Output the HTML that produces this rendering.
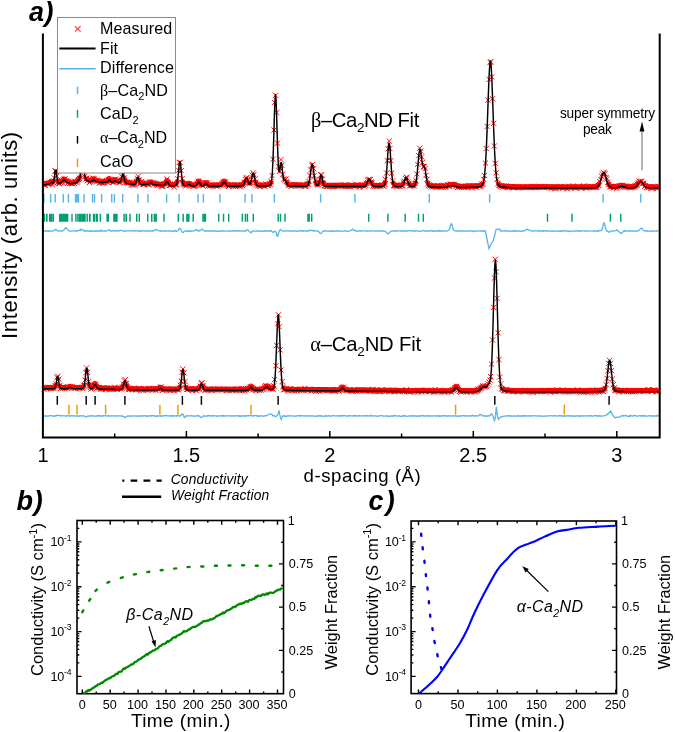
<!DOCTYPE html><html><head><meta charset="utf-8"><style>html,body{margin:0;padding:0;background:#fff;width:675px;height:732px;overflow:hidden}svg{display:block}</style></head><body><svg width="675" height="732" viewBox="0 0 675 732">
<rect width="675" height="732" fill="#fff"/>
<path d="M43.9 183.7 L44.4 183.6 L44.9 183.6 L45.4 183.5 L45.9 183.4 L46.4 183.3 L46.9 183.2 L47.4 183.1 L47.9 183.0 L48.4 182.9 L48.9 182.9 L49.4 182.7 L49.9 182.6 L50.4 182.3 L50.9 181.6 L51.4 181.0 L51.9 181.2 L52.4 181.9 L52.9 182.0 L53.4 181.4 L53.9 179.6 M57.4 179.1 L57.9 181.1 L58.4 182.1 L58.9 182.3 L59.4 182.2 L59.9 182.0 L60.4 181.7 L60.9 181.4 L61.4 181.1 L61.9 180.7 L62.4 180.2 L62.9 179.7 L63.4 179.2 L63.9 178.9 L64.4 179.0 L64.9 179.4 L65.4 179.8 L65.9 180.1 L66.4 180.6 L66.9 180.9 L67.4 181.2 L67.9 181.4 L68.4 181.6 L68.9 181.8 L69.4 182.0 L69.9 182.2 L70.4 182.4 L70.9 182.4 L71.4 182.3 L71.9 182.3 L72.4 182.3 L72.9 182.2 L73.4 182.2 L73.9 182.1 L74.4 182.1 L74.9 181.9 L75.4 181.6 L75.9 181.3 L76.4 181.0 L76.9 180.7 L77.4 180.3 L77.9 179.9 L78.4 179.6 L78.9 179.0 L79.4 177.9 L79.9 176.0 M85.4 176.9 L85.9 178.2 L86.4 178.9 L86.9 179.3 L87.4 179.6 L87.9 179.8 L88.4 180.0 L88.9 180.2 L89.4 180.4 L89.9 180.5 L90.4 180.5 L90.9 180.4 L91.4 180.3 L91.9 180.0 L92.4 179.5 L92.9 178.9 L93.4 178.6 L93.9 178.6 L94.4 179.0 L94.9 179.5 L95.4 179.9 L95.9 180.1 L96.4 180.2 L96.9 180.3 L97.4 180.4 L97.9 180.6 L98.4 180.7 L98.9 180.8 L99.4 181.0 L99.9 181.1 L100.4 181.2 L100.9 181.3 L101.4 181.3 L101.9 181.3 L102.4 181.2 L102.9 181.2 L103.4 181.2 L103.9 181.1 L104.4 181.1 L104.9 181.1 L105.4 181.0 L105.9 181.0 L106.4 180.9 L106.9 180.9 L107.4 180.6 L107.9 180.1 L108.4 179.2 L108.9 178.4 L109.4 178.3 L109.9 179.1 L110.4 180.0 L110.9 180.6 L111.4 180.8 L111.9 180.9 L112.4 180.9 L112.9 180.9 L113.4 180.8 L113.9 180.4 L114.4 179.8 L114.9 179.4 L115.4 179.5 L115.9 180.0 L116.4 180.6 L116.9 181.0 L117.4 181.2 L117.9 181.2 L118.4 181.2 L118.9 181.3 L119.4 181.3 L119.9 181.2 L120.4 180.8 L120.9 179.9 L121.4 178.3 M124.4 177.8 L124.9 179.8 L125.4 181.1 L125.9 181.7 L126.4 182.0 L126.9 182.2 L127.4 182.3 L127.9 182.3 L128.4 182.4 L128.9 182.5 L129.4 182.6 L129.9 182.7 L130.4 182.8 L130.9 182.9 L131.4 183.0 L131.9 183.1 L132.4 183.1 L132.9 183.2 L133.4 183.3 L133.9 183.3 L134.4 183.3 L134.9 183.1 L135.4 182.5 L135.9 181.4 L136.4 179.8 M138.9 178.7 L139.4 180.5 L139.9 181.9 L140.4 182.8 L140.9 183.2 L141.4 183.4 L141.9 183.4 L142.4 183.4 L142.9 183.4 L143.4 183.3 L143.9 183.3 L144.4 183.3 L144.9 183.2 L145.4 183.2 L145.9 183.2 L146.4 183.1 L146.9 183.1 L147.4 183.1 L147.9 183.1 L148.4 182.9 L148.9 182.7 L149.4 182.4 L149.9 182.0 L150.4 181.8 L150.9 181.8 L151.4 182.0 L151.9 182.4 L152.4 182.8 L152.9 183.1 L153.4 183.3 L153.9 183.4 L154.4 183.5 L154.9 183.5 L155.4 183.5 L155.9 183.5 L156.4 183.6 L156.9 183.7 L157.4 183.7 L157.9 183.8 L158.4 183.9 L158.9 183.9 L159.4 184.0 L159.9 184.1 L160.4 184.1 L160.9 184.2 L161.4 184.3 L161.9 184.3 L162.4 184.3 L162.9 184.3 L163.4 184.3 L163.9 184.1 L164.4 183.8 L164.9 183.3 L165.4 182.5 L165.9 181.5 L166.4 180.6 L166.9 180.2 L167.4 180.4 L167.9 181.1 L168.4 182.2 L168.9 183.1 L169.4 183.8 L169.9 184.2 L170.4 184.4 L170.9 184.5 L171.4 184.5 L171.9 184.5 L172.4 184.5 L172.9 184.5 L173.4 184.5 L173.9 184.5 L174.4 184.4 L174.9 184.4 L175.4 184.2 L175.9 184.0 L176.4 183.4 L176.9 182.2 L177.4 179.9 M182.4 179.9 L182.9 182.2 L183.4 183.5 L183.9 184.1 L184.4 184.3 L184.9 184.4 L185.4 184.5 L185.9 184.4 L186.4 184.3 L186.9 184.1 L187.4 183.8 L187.9 183.4 L188.4 183.1 L188.9 183.1 L189.4 183.3 L189.9 183.6 L190.4 184.0 L190.9 184.3 L191.4 184.6 L191.9 184.7 L192.4 184.8 L192.9 184.8 L193.4 184.8 L193.9 184.8 L194.4 184.8 L194.9 184.8 L195.4 184.7 L195.9 184.4 L196.4 184.0 L196.9 183.3 L197.4 182.4 L197.9 181.5 L198.4 180.9 L198.9 180.8 L199.4 181.4 L199.9 182.3 L200.4 183.2 L200.9 183.9 L201.4 184.4 L201.9 184.7 L202.4 184.8 L202.9 184.7 L203.4 184.6 L203.9 184.2 L204.4 183.7 L204.9 183.2 L205.4 182.6 L205.9 182.4 L206.4 182.5 L206.9 182.9 L207.4 183.5 L207.9 184.1 L208.4 184.5 L208.9 184.7 L209.4 184.9 L209.9 184.9 L210.4 184.9 L210.9 184.9 L211.4 185.0 L211.9 185.0 L212.4 185.0 L212.9 185.0 L213.4 185.0 L213.9 185.0 L214.4 185.0 L214.9 185.0 L215.4 185.0 L215.9 185.0 L216.4 185.0 L216.9 185.0 L217.4 185.0 L217.9 185.0 L218.4 185.0 L218.9 185.0 L219.4 184.9 L219.9 184.9 L220.4 184.8 L220.9 184.7 L221.4 184.4 L221.9 183.9 L222.4 183.2 L222.9 182.3 L223.4 181.5 L223.9 180.9 L224.4 180.8 L224.9 181.3 L225.4 182.1 L225.9 183.1 L226.4 183.8 L226.9 184.4 L227.4 184.7 L227.9 184.8 L228.4 184.9 L228.9 184.9 L229.4 185.0 L229.9 185.0 L230.4 185.0 L230.9 185.0 L231.4 185.0 L231.9 185.0 L232.4 185.0 L232.9 185.0 L233.4 185.0 L233.9 185.0 L234.4 185.0 L234.9 185.0 L235.4 185.0 L235.9 185.0 L236.4 185.0 L236.9 185.0 L237.4 185.0 L237.9 185.0 L238.4 185.0 L238.9 185.0 L239.4 184.9 L239.9 184.9 L240.4 184.9 L240.9 184.9 L241.4 184.9 L241.9 184.8 L242.4 184.7 L242.9 184.4 L243.4 183.9 L243.9 183.1 L244.4 181.9 L244.9 180.3 M248.4 181.1 L248.9 182.3 L249.4 183.0 L249.9 183.0 L250.4 182.3 L250.9 180.8 M255.4 180.6 L255.9 182.3 L256.4 183.5 L256.9 184.2 L257.4 184.5 L257.9 184.7 L258.4 184.8 L258.9 184.8 L259.4 184.8 L259.9 184.8 L260.4 184.8 L260.9 184.8 L261.4 184.8 L261.9 184.8 L262.4 184.8 L262.9 184.8 L263.4 184.8 L263.9 184.8 L264.4 184.7 L264.9 184.7 L265.4 184.7 L265.9 184.7 L266.4 184.6 L266.9 184.6 L267.4 184.5 L267.9 184.4 L268.4 184.4 L268.9 184.2 L269.4 184.1 L269.9 183.8 L270.4 183.4 L270.9 182.4 L271.4 180.5 M286.4 180.9 L286.9 182.2 L287.4 183.3 L287.9 184.0 L288.4 184.4 L288.9 184.7 L289.4 184.8 L289.9 184.8 L290.4 184.8 L290.9 184.9 L291.4 184.9 L291.9 184.9 L292.4 184.9 L292.9 184.9 L293.4 185.0 L293.9 185.0 L294.4 185.0 L294.9 185.0 L295.4 185.0 L295.9 185.0 L296.4 185.0 L296.9 185.0 L297.4 185.0 L297.9 185.0 L298.4 185.0 L298.9 185.0 L299.4 185.0 L299.9 185.0 L300.4 185.0 L300.9 185.0 L301.4 185.0 L301.9 185.0 L302.4 185.0 L302.9 185.0 L303.4 185.0 L303.9 185.0 L304.4 185.0 L304.9 184.9 L305.4 184.9 L305.9 184.9 L306.4 184.8 L306.9 184.6 L307.4 184.4 L307.9 183.9 L308.4 182.9 L308.9 181.4 M315.4 181.0 L315.9 182.6 L316.4 183.6 L316.9 184.1 L317.4 184.3 L317.9 184.2 L318.4 183.5 L318.9 182.3 L319.4 180.3 M322.9 180.9 L323.4 182.8 L323.9 183.9 L324.4 184.6 L324.9 184.8 L325.4 185.0 L325.9 185.0 L326.4 185.1 L326.9 185.1 L327.4 185.1 L327.9 185.1 L328.4 185.1 L328.9 185.1 L329.4 185.1 L329.9 185.2 L330.4 185.2 L330.9 185.2 L331.4 185.2 L331.9 185.2 L332.4 185.2 L332.9 185.2 L333.4 185.2 L333.9 185.2 L334.4 185.2 L334.9 185.2 L335.4 185.2 L335.9 185.2 L336.4 185.2 L336.9 185.2 L337.4 185.2 L337.9 185.2 L338.4 185.2 L338.9 185.2 L339.4 185.2 L339.9 185.2 L340.4 185.2 L340.9 185.2 L341.4 185.2 L341.9 185.2 L342.4 185.2 L342.9 185.2 L343.4 185.2 L343.9 185.2 L344.4 185.2 L344.9 185.2 L345.4 185.2 L345.9 185.2 L346.4 185.2 L346.9 185.2 L347.4 185.2 L347.9 185.2 L348.4 185.2 L348.9 185.2 L349.4 185.2 L349.9 185.2 L350.4 185.2 L350.9 185.2 L351.4 185.3 L351.9 185.3 L352.4 185.3 L352.9 185.3 L353.4 185.3 L353.9 185.3 L354.4 185.3 L354.9 185.3 L355.4 185.3 L355.9 185.3 L356.4 185.3 L356.9 185.3 L357.4 185.3 L357.9 185.3 L358.4 185.3 L358.9 185.3 L359.4 185.3 L359.9 185.3 L360.4 185.3 L360.9 185.3 L361.4 185.3 L361.9 185.3 L362.4 185.3 L362.9 185.3 L363.4 185.2 L363.9 185.2 L364.4 185.1 L364.9 184.9 L365.4 184.6 L365.9 184.1 L366.4 183.3 L366.9 182.2 L367.4 181.0 M370.9 180.7 L371.4 182.0 L371.9 183.1 L372.4 184.0 L372.9 184.6 L373.4 184.9 L373.9 185.1 L374.4 185.2 L374.9 185.3 L375.4 185.3 L375.9 185.3 L376.4 185.3 L376.9 185.3 L377.4 185.3 L377.9 185.3 L378.4 185.3 L378.9 185.3 L379.4 185.3 L379.9 185.3 L380.4 185.3 L380.9 185.2 L381.4 185.2 L381.9 185.2 L382.4 185.1 L382.9 185.0 L383.4 184.8 L383.9 184.5 L384.4 183.9 L384.9 182.8 L385.4 180.8 M392.9 181.3 L393.4 183.1 L393.9 184.1 L394.4 184.7 L394.9 185.0 L395.4 185.1 L395.9 185.2 L396.4 185.3 L396.9 185.3 L397.4 185.3 L397.9 185.4 L398.4 185.4 L398.9 185.4 L399.4 185.4 L399.9 185.4 L400.4 185.4 L400.9 185.3 L401.4 185.2 L401.9 185.0 L402.4 184.6 L402.9 183.9 L403.4 182.9 L403.9 181.6 M408.4 181.9 L408.9 183.1 L409.4 184.1 L409.9 184.7 L410.4 185.0 L410.9 185.2 L411.4 185.3 L411.9 185.3 L412.4 185.3 L412.9 185.3 L413.4 185.1 L413.9 184.9 L414.4 184.6 L414.9 183.9 L415.4 182.8 L415.9 181.0 M427.4 181.4 L427.9 183.1 L428.4 184.2 L428.9 184.9 L429.4 185.3 L429.9 185.5 L430.4 185.6 L430.9 185.7 L431.4 185.7 L431.9 185.8 L432.4 185.8 L432.9 185.8 L433.4 185.8 L433.9 185.9 L434.4 185.9 L434.9 185.9 L435.4 185.9 L435.9 185.9 L436.4 185.9 L436.9 186.0 L437.4 186.0 L437.9 186.0 L438.4 186.0 L438.9 186.0 L439.4 186.0 L439.9 186.0 L440.4 186.0 L440.9 186.0 L441.4 186.0 L441.9 186.0 L442.4 186.1 L442.9 186.1 L443.4 186.1 L443.9 186.0 L444.4 186.0 L444.9 186.0 L445.4 186.0 L445.9 185.9 L446.4 185.7 L446.9 185.6 L447.4 185.3 L447.9 185.1 L448.4 184.9 L448.9 184.6 L449.4 184.5 L449.9 184.4 L450.4 184.4 L450.9 184.5 L451.4 184.6 L451.9 184.6 L452.4 184.6 L452.9 184.5 L453.4 184.5 L453.9 184.4 L454.4 184.4 L454.9 184.6 L455.4 184.8 L455.9 185.0 L456.4 185.3 L456.9 185.5 L457.4 185.7 L457.9 185.9 L458.4 186.0 L458.9 186.1 L459.4 186.1 L459.9 186.2 L460.4 186.2 L460.9 186.2 L461.4 186.2 L461.9 186.2 L462.4 186.2 L462.9 186.2 L463.4 186.2 L463.9 186.2 L464.4 186.2 L464.9 186.2 L465.4 186.2 L465.9 186.2 L466.4 186.2 L466.9 186.2 L467.4 186.2 L467.9 186.2 L468.4 186.2 L468.9 186.1 L469.4 186.1 L469.9 186.1 L470.4 186.1 L470.9 186.1 L471.4 186.1 L471.9 186.1 L472.4 186.1 L472.9 186.0 L473.4 186.0 L473.9 186.0 L474.4 186.0 L474.9 185.9 L475.4 185.9 L475.9 185.9 L476.4 185.8 L476.9 185.8 L477.4 185.7 L477.9 185.7 L478.4 185.6 L478.9 185.5 L479.4 185.4 L479.9 185.3 L480.4 185.2 L480.9 185.0 L481.4 184.7 L481.9 184.2 L482.4 183.5 L482.9 182.5 M497.9 182.6 L498.4 183.7 L498.9 184.4 L499.4 184.8 L499.9 185.2 L500.4 185.4 L500.9 185.5 L501.4 185.6 L501.9 185.7 L502.4 185.8 L502.9 185.9 L503.4 186.0 L503.9 186.0 L504.4 186.1 L504.9 186.1 L505.4 186.2 L505.9 186.2 L506.4 186.2 L506.9 186.3 L507.4 186.3 L507.9 186.3 L508.4 186.3 L508.9 186.4 L509.4 186.4 L509.9 186.4 L510.4 186.4 L510.9 186.4 L511.4 186.5 L511.9 186.5 L512.4 186.5 L512.9 186.5 L513.4 186.5 L513.9 186.5 L514.4 186.5 L514.9 186.5 L515.4 186.5 L515.9 186.6 L516.4 186.6 L516.9 186.6 L517.4 186.6 L517.9 186.6 L518.4 186.6 L518.9 186.6 L519.4 186.6 L519.9 186.6 L520.4 186.6 L520.9 186.6 L521.4 186.6 L521.9 186.6 L522.4 186.6 L522.9 186.6 L523.4 186.6 L523.9 186.6 L524.4 186.6 L524.9 186.7 L525.4 186.7 L525.9 186.7 L526.4 186.7 L526.9 186.7 L527.4 186.7 L527.9 186.7 L528.4 186.7 L528.9 186.7 L529.4 186.7 L529.9 186.7 L530.4 186.7 L530.9 186.7 L531.4 186.7 L531.9 186.7 L532.4 186.7 L532.9 186.7 L533.4 186.7 L533.9 186.7 L534.4 186.7 L534.9 186.7 L535.4 186.7 L535.9 186.7 L536.4 186.7 L536.9 186.7 L537.4 186.7 L537.9 186.7 L538.4 186.7 L538.9 186.7 L539.4 186.7 L539.9 186.7 L540.4 186.7 L540.9 186.7 L541.4 186.7 L541.9 186.7 L542.4 186.7 L542.9 186.7 L543.4 186.7 L543.9 186.7 L544.4 186.7 L544.9 186.7 L545.4 186.7 L545.9 186.7 L546.4 186.7 L546.9 186.7 L547.4 186.7 L547.9 186.7 L548.4 186.7 L548.9 186.7 L549.4 186.7 L549.9 186.7 L550.4 186.7 L550.9 186.7 L551.4 186.7 L551.9 186.7 L552.4 186.7 L552.9 186.7 L553.4 186.7 L553.9 186.7 L554.4 186.7 L554.9 186.7 L555.4 186.7 L555.9 186.7 L556.4 186.7 L556.9 186.7 L557.4 186.7 L557.9 186.7 L558.4 186.7 L558.9 186.7 L559.4 186.7 L559.9 186.7 L560.4 186.7 L560.9 186.7 L561.4 186.7 L561.9 186.7 L562.4 186.7 L562.9 186.7 L563.4 186.7 L563.9 186.7 L564.4 186.7 L564.9 186.7 L565.4 186.7 L565.9 186.7 L566.4 186.7 L566.9 186.7 L567.4 186.7 L567.9 186.7 L568.4 186.7 L568.9 186.7 L569.4 186.7 L569.9 186.7 L570.4 186.7 L570.9 186.7 L571.4 186.7 L571.9 186.7 L572.4 186.7 L572.9 186.7 L573.4 186.7 L573.9 186.7 L574.4 186.7 L574.9 186.7 L575.4 186.7 L575.9 186.7 L576.4 186.7 L576.9 186.7 L577.4 186.7 L577.9 186.7 L578.4 186.7 L578.9 186.7 L579.4 186.7 L579.9 186.7 L580.4 186.7 L580.9 186.7 L581.4 186.7 L581.9 186.7 L582.4 186.7 L582.9 186.7 L583.4 186.7 L583.9 186.7 L584.4 186.7 L584.9 186.7 L585.4 186.7 L585.9 186.7 L586.4 186.7 L586.9 186.7 L587.4 186.7 L587.9 186.7 L588.4 186.7 L588.9 186.7 L589.4 186.6 L589.9 186.6 L590.4 186.6 L590.9 186.6 L591.4 186.6 L591.9 186.6 L592.4 186.6 L592.9 186.6 L593.4 186.6 L593.9 186.6 L594.4 186.5 L594.9 186.5 L595.4 186.4 L595.9 186.4 L596.4 186.2 L596.9 186.0 L597.4 185.7 L597.9 185.3 L598.4 184.7 L598.9 183.9 L599.4 182.9 M607.9 182.6 L608.4 183.7 L608.9 184.6 L609.4 185.2 L609.9 185.7 L610.4 186.0 L610.9 186.2 L611.4 186.3 L611.9 186.4 L612.4 186.5 L612.9 186.5 L613.4 186.5 L613.9 186.5 L614.4 186.5 L614.9 186.5 L615.4 186.5 L615.9 186.5 L616.4 186.4 L616.9 186.4 L617.4 186.3 L617.9 186.1 L618.4 186.0 L618.9 185.8 L619.4 185.7 L619.9 185.5 L620.4 185.3 L620.9 185.2 L621.4 185.1 L621.9 185.1 L622.4 185.2 L622.9 185.3 L623.4 185.4 L623.9 185.6 L624.4 185.7 L624.9 185.9 L625.4 186.1 L625.9 186.2 L626.4 186.3 L626.9 186.4 L627.4 186.5 L627.9 186.5 L628.4 186.6 L628.9 186.6 L629.4 186.6 L629.9 186.6 L630.4 186.6 L630.9 186.6 L631.4 186.6 L631.9 186.6 L632.4 186.6 L632.9 186.5 L633.4 186.5 L633.9 186.4 L634.4 186.3 L634.9 186.1 L635.4 185.8 L635.9 185.5 L636.4 185.1 L636.9 184.5 L637.4 183.9 L637.9 183.2 L638.4 182.4 L638.9 181.7 M642.9 182.3 L643.4 183.0 L643.9 183.8 L644.4 184.4 L644.9 185.0 L645.4 185.4 L645.9 185.8 L646.4 186.1 L646.9 186.3 L647.4 186.4 L647.9 186.5 L648.4 186.5 L648.9 186.6 L649.4 186.6 L649.9 186.6 L650.4 186.6 L650.9 186.6 L651.4 186.6 L651.9 186.6 L652.4 186.6 L652.9 186.6 L653.4 186.6 L653.9 186.7 L654.4 186.7 L654.9 186.7 L655.4 186.7 L655.9 186.7 L656.4 186.7 L656.9 186.7 L657.4 186.7 L657.9 186.7 L658.4 186.7" stroke="#ff0000" stroke-width="4.8" fill="none" stroke-linejoin="round" opacity="0.92"/>
<path d="M41.9 182.7l5.2 5.2m0 -5.2l-5.2 5.2M42.6 182.7l5.2 5.2m0 -5.2l-5.2 5.2M43.7 180.4l5.2 5.2m0 -5.2l-5.2 5.2M44.6 181.2l5.2 5.2m0 -5.2l-5.2 5.2M45.5 181.2l5.2 5.2m0 -5.2l-5.2 5.2M46.3 181.0l5.2 5.2m0 -5.2l-5.2 5.2M47.2 180.6l5.2 5.2m0 -5.2l-5.2 5.2M48.2 179.9l5.2 5.2m0 -5.2l-5.2 5.2M49.2 179.2l5.2 5.2m0 -5.2l-5.2 5.2M49.7 182.0l5.2 5.2m0 -5.2l-5.2 5.2M51.0 180.4l5.2 5.2m0 -5.2l-5.2 5.2M51.7 175.3l5.2 5.2m0 -5.2l-5.2 5.2M52.4 168.4l5.2 5.2m0 -5.2l-5.2 5.2M53.4 168.5l5.2 5.2m0 -5.2l-5.2 5.2M54.3 173.4l5.2 5.2m0 -5.2l-5.2 5.2M55.2 179.5l5.2 5.2m0 -5.2l-5.2 5.2M56.1 180.5l5.2 5.2m0 -5.2l-5.2 5.2M56.9 181.0l5.2 5.2m0 -5.2l-5.2 5.2M58.1 180.1l5.2 5.2m0 -5.2l-5.2 5.2M58.8 178.1l5.2 5.2m0 -5.2l-5.2 5.2M59.6 179.9l5.2 5.2m0 -5.2l-5.2 5.2M60.6 177.2l5.2 5.2m0 -5.2l-5.2 5.2M61.8 176.7l5.2 5.2m0 -5.2l-5.2 5.2M62.5 176.2l5.2 5.2m0 -5.2l-5.2 5.2M63.3 178.8l5.2 5.2m0 -5.2l-5.2 5.2M64.3 177.8l5.2 5.2m0 -5.2l-5.2 5.2M65.2 180.6l5.2 5.2m0 -5.2l-5.2 5.2M66.1 178.7l5.2 5.2m0 -5.2l-5.2 5.2M67.1 180.7l5.2 5.2m0 -5.2l-5.2 5.2M67.9 180.6l5.2 5.2m0 -5.2l-5.2 5.2M68.9 180.8l5.2 5.2m0 -5.2l-5.2 5.2M69.8 181.2l5.2 5.2m0 -5.2l-5.2 5.2M70.6 179.6l5.2 5.2m0 -5.2l-5.2 5.2M71.6 180.8l5.2 5.2m0 -5.2l-5.2 5.2M72.4 179.0l5.2 5.2m0 -5.2l-5.2 5.2M73.1 179.2l5.2 5.2m0 -5.2l-5.2 5.2M74.4 180.0l5.2 5.2m0 -5.2l-5.2 5.2M75.1 178.5l5.2 5.2m0 -5.2l-5.2 5.2M76.0 177.0l5.2 5.2m0 -5.2l-5.2 5.2M77.1 175.9l5.2 5.2m0 -5.2l-5.2 5.2M77.9 171.5l5.2 5.2m0 -5.2l-5.2 5.2M78.6 163.9l5.2 5.2m0 -5.2l-5.2 5.2M79.6 157.8l5.2 5.2m0 -5.2l-5.2 5.2M80.5 161.0l5.2 5.2m0 -5.2l-5.2 5.2M81.6 166.9l5.2 5.2m0 -5.2l-5.2 5.2M82.1 173.9l5.2 5.2m0 -5.2l-5.2 5.2M83.4 176.3l5.2 5.2m0 -5.2l-5.2 5.2M84.2 175.6l5.2 5.2m0 -5.2l-5.2 5.2M85.0 178.1l5.2 5.2m0 -5.2l-5.2 5.2M85.9 177.1l5.2 5.2m0 -5.2l-5.2 5.2M86.8 180.0l5.2 5.2m0 -5.2l-5.2 5.2M87.6 179.1l5.2 5.2m0 -5.2l-5.2 5.2M88.5 177.4l5.2 5.2m0 -5.2l-5.2 5.2M89.4 177.8l5.2 5.2m0 -5.2l-5.2 5.2M90.4 175.7l5.2 5.2m0 -5.2l-5.2 5.2M91.3 176.3l5.2 5.2m0 -5.2l-5.2 5.2M92.1 178.0l5.2 5.2m0 -5.2l-5.2 5.2M93.1 178.1l5.2 5.2m0 -5.2l-5.2 5.2M94.1 179.2l5.2 5.2m0 -5.2l-5.2 5.2M95.0 177.3l5.2 5.2m0 -5.2l-5.2 5.2M95.9 178.6l5.2 5.2m0 -5.2l-5.2 5.2M96.5 180.6l5.2 5.2m0 -5.2l-5.2 5.2M97.7 179.3l5.2 5.2m0 -5.2l-5.2 5.2M98.4 179.4l5.2 5.2m0 -5.2l-5.2 5.2M99.3 180.2l5.2 5.2m0 -5.2l-5.2 5.2M100.1 180.0l5.2 5.2m0 -5.2l-5.2 5.2M101.1 179.7l5.2 5.2m0 -5.2l-5.2 5.2M102.0 179.9l5.2 5.2m0 -5.2l-5.2 5.2M102.9 178.8l5.2 5.2m0 -5.2l-5.2 5.2M103.9 178.0l5.2 5.2m0 -5.2l-5.2 5.2M104.8 179.5l5.2 5.2m0 -5.2l-5.2 5.2M105.6 177.6l5.2 5.2m0 -5.2l-5.2 5.2M106.6 177.7l5.2 5.2m0 -5.2l-5.2 5.2M107.4 178.6l5.2 5.2m0 -5.2l-5.2 5.2M108.2 177.4l5.2 5.2m0 -5.2l-5.2 5.2M109.1 177.9l5.2 5.2m0 -5.2l-5.2 5.2M110.1 179.7l5.2 5.2m0 -5.2l-5.2 5.2M111.2 179.6l5.2 5.2m0 -5.2l-5.2 5.2M111.9 177.1l5.2 5.2m0 -5.2l-5.2 5.2M113.1 176.6l5.2 5.2m0 -5.2l-5.2 5.2M113.7 178.9l5.2 5.2m0 -5.2l-5.2 5.2M114.8 178.2l5.2 5.2m0 -5.2l-5.2 5.2M115.5 178.4l5.2 5.2m0 -5.2l-5.2 5.2M116.6 180.0l5.2 5.2m0 -5.2l-5.2 5.2M117.6 179.8l5.2 5.2m0 -5.2l-5.2 5.2M118.5 178.2l5.2 5.2m0 -5.2l-5.2 5.2M119.1 173.9l5.2 5.2m0 -5.2l-5.2 5.2M120.3 172.5l5.2 5.2m0 -5.2l-5.2 5.2M120.9 171.8l5.2 5.2m0 -5.2l-5.2 5.2M121.7 175.4l5.2 5.2m0 -5.2l-5.2 5.2M122.9 179.3l5.2 5.2m0 -5.2l-5.2 5.2M123.9 179.8l5.2 5.2m0 -5.2l-5.2 5.2M124.7 179.8l5.2 5.2m0 -5.2l-5.2 5.2M125.7 180.1l5.2 5.2m0 -5.2l-5.2 5.2M126.4 180.2l5.2 5.2m0 -5.2l-5.2 5.2M127.2 179.7l5.2 5.2m0 -5.2l-5.2 5.2M128.2 181.2l5.2 5.2m0 -5.2l-5.2 5.2M129.0 182.2l5.2 5.2m0 -5.2l-5.2 5.2M129.9 182.2l5.2 5.2m0 -5.2l-5.2 5.2M130.9 182.1l5.2 5.2m0 -5.2l-5.2 5.2M132.0 180.5l5.2 5.2m0 -5.2l-5.2 5.2M132.5 182.2l5.2 5.2m0 -5.2l-5.2 5.2M133.8 178.7l5.2 5.2m0 -5.2l-5.2 5.2M134.6 176.0l5.2 5.2m0 -5.2l-5.2 5.2M135.5 173.8l5.2 5.2m0 -5.2l-5.2 5.2M136.4 177.2l5.2 5.2m0 -5.2l-5.2 5.2M137.4 180.4l5.2 5.2m0 -5.2l-5.2 5.2M138.2 180.7l5.2 5.2m0 -5.2l-5.2 5.2M138.9 178.9l5.2 5.2m0 -5.2l-5.2 5.2M140.0 181.6l5.2 5.2m0 -5.2l-5.2 5.2M141.0 181.8l5.2 5.2m0 -5.2l-5.2 5.2M141.6 181.5l5.2 5.2m0 -5.2l-5.2 5.2M142.7 181.3l5.2 5.2m0 -5.2l-5.2 5.2M143.4 180.0l5.2 5.2m0 -5.2l-5.2 5.2M144.5 180.8l5.2 5.2m0 -5.2l-5.2 5.2M145.3 181.7l5.2 5.2m0 -5.2l-5.2 5.2M146.1 182.4l5.2 5.2m0 -5.2l-5.2 5.2M147.1 179.6l5.2 5.2m0 -5.2l-5.2 5.2M147.8 180.0l5.2 5.2m0 -5.2l-5.2 5.2M149.0 180.2l5.2 5.2m0 -5.2l-5.2 5.2M149.7 181.1l5.2 5.2m0 -5.2l-5.2 5.2M150.7 179.7l5.2 5.2m0 -5.2l-5.2 5.2M151.6 181.6l5.2 5.2m0 -5.2l-5.2 5.2M152.4 180.7l5.2 5.2m0 -5.2l-5.2 5.2M153.6 182.1l5.2 5.2m0 -5.2l-5.2 5.2M154.3 182.0l5.2 5.2m0 -5.2l-5.2 5.2M155.1 182.6l5.2 5.2m0 -5.2l-5.2 5.2M156.2 181.5l5.2 5.2m0 -5.2l-5.2 5.2M157.1 182.1l5.2 5.2m0 -5.2l-5.2 5.2M157.7 182.0l5.2 5.2m0 -5.2l-5.2 5.2M158.6 183.6l5.2 5.2m0 -5.2l-5.2 5.2M159.6 183.5l5.2 5.2m0 -5.2l-5.2 5.2M160.4 183.2l5.2 5.2m0 -5.2l-5.2 5.2M161.4 182.0l5.2 5.2m0 -5.2l-5.2 5.2M162.2 181.2l5.2 5.2m0 -5.2l-5.2 5.2M163.5 180.9l5.2 5.2m0 -5.2l-5.2 5.2M164.4 176.5l5.2 5.2m0 -5.2l-5.2 5.2M165.0 180.4l5.2 5.2m0 -5.2l-5.2 5.2M165.8 180.5l5.2 5.2m0 -5.2l-5.2 5.2M167.0 182.8l5.2 5.2m0 -5.2l-5.2 5.2M168.0 182.5l5.2 5.2m0 -5.2l-5.2 5.2M168.6 182.5l5.2 5.2m0 -5.2l-5.2 5.2M169.5 181.8l5.2 5.2m0 -5.2l-5.2 5.2M170.3 182.0l5.2 5.2m0 -5.2l-5.2 5.2M171.6 184.4l5.2 5.2m0 -5.2l-5.2 5.2M172.1 181.2l5.2 5.2m0 -5.2l-5.2 5.2M173.4 182.3l5.2 5.2m0 -5.2l-5.2 5.2M174.1 181.9l5.2 5.2m0 -5.2l-5.2 5.2M174.9 176.1l5.2 5.2m0 -5.2l-5.2 5.2M175.9 167.6l5.2 5.2m0 -5.2l-5.2 5.2M176.6 159.8l5.2 5.2m0 -5.2l-5.2 5.2M177.6 159.9l5.2 5.2m0 -5.2l-5.2 5.2M178.7 168.1l5.2 5.2m0 -5.2l-5.2 5.2M179.6 175.9l5.2 5.2m0 -5.2l-5.2 5.2M180.3 181.1l5.2 5.2m0 -5.2l-5.2 5.2M181.2 181.9l5.2 5.2m0 -5.2l-5.2 5.2M182.4 182.0l5.2 5.2m0 -5.2l-5.2 5.2M183.0 183.4l5.2 5.2m0 -5.2l-5.2 5.2M184.0 181.9l5.2 5.2m0 -5.2l-5.2 5.2M184.9 182.3l5.2 5.2m0 -5.2l-5.2 5.2M185.7 181.2l5.2 5.2m0 -5.2l-5.2 5.2M186.5 181.3l5.2 5.2m0 -5.2l-5.2 5.2M187.4 181.7l5.2 5.2m0 -5.2l-5.2 5.2M188.6 182.4l5.2 5.2m0 -5.2l-5.2 5.2M189.4 182.5l5.2 5.2m0 -5.2l-5.2 5.2M190.4 183.7l5.2 5.2m0 -5.2l-5.2 5.2M191.3 183.2l5.2 5.2m0 -5.2l-5.2 5.2M191.9 183.3l5.2 5.2m0 -5.2l-5.2 5.2M193.1 182.9l5.2 5.2m0 -5.2l-5.2 5.2M194.1 181.8l5.2 5.2m0 -5.2l-5.2 5.2M194.6 180.6l5.2 5.2m0 -5.2l-5.2 5.2M195.7 178.5l5.2 5.2m0 -5.2l-5.2 5.2M196.8 179.5l5.2 5.2m0 -5.2l-5.2 5.2M197.4 180.4l5.2 5.2m0 -5.2l-5.2 5.2M198.3 182.2l5.2 5.2m0 -5.2l-5.2 5.2M199.5 182.6l5.2 5.2m0 -5.2l-5.2 5.2M200.3 183.1l5.2 5.2m0 -5.2l-5.2 5.2M201.2 181.2l5.2 5.2m0 -5.2l-5.2 5.2M202.0 181.4l5.2 5.2m0 -5.2l-5.2 5.2M202.8 180.2l5.2 5.2m0 -5.2l-5.2 5.2M203.7 180.3l5.2 5.2m0 -5.2l-5.2 5.2M204.5 180.6l5.2 5.2m0 -5.2l-5.2 5.2M205.6 183.3l5.2 5.2m0 -5.2l-5.2 5.2M206.5 182.6l5.2 5.2m0 -5.2l-5.2 5.2M207.4 183.3l5.2 5.2m0 -5.2l-5.2 5.2M208.2 182.5l5.2 5.2m0 -5.2l-5.2 5.2M209.3 183.0l5.2 5.2m0 -5.2l-5.2 5.2M210.1 183.1l5.2 5.2m0 -5.2l-5.2 5.2M210.9 182.8l5.2 5.2m0 -5.2l-5.2 5.2M211.8 182.9l5.2 5.2m0 -5.2l-5.2 5.2M212.9 183.3l5.2 5.2m0 -5.2l-5.2 5.2M213.7 183.3l5.2 5.2m0 -5.2l-5.2 5.2M214.5 182.4l5.2 5.2m0 -5.2l-5.2 5.2M215.3 183.4l5.2 5.2m0 -5.2l-5.2 5.2M216.5 182.3l5.2 5.2m0 -5.2l-5.2 5.2M217.3 182.8l5.2 5.2m0 -5.2l-5.2 5.2M218.1 182.4l5.2 5.2m0 -5.2l-5.2 5.2M219.1 181.3l5.2 5.2m0 -5.2l-5.2 5.2M220.0 180.5l5.2 5.2m0 -5.2l-5.2 5.2M220.9 179.4l5.2 5.2m0 -5.2l-5.2 5.2M221.7 179.9l5.2 5.2m0 -5.2l-5.2 5.2M222.8 179.3l5.2 5.2m0 -5.2l-5.2 5.2M223.6 181.7l5.2 5.2m0 -5.2l-5.2 5.2M224.7 182.6l5.2 5.2m0 -5.2l-5.2 5.2M225.6 183.4l5.2 5.2m0 -5.2l-5.2 5.2M226.2 183.7l5.2 5.2m0 -5.2l-5.2 5.2M227.1 182.6l5.2 5.2m0 -5.2l-5.2 5.2M228.2 182.0l5.2 5.2m0 -5.2l-5.2 5.2M229.1 182.9l5.2 5.2m0 -5.2l-5.2 5.2M230.1 182.2l5.2 5.2m0 -5.2l-5.2 5.2M230.7 183.7l5.2 5.2m0 -5.2l-5.2 5.2M231.6 182.8l5.2 5.2m0 -5.2l-5.2 5.2M232.7 183.1l5.2 5.2m0 -5.2l-5.2 5.2M233.3 183.7l5.2 5.2m0 -5.2l-5.2 5.2M234.3 182.6l5.2 5.2m0 -5.2l-5.2 5.2M235.3 182.2l5.2 5.2m0 -5.2l-5.2 5.2M236.0 183.4l5.2 5.2m0 -5.2l-5.2 5.2M237.3 183.7l5.2 5.2m0 -5.2l-5.2 5.2M237.9 183.2l5.2 5.2m0 -5.2l-5.2 5.2M239.1 182.1l5.2 5.2m0 -5.2l-5.2 5.2M239.9 183.0l5.2 5.2m0 -5.2l-5.2 5.2M240.8 182.0l5.2 5.2m0 -5.2l-5.2 5.2M241.6 179.9l5.2 5.2m0 -5.2l-5.2 5.2M242.7 176.9l5.2 5.2m0 -5.2l-5.2 5.2M243.5 175.7l5.2 5.2m0 -5.2l-5.2 5.2M244.3 174.8l5.2 5.2m0 -5.2l-5.2 5.2M245.1 177.5l5.2 5.2m0 -5.2l-5.2 5.2M246.3 180.3l5.2 5.2m0 -5.2l-5.2 5.2M247.0 181.3l5.2 5.2m0 -5.2l-5.2 5.2M247.9 180.0l5.2 5.2m0 -5.2l-5.2 5.2M248.7 177.0l5.2 5.2m0 -5.2l-5.2 5.2M249.8 172.6l5.2 5.2m0 -5.2l-5.2 5.2M250.6 170.4l5.2 5.2m0 -5.2l-5.2 5.2M251.3 172.3l5.2 5.2m0 -5.2l-5.2 5.2M252.5 176.2l5.2 5.2m0 -5.2l-5.2 5.2M253.2 179.8l5.2 5.2m0 -5.2l-5.2 5.2M254.1 181.9l5.2 5.2m0 -5.2l-5.2 5.2M255.1 183.3l5.2 5.2m0 -5.2l-5.2 5.2M256.1 182.8l5.2 5.2m0 -5.2l-5.2 5.2M257.0 183.7l5.2 5.2m0 -5.2l-5.2 5.2M257.8 183.5l5.2 5.2m0 -5.2l-5.2 5.2M258.8 182.7l5.2 5.2m0 -5.2l-5.2 5.2M259.6 182.9l5.2 5.2m0 -5.2l-5.2 5.2M260.4 182.1l5.2 5.2m0 -5.2l-5.2 5.2M261.2 183.5l5.2 5.2m0 -5.2l-5.2 5.2M262.4 183.4l5.2 5.2m0 -5.2l-5.2 5.2M263.3 181.3l5.2 5.2m0 -5.2l-5.2 5.2M264.3 182.2l5.2 5.2m0 -5.2l-5.2 5.2M265.0 182.9l5.2 5.2m0 -5.2l-5.2 5.2M265.8 182.8l5.2 5.2m0 -5.2l-5.2 5.2M266.8 181.6l5.2 5.2m0 -5.2l-5.2 5.2M267.5 181.5l5.2 5.2m0 -5.2l-5.2 5.2M268.5 178.8l5.2 5.2m0 -5.2l-5.2 5.2M269.5 173.0l5.2 5.2m0 -5.2l-5.2 5.2M270.4 156.6l5.2 5.2m0 -5.2l-5.2 5.2M271.4 127.4l5.2 5.2m0 -5.2l-5.2 5.2M272.0 99.9l5.2 5.2m0 -5.2l-5.2 5.2M273.0 92.7l5.2 5.2m0 -5.2l-5.2 5.2M274.1 110.0l5.2 5.2m0 -5.2l-5.2 5.2M274.9 140.6l5.2 5.2m0 -5.2l-5.2 5.2M275.9 163.6l5.2 5.2m0 -5.2l-5.2 5.2M276.7 168.9l5.2 5.2m0 -5.2l-5.2 5.2M277.5 163.9l5.2 5.2m0 -5.2l-5.2 5.2M278.4 157.0l5.2 5.2m0 -5.2l-5.2 5.2M279.3 162.8l5.2 5.2m0 -5.2l-5.2 5.2M280.1 171.5l5.2 5.2m0 -5.2l-5.2 5.2M281.2 176.3l5.2 5.2m0 -5.2l-5.2 5.2M282.2 177.4l5.2 5.2m0 -5.2l-5.2 5.2M283.2 176.4l5.2 5.2m0 -5.2l-5.2 5.2M284.0 178.7l5.2 5.2m0 -5.2l-5.2 5.2M284.9 180.4l5.2 5.2m0 -5.2l-5.2 5.2M285.8 182.4l5.2 5.2m0 -5.2l-5.2 5.2M286.7 182.3l5.2 5.2m0 -5.2l-5.2 5.2M287.6 182.4l5.2 5.2m0 -5.2l-5.2 5.2M288.5 183.8l5.2 5.2m0 -5.2l-5.2 5.2M289.4 182.5l5.2 5.2m0 -5.2l-5.2 5.2M290.1 183.2l5.2 5.2m0 -5.2l-5.2 5.2M291.0 182.3l5.2 5.2m0 -5.2l-5.2 5.2M292.0 182.7l5.2 5.2m0 -5.2l-5.2 5.2M292.8 181.9l5.2 5.2m0 -5.2l-5.2 5.2M293.8 183.3l5.2 5.2m0 -5.2l-5.2 5.2M294.5 182.5l5.2 5.2m0 -5.2l-5.2 5.2M295.6 182.1l5.2 5.2m0 -5.2l-5.2 5.2M296.4 183.0l5.2 5.2m0 -5.2l-5.2 5.2M297.4 183.0l5.2 5.2m0 -5.2l-5.2 5.2M298.5 182.9l5.2 5.2m0 -5.2l-5.2 5.2M299.3 182.8l5.2 5.2m0 -5.2l-5.2 5.2M300.1 182.5l5.2 5.2m0 -5.2l-5.2 5.2M301.2 183.1l5.2 5.2m0 -5.2l-5.2 5.2M301.8 183.3l5.2 5.2m0 -5.2l-5.2 5.2M302.8 183.8l5.2 5.2m0 -5.2l-5.2 5.2M303.6 183.3l5.2 5.2m0 -5.2l-5.2 5.2M304.5 181.6l5.2 5.2m0 -5.2l-5.2 5.2M305.6 181.5l5.2 5.2m0 -5.2l-5.2 5.2M306.3 178.8l5.2 5.2m0 -5.2l-5.2 5.2M307.3 173.0l5.2 5.2m0 -5.2l-5.2 5.2M308.1 167.4l5.2 5.2m0 -5.2l-5.2 5.2M309.2 162.6l5.2 5.2m0 -5.2l-5.2 5.2M309.9 161.8l5.2 5.2m0 -5.2l-5.2 5.2M311.1 166.1l5.2 5.2m0 -5.2l-5.2 5.2M311.6 173.1l5.2 5.2m0 -5.2l-5.2 5.2M312.9 177.5l5.2 5.2m0 -5.2l-5.2 5.2M313.6 180.9l5.2 5.2m0 -5.2l-5.2 5.2M314.6 181.9l5.2 5.2m0 -5.2l-5.2 5.2M315.5 182.2l5.2 5.2m0 -5.2l-5.2 5.2M316.2 179.9l5.2 5.2m0 -5.2l-5.2 5.2M317.4 176.9l5.2 5.2m0 -5.2l-5.2 5.2M318.2 172.2l5.2 5.2m0 -5.2l-5.2 5.2M319.0 172.2l5.2 5.2m0 -5.2l-5.2 5.2M319.8 176.6l5.2 5.2m0 -5.2l-5.2 5.2M320.7 181.3l5.2 5.2m0 -5.2l-5.2 5.2M321.8 183.1l5.2 5.2m0 -5.2l-5.2 5.2M322.7 183.0l5.2 5.2m0 -5.2l-5.2 5.2M323.4 183.9l5.2 5.2m0 -5.2l-5.2 5.2M324.4 183.5l5.2 5.2m0 -5.2l-5.2 5.2M325.1 183.5l5.2 5.2m0 -5.2l-5.2 5.2M326.2 183.2l5.2 5.2m0 -5.2l-5.2 5.2M327.3 183.3l5.2 5.2m0 -5.2l-5.2 5.2M328.1 183.2l5.2 5.2m0 -5.2l-5.2 5.2M329.0 183.3l5.2 5.2m0 -5.2l-5.2 5.2M329.7 183.9l5.2 5.2m0 -5.2l-5.2 5.2M330.8 183.0l5.2 5.2m0 -5.2l-5.2 5.2M331.4 183.8l5.2 5.2m0 -5.2l-5.2 5.2M332.5 183.8l5.2 5.2m0 -5.2l-5.2 5.2M333.3 182.7l5.2 5.2m0 -5.2l-5.2 5.2M334.2 183.2l5.2 5.2m0 -5.2l-5.2 5.2M335.2 183.5l5.2 5.2m0 -5.2l-5.2 5.2M336.0 182.7l5.2 5.2m0 -5.2l-5.2 5.2M337.0 183.1l5.2 5.2m0 -5.2l-5.2 5.2M338.1 182.7l5.2 5.2m0 -5.2l-5.2 5.2M338.9 183.4l5.2 5.2m0 -5.2l-5.2 5.2M339.8 183.2l5.2 5.2m0 -5.2l-5.2 5.2M340.6 183.0l5.2 5.2m0 -5.2l-5.2 5.2M341.7 183.7l5.2 5.2m0 -5.2l-5.2 5.2M342.5 182.3l5.2 5.2m0 -5.2l-5.2 5.2M343.2 183.9l5.2 5.2m0 -5.2l-5.2 5.2M344.1 183.3l5.2 5.2m0 -5.2l-5.2 5.2M345.2 183.2l5.2 5.2m0 -5.2l-5.2 5.2M345.9 183.7l5.2 5.2m0 -5.2l-5.2 5.2M346.9 183.4l5.2 5.2m0 -5.2l-5.2 5.2M347.6 183.9l5.2 5.2m0 -5.2l-5.2 5.2M348.5 182.2l5.2 5.2m0 -5.2l-5.2 5.2M349.5 183.3l5.2 5.2m0 -5.2l-5.2 5.2M350.3 183.1l5.2 5.2m0 -5.2l-5.2 5.2M351.5 183.4l5.2 5.2m0 -5.2l-5.2 5.2M352.4 183.3l5.2 5.2m0 -5.2l-5.2 5.2M353.3 182.9l5.2 5.2m0 -5.2l-5.2 5.2M354.1 182.3l5.2 5.2m0 -5.2l-5.2 5.2M355.1 182.3l5.2 5.2m0 -5.2l-5.2 5.2M355.8 182.2l5.2 5.2m0 -5.2l-5.2 5.2M356.8 184.5l5.2 5.2m0 -5.2l-5.2 5.2M357.6 183.8l5.2 5.2m0 -5.2l-5.2 5.2M358.6 182.7l5.2 5.2m0 -5.2l-5.2 5.2M359.3 182.9l5.2 5.2m0 -5.2l-5.2 5.2M360.3 182.9l5.2 5.2m0 -5.2l-5.2 5.2M361.5 183.7l5.2 5.2m0 -5.2l-5.2 5.2M362.3 182.3l5.2 5.2m0 -5.2l-5.2 5.2M363.2 182.7l5.2 5.2m0 -5.2l-5.2 5.2M363.9 180.7l5.2 5.2m0 -5.2l-5.2 5.2M365.1 177.7l5.2 5.2m0 -5.2l-5.2 5.2M365.9 177.2l5.2 5.2m0 -5.2l-5.2 5.2M366.8 176.7l5.2 5.2m0 -5.2l-5.2 5.2M367.7 177.1l5.2 5.2m0 -5.2l-5.2 5.2M368.5 179.3l5.2 5.2m0 -5.2l-5.2 5.2M369.2 180.2l5.2 5.2m0 -5.2l-5.2 5.2M370.3 183.7l5.2 5.2m0 -5.2l-5.2 5.2M371.2 182.8l5.2 5.2m0 -5.2l-5.2 5.2M372.2 183.4l5.2 5.2m0 -5.2l-5.2 5.2M373.0 183.4l5.2 5.2m0 -5.2l-5.2 5.2M373.7 183.2l5.2 5.2m0 -5.2l-5.2 5.2M374.6 183.4l5.2 5.2m0 -5.2l-5.2 5.2M375.7 183.1l5.2 5.2m0 -5.2l-5.2 5.2M376.5 183.3l5.2 5.2m0 -5.2l-5.2 5.2M377.6 182.8l5.2 5.2m0 -5.2l-5.2 5.2M378.3 183.6l5.2 5.2m0 -5.2l-5.2 5.2M379.3 182.1l5.2 5.2m0 -5.2l-5.2 5.2M380.1 183.1l5.2 5.2m0 -5.2l-5.2 5.2M381.0 183.4l5.2 5.2m0 -5.2l-5.2 5.2M382.0 181.8l5.2 5.2m0 -5.2l-5.2 5.2M382.7 176.8l5.2 5.2m0 -5.2l-5.2 5.2M384.0 170.4l5.2 5.2m0 -5.2l-5.2 5.2M384.8 158.0l5.2 5.2m0 -5.2l-5.2 5.2M385.6 146.2l5.2 5.2m0 -5.2l-5.2 5.2M386.7 138.5l5.2 5.2m0 -5.2l-5.2 5.2M387.3 145.9l5.2 5.2m0 -5.2l-5.2 5.2M388.2 158.1l5.2 5.2m0 -5.2l-5.2 5.2M389.1 170.5l5.2 5.2m0 -5.2l-5.2 5.2M390.1 178.3l5.2 5.2m0 -5.2l-5.2 5.2M391.1 182.6l5.2 5.2m0 -5.2l-5.2 5.2M391.8 183.0l5.2 5.2m0 -5.2l-5.2 5.2M392.7 183.0l5.2 5.2m0 -5.2l-5.2 5.2M393.8 183.7l5.2 5.2m0 -5.2l-5.2 5.2M394.5 182.7l5.2 5.2m0 -5.2l-5.2 5.2M395.7 183.4l5.2 5.2m0 -5.2l-5.2 5.2M396.2 183.2l5.2 5.2m0 -5.2l-5.2 5.2M397.5 183.8l5.2 5.2m0 -5.2l-5.2 5.2M398.4 182.1l5.2 5.2m0 -5.2l-5.2 5.2M399.3 183.3l5.2 5.2m0 -5.2l-5.2 5.2M400.2 182.9l5.2 5.2m0 -5.2l-5.2 5.2M401.0 179.5l5.2 5.2m0 -5.2l-5.2 5.2M401.8 178.6l5.2 5.2m0 -5.2l-5.2 5.2M402.9 176.0l5.2 5.2m0 -5.2l-5.2 5.2M403.7 174.7l5.2 5.2m0 -5.2l-5.2 5.2M404.4 175.0l5.2 5.2m0 -5.2l-5.2 5.2M405.4 179.5l5.2 5.2m0 -5.2l-5.2 5.2M406.3 180.9l5.2 5.2m0 -5.2l-5.2 5.2M407.1 183.3l5.2 5.2m0 -5.2l-5.2 5.2M408.0 183.1l5.2 5.2m0 -5.2l-5.2 5.2M409.2 183.0l5.2 5.2m0 -5.2l-5.2 5.2M409.8 182.6l5.2 5.2m0 -5.2l-5.2 5.2M410.6 182.4l5.2 5.2m0 -5.2l-5.2 5.2M411.5 183.2l5.2 5.2m0 -5.2l-5.2 5.2M412.4 180.9l5.2 5.2m0 -5.2l-5.2 5.2M413.4 178.0l5.2 5.2m0 -5.2l-5.2 5.2M414.2 171.3l5.2 5.2m0 -5.2l-5.2 5.2M415.1 161.8l5.2 5.2m0 -5.2l-5.2 5.2M416.1 153.1l5.2 5.2m0 -5.2l-5.2 5.2M417.2 145.6l5.2 5.2m0 -5.2l-5.2 5.2M418.1 148.6l5.2 5.2m0 -5.2l-5.2 5.2M419.0 154.3l5.2 5.2m0 -5.2l-5.2 5.2M419.8 159.8l5.2 5.2m0 -5.2l-5.2 5.2M420.8 164.0l5.2 5.2m0 -5.2l-5.2 5.2M421.7 164.0l5.2 5.2m0 -5.2l-5.2 5.2M422.5 165.9l5.2 5.2m0 -5.2l-5.2 5.2M423.5 172.7l5.2 5.2m0 -5.2l-5.2 5.2M424.4 176.7l5.2 5.2m0 -5.2l-5.2 5.2M425.1 181.3l5.2 5.2m0 -5.2l-5.2 5.2M426.2 182.6l5.2 5.2m0 -5.2l-5.2 5.2M427.0 183.4l5.2 5.2m0 -5.2l-5.2 5.2M427.9 182.9l5.2 5.2m0 -5.2l-5.2 5.2M428.8 184.4l5.2 5.2m0 -5.2l-5.2 5.2M429.5 183.1l5.2 5.2m0 -5.2l-5.2 5.2M430.5 184.2l5.2 5.2m0 -5.2l-5.2 5.2M431.4 183.4l5.2 5.2m0 -5.2l-5.2 5.2M432.2 183.9l5.2 5.2m0 -5.2l-5.2 5.2M433.2 183.9l5.2 5.2m0 -5.2l-5.2 5.2M434.4 184.7l5.2 5.2m0 -5.2l-5.2 5.2M435.1 183.4l5.2 5.2m0 -5.2l-5.2 5.2M436.0 183.4l5.2 5.2m0 -5.2l-5.2 5.2M436.9 183.7l5.2 5.2m0 -5.2l-5.2 5.2M437.8 184.6l5.2 5.2m0 -5.2l-5.2 5.2M438.8 182.8l5.2 5.2m0 -5.2l-5.2 5.2M439.6 183.9l5.2 5.2m0 -5.2l-5.2 5.2M440.5 184.5l5.2 5.2m0 -5.2l-5.2 5.2M441.3 182.6l5.2 5.2m0 -5.2l-5.2 5.2M442.4 183.5l5.2 5.2m0 -5.2l-5.2 5.2M443.2 184.8l5.2 5.2m0 -5.2l-5.2 5.2M444.0 183.6l5.2 5.2m0 -5.2l-5.2 5.2M445.2 182.2l5.2 5.2m0 -5.2l-5.2 5.2M446.0 183.6l5.2 5.2m0 -5.2l-5.2 5.2M446.9 183.5l5.2 5.2m0 -5.2l-5.2 5.2M447.7 181.7l5.2 5.2m0 -5.2l-5.2 5.2M448.5 181.6l5.2 5.2m0 -5.2l-5.2 5.2M449.6 182.8l5.2 5.2m0 -5.2l-5.2 5.2M450.4 182.0l5.2 5.2m0 -5.2l-5.2 5.2M451.1 182.5l5.2 5.2m0 -5.2l-5.2 5.2M452.0 182.2l5.2 5.2m0 -5.2l-5.2 5.2M453.0 183.4l5.2 5.2m0 -5.2l-5.2 5.2M454.0 183.3l5.2 5.2m0 -5.2l-5.2 5.2M454.8 184.9l5.2 5.2m0 -5.2l-5.2 5.2M455.8 184.4l5.2 5.2m0 -5.2l-5.2 5.2M456.8 184.1l5.2 5.2m0 -5.2l-5.2 5.2M457.7 184.0l5.2 5.2m0 -5.2l-5.2 5.2M458.5 183.6l5.2 5.2m0 -5.2l-5.2 5.2M459.6 184.1l5.2 5.2m0 -5.2l-5.2 5.2M460.4 183.6l5.2 5.2m0 -5.2l-5.2 5.2M461.4 184.4l5.2 5.2m0 -5.2l-5.2 5.2M462.0 184.3l5.2 5.2m0 -5.2l-5.2 5.2M463.0 184.6l5.2 5.2m0 -5.2l-5.2 5.2M464.1 184.2l5.2 5.2m0 -5.2l-5.2 5.2M464.9 183.5l5.2 5.2m0 -5.2l-5.2 5.2M465.5 184.7l5.2 5.2m0 -5.2l-5.2 5.2M466.6 182.8l5.2 5.2m0 -5.2l-5.2 5.2M467.5 182.9l5.2 5.2m0 -5.2l-5.2 5.2M468.6 183.3l5.2 5.2m0 -5.2l-5.2 5.2M469.1 185.2l5.2 5.2m0 -5.2l-5.2 5.2M470.3 183.5l5.2 5.2m0 -5.2l-5.2 5.2M470.9 183.8l5.2 5.2m0 -5.2l-5.2 5.2M472.0 183.9l5.2 5.2m0 -5.2l-5.2 5.2M473.0 184.3l5.2 5.2m0 -5.2l-5.2 5.2M473.9 184.4l5.2 5.2m0 -5.2l-5.2 5.2M474.5 183.0l5.2 5.2m0 -5.2l-5.2 5.2M475.5 183.0l5.2 5.2m0 -5.2l-5.2 5.2M476.5 184.0l5.2 5.2m0 -5.2l-5.2 5.2M477.5 183.5l5.2 5.2m0 -5.2l-5.2 5.2M478.1 182.8l5.2 5.2m0 -5.2l-5.2 5.2M479.1 181.4l5.2 5.2m0 -5.2l-5.2 5.2M480.1 181.7l5.2 5.2m0 -5.2l-5.2 5.2M481.2 176.9l5.2 5.2m0 -5.2l-5.2 5.2M481.8 172.9l5.2 5.2m0 -5.2l-5.2 5.2M482.8 160.5l5.2 5.2m0 -5.2l-5.2 5.2M483.6 145.9l5.2 5.2m0 -5.2l-5.2 5.2M484.6 123.9l5.2 5.2m0 -5.2l-5.2 5.2M485.3 97.6l5.2 5.2m0 -5.2l-5.2 5.2M486.6 76.8l5.2 5.2m0 -5.2l-5.2 5.2M487.5 59.9l5.2 5.2m0 -5.2l-5.2 5.2M488.2 59.0l5.2 5.2m0 -5.2l-5.2 5.2M489.2 74.3l5.2 5.2m0 -5.2l-5.2 5.2M489.9 96.2l5.2 5.2m0 -5.2l-5.2 5.2M491.0 120.7l5.2 5.2m0 -5.2l-5.2 5.2M491.7 143.4l5.2 5.2m0 -5.2l-5.2 5.2M492.7 160.8l5.2 5.2m0 -5.2l-5.2 5.2M493.6 170.2l5.2 5.2m0 -5.2l-5.2 5.2M494.5 176.8l5.2 5.2m0 -5.2l-5.2 5.2M495.3 181.2l5.2 5.2m0 -5.2l-5.2 5.2M496.4 182.8l5.2 5.2m0 -5.2l-5.2 5.2M497.1 183.1l5.2 5.2m0 -5.2l-5.2 5.2M498.1 183.9l5.2 5.2m0 -5.2l-5.2 5.2M498.9 183.3l5.2 5.2m0 -5.2l-5.2 5.2M500.1 184.5l5.2 5.2m0 -5.2l-5.2 5.2M500.6 183.7l5.2 5.2m0 -5.2l-5.2 5.2M501.6 183.4l5.2 5.2m0 -5.2l-5.2 5.2M502.7 183.9l5.2 5.2m0 -5.2l-5.2 5.2M503.7 183.5l5.2 5.2m0 -5.2l-5.2 5.2M504.3 184.0l5.2 5.2m0 -5.2l-5.2 5.2M505.2 184.9l5.2 5.2m0 -5.2l-5.2 5.2M506.0 184.6l5.2 5.2m0 -5.2l-5.2 5.2M507.1 184.7l5.2 5.2m0 -5.2l-5.2 5.2M508.1 184.2l5.2 5.2m0 -5.2l-5.2 5.2M508.8 183.8l5.2 5.2m0 -5.2l-5.2 5.2M510.0 184.7l5.2 5.2m0 -5.2l-5.2 5.2M510.7 185.2l5.2 5.2m0 -5.2l-5.2 5.2M511.5 184.6l5.2 5.2m0 -5.2l-5.2 5.2M512.5 184.5l5.2 5.2m0 -5.2l-5.2 5.2M513.5 184.9l5.2 5.2m0 -5.2l-5.2 5.2M514.5 184.8l5.2 5.2m0 -5.2l-5.2 5.2M515.2 184.2l5.2 5.2m0 -5.2l-5.2 5.2M515.9 185.2l5.2 5.2m0 -5.2l-5.2 5.2M516.9 184.5l5.2 5.2m0 -5.2l-5.2 5.2M518.0 184.9l5.2 5.2m0 -5.2l-5.2 5.2M518.6 184.6l5.2 5.2m0 -5.2l-5.2 5.2M519.8 184.5l5.2 5.2m0 -5.2l-5.2 5.2M520.5 185.0l5.2 5.2m0 -5.2l-5.2 5.2M521.3 184.9l5.2 5.2m0 -5.2l-5.2 5.2M522.4 184.9l5.2 5.2m0 -5.2l-5.2 5.2M523.5 184.7l5.2 5.2m0 -5.2l-5.2 5.2M524.3 184.4l5.2 5.2m0 -5.2l-5.2 5.2M525.0 184.4l5.2 5.2m0 -5.2l-5.2 5.2M526.2 184.2l5.2 5.2m0 -5.2l-5.2 5.2M526.8 184.6l5.2 5.2m0 -5.2l-5.2 5.2M527.9 184.9l5.2 5.2m0 -5.2l-5.2 5.2M528.7 183.9l5.2 5.2m0 -5.2l-5.2 5.2M529.7 185.1l5.2 5.2m0 -5.2l-5.2 5.2M530.5 184.3l5.2 5.2m0 -5.2l-5.2 5.2M531.4 184.0l5.2 5.2m0 -5.2l-5.2 5.2M532.3 184.6l5.2 5.2m0 -5.2l-5.2 5.2M533.2 185.3l5.2 5.2m0 -5.2l-5.2 5.2M533.9 184.2l5.2 5.2m0 -5.2l-5.2 5.2M534.9 184.4l5.2 5.2m0 -5.2l-5.2 5.2M535.9 184.7l5.2 5.2m0 -5.2l-5.2 5.2M536.7 184.3l5.2 5.2m0 -5.2l-5.2 5.2M537.7 184.6l5.2 5.2m0 -5.2l-5.2 5.2M538.4 184.2l5.2 5.2m0 -5.2l-5.2 5.2M539.4 184.8l5.2 5.2m0 -5.2l-5.2 5.2M540.4 184.3l5.2 5.2m0 -5.2l-5.2 5.2M541.4 184.1l5.2 5.2m0 -5.2l-5.2 5.2M542.0 184.6l5.2 5.2m0 -5.2l-5.2 5.2M543.0 183.9l5.2 5.2m0 -5.2l-5.2 5.2M544.2 184.6l5.2 5.2m0 -5.2l-5.2 5.2M544.8 184.4l5.2 5.2m0 -5.2l-5.2 5.2M545.9 185.0l5.2 5.2m0 -5.2l-5.2 5.2M546.8 184.5l5.2 5.2m0 -5.2l-5.2 5.2M547.5 184.1l5.2 5.2m0 -5.2l-5.2 5.2M548.6 185.7l5.2 5.2m0 -5.2l-5.2 5.2M549.2 184.3l5.2 5.2m0 -5.2l-5.2 5.2M550.3 185.1l5.2 5.2m0 -5.2l-5.2 5.2M551.3 184.6l5.2 5.2m0 -5.2l-5.2 5.2M552.1 185.5l5.2 5.2m0 -5.2l-5.2 5.2M553.2 186.1l5.2 5.2m0 -5.2l-5.2 5.2M554.0 184.8l5.2 5.2m0 -5.2l-5.2 5.2M555.0 184.2l5.2 5.2m0 -5.2l-5.2 5.2M555.7 185.2l5.2 5.2m0 -5.2l-5.2 5.2M556.6 184.9l5.2 5.2m0 -5.2l-5.2 5.2M557.7 184.0l5.2 5.2m0 -5.2l-5.2 5.2M558.2 184.1l5.2 5.2m0 -5.2l-5.2 5.2M559.3 185.1l5.2 5.2m0 -5.2l-5.2 5.2M560.0 185.6l5.2 5.2m0 -5.2l-5.2 5.2M560.9 184.9l5.2 5.2m0 -5.2l-5.2 5.2M562.0 184.9l5.2 5.2m0 -5.2l-5.2 5.2M562.8 184.9l5.2 5.2m0 -5.2l-5.2 5.2M564.0 184.5l5.2 5.2m0 -5.2l-5.2 5.2M564.8 186.3l5.2 5.2m0 -5.2l-5.2 5.2M565.5 185.0l5.2 5.2m0 -5.2l-5.2 5.2M566.6 183.7l5.2 5.2m0 -5.2l-5.2 5.2M567.3 184.8l5.2 5.2m0 -5.2l-5.2 5.2M568.2 185.4l5.2 5.2m0 -5.2l-5.2 5.2M569.1 184.9l5.2 5.2m0 -5.2l-5.2 5.2M570.3 183.5l5.2 5.2m0 -5.2l-5.2 5.2M571.2 184.3l5.2 5.2m0 -5.2l-5.2 5.2M572.0 185.4l5.2 5.2m0 -5.2l-5.2 5.2M572.8 185.3l5.2 5.2m0 -5.2l-5.2 5.2M573.6 184.9l5.2 5.2m0 -5.2l-5.2 5.2M574.7 184.9l5.2 5.2m0 -5.2l-5.2 5.2M575.6 184.2l5.2 5.2m0 -5.2l-5.2 5.2M576.5 184.5l5.2 5.2m0 -5.2l-5.2 5.2M577.5 184.7l5.2 5.2m0 -5.2l-5.2 5.2M578.2 185.1l5.2 5.2m0 -5.2l-5.2 5.2M579.0 185.4l5.2 5.2m0 -5.2l-5.2 5.2M579.8 184.3l5.2 5.2m0 -5.2l-5.2 5.2M581.1 183.2l5.2 5.2m0 -5.2l-5.2 5.2M581.7 183.9l5.2 5.2m0 -5.2l-5.2 5.2M582.8 185.4l5.2 5.2m0 -5.2l-5.2 5.2M583.8 185.1l5.2 5.2m0 -5.2l-5.2 5.2M584.6 185.0l5.2 5.2m0 -5.2l-5.2 5.2M585.4 184.8l5.2 5.2m0 -5.2l-5.2 5.2M586.3 184.1l5.2 5.2m0 -5.2l-5.2 5.2M587.1 184.8l5.2 5.2m0 -5.2l-5.2 5.2M588.1 183.8l5.2 5.2m0 -5.2l-5.2 5.2M589.2 183.9l5.2 5.2m0 -5.2l-5.2 5.2M590.0 184.4l5.2 5.2m0 -5.2l-5.2 5.2M590.6 184.9l5.2 5.2m0 -5.2l-5.2 5.2M591.5 185.0l5.2 5.2m0 -5.2l-5.2 5.2M592.7 184.8l5.2 5.2m0 -5.2l-5.2 5.2M593.6 184.5l5.2 5.2m0 -5.2l-5.2 5.2M594.3 184.1l5.2 5.2m0 -5.2l-5.2 5.2M595.5 182.9l5.2 5.2m0 -5.2l-5.2 5.2M596.0 182.7l5.2 5.2m0 -5.2l-5.2 5.2M597.1 178.9l5.2 5.2m0 -5.2l-5.2 5.2M598.2 176.8l5.2 5.2m0 -5.2l-5.2 5.2M598.9 173.5l5.2 5.2m0 -5.2l-5.2 5.2M599.9 171.4l5.2 5.2m0 -5.2l-5.2 5.2M600.9 169.7l5.2 5.2m0 -5.2l-5.2 5.2M601.5 170.6l5.2 5.2m0 -5.2l-5.2 5.2M602.4 171.2l5.2 5.2m0 -5.2l-5.2 5.2M603.6 174.9l5.2 5.2m0 -5.2l-5.2 5.2M604.2 176.4l5.2 5.2m0 -5.2l-5.2 5.2M605.2 179.8l5.2 5.2m0 -5.2l-5.2 5.2M606.2 181.9l5.2 5.2m0 -5.2l-5.2 5.2M607.1 184.2l5.2 5.2m0 -5.2l-5.2 5.2M608.0 183.7l5.2 5.2m0 -5.2l-5.2 5.2M608.7 183.9l5.2 5.2m0 -5.2l-5.2 5.2M609.8 183.9l5.2 5.2m0 -5.2l-5.2 5.2M610.6 185.1l5.2 5.2m0 -5.2l-5.2 5.2M611.5 185.1l5.2 5.2m0 -5.2l-5.2 5.2M612.6 184.1l5.2 5.2m0 -5.2l-5.2 5.2M613.2 184.0l5.2 5.2m0 -5.2l-5.2 5.2M614.1 185.7l5.2 5.2m0 -5.2l-5.2 5.2M615.0 184.3l5.2 5.2m0 -5.2l-5.2 5.2M616.2 183.3l5.2 5.2m0 -5.2l-5.2 5.2M617.0 184.0l5.2 5.2m0 -5.2l-5.2 5.2M617.8 183.0l5.2 5.2m0 -5.2l-5.2 5.2M618.7 183.8l5.2 5.2m0 -5.2l-5.2 5.2M619.6 182.8l5.2 5.2m0 -5.2l-5.2 5.2M620.5 183.5l5.2 5.2m0 -5.2l-5.2 5.2M621.3 183.9l5.2 5.2m0 -5.2l-5.2 5.2M622.2 184.9l5.2 5.2m0 -5.2l-5.2 5.2M623.3 183.2l5.2 5.2m0 -5.2l-5.2 5.2M624.1 184.0l5.2 5.2m0 -5.2l-5.2 5.2M624.9 184.4l5.2 5.2m0 -5.2l-5.2 5.2M625.8 184.1l5.2 5.2m0 -5.2l-5.2 5.2M626.8 184.3l5.2 5.2m0 -5.2l-5.2 5.2M627.6 185.0l5.2 5.2m0 -5.2l-5.2 5.2M628.5 184.9l5.2 5.2m0 -5.2l-5.2 5.2M629.6 184.9l5.2 5.2m0 -5.2l-5.2 5.2M630.4 184.2l5.2 5.2m0 -5.2l-5.2 5.2M631.4 184.3l5.2 5.2m0 -5.2l-5.2 5.2M632.2 183.5l5.2 5.2m0 -5.2l-5.2 5.2M633.0 183.3l5.2 5.2m0 -5.2l-5.2 5.2M634.1 182.7l5.2 5.2m0 -5.2l-5.2 5.2M634.7 181.6l5.2 5.2m0 -5.2l-5.2 5.2M635.9 180.4l5.2 5.2m0 -5.2l-5.2 5.2M636.7 178.6l5.2 5.2m0 -5.2l-5.2 5.2M637.4 178.9l5.2 5.2m0 -5.2l-5.2 5.2M638.4 178.9l5.2 5.2m0 -5.2l-5.2 5.2M639.5 178.7l5.2 5.2m0 -5.2l-5.2 5.2M640.5 180.6l5.2 5.2m0 -5.2l-5.2 5.2M641.1 180.9l5.2 5.2m0 -5.2l-5.2 5.2M642.2 183.6l5.2 5.2m0 -5.2l-5.2 5.2M642.8 183.2l5.2 5.2m0 -5.2l-5.2 5.2M644.0 184.7l5.2 5.2m0 -5.2l-5.2 5.2M644.7 184.5l5.2 5.2m0 -5.2l-5.2 5.2M645.8 185.1l5.2 5.2m0 -5.2l-5.2 5.2M646.7 183.9l5.2 5.2m0 -5.2l-5.2 5.2M647.4 184.2l5.2 5.2m0 -5.2l-5.2 5.2M648.3 185.6l5.2 5.2m0 -5.2l-5.2 5.2M649.4 185.0l5.2 5.2m0 -5.2l-5.2 5.2M650.0 185.4l5.2 5.2m0 -5.2l-5.2 5.2M651.2 184.4l5.2 5.2m0 -5.2l-5.2 5.2M651.9 184.4l5.2 5.2m0 -5.2l-5.2 5.2M652.9 184.4l5.2 5.2m0 -5.2l-5.2 5.2M653.9 185.5l5.2 5.2m0 -5.2l-5.2 5.2M654.8 185.5l5.2 5.2m0 -5.2l-5.2 5.2M655.5 183.7l5.2 5.2m0 -5.2l-5.2 5.2" stroke="#ff0000" stroke-width="0.95" fill="none"/>
<path d="M43.9 184.9 L44.4 184.8 L44.9 184.8 L45.4 184.7 L45.9 184.6 L46.4 184.5 L46.9 184.4 L47.4 184.3 L47.9 184.2 L48.4 184.1 L48.9 184.1 L49.4 183.9 L49.9 183.8 L50.4 183.5 L50.9 182.8 L51.4 182.2 L51.9 182.4 L52.4 183.1 L52.9 183.2 L53.4 182.6 L53.9 180.8 L54.4 177.6 L54.9 173.5 L55.4 170.3 L55.9 170.0 L56.4 172.8 L56.9 176.8 L57.4 180.3 L57.9 182.3 L58.4 183.3 L58.9 183.5 L59.4 183.4 L59.9 183.2 L60.4 182.9 L60.9 182.6 L61.4 182.3 L61.9 181.9 L62.4 181.4 L62.9 180.9 L63.4 180.4 L63.9 180.1 L64.4 180.2 L64.9 180.6 L65.4 181.0 L65.9 181.3 L66.4 181.8 L66.9 182.1 L67.4 182.4 L67.9 182.6 L68.4 182.8 L68.9 183.0 L69.4 183.2 L69.9 183.4 L70.4 183.6 L70.9 183.6 L71.4 183.5 L71.9 183.5 L72.4 183.5 L72.9 183.4 L73.4 183.4 L73.9 183.3 L74.4 183.3 L74.9 183.1 L75.4 182.8 L75.9 182.5 L76.4 182.2 L76.9 181.9 L77.4 181.5 L77.9 181.1 L78.4 180.8 L78.9 180.2 L79.4 179.1 L79.9 177.2 L80.4 174.5 L80.9 171.1 L81.4 167.5 L81.9 164.5 L82.4 163.0 L82.9 163.6 L83.4 166.1 L83.9 169.5 L84.4 173.0 L84.9 176.0 L85.4 178.1 L85.9 179.4 L86.4 180.1 L86.9 180.5 L87.4 180.8 L87.9 181.0 L88.4 181.2 L88.9 181.4 L89.4 181.6 L89.9 181.7 L90.4 181.7 L90.9 181.6 L91.4 181.5 L91.9 181.2 L92.4 180.7 L92.9 180.1 L93.4 179.8 L93.9 179.8 L94.4 180.2 L94.9 180.7 L95.4 181.1 L95.9 181.3 L96.4 181.4 L96.9 181.5 L97.4 181.6 L97.9 181.8 L98.4 181.9 L98.9 182.0 L99.4 182.2 L99.9 182.3 L100.4 182.4 L100.9 182.5 L101.4 182.5 L101.9 182.5 L102.4 182.4 L102.9 182.4 L103.4 182.4 L103.9 182.3 L104.4 182.3 L104.9 182.3 L105.4 182.2 L105.9 182.2 L106.4 182.1 L106.9 182.1 L107.4 181.8 L107.9 181.3 L108.4 180.4 L108.9 179.6 L109.4 179.5 L109.9 180.3 L110.4 181.2 L110.9 181.8 L111.4 182.0 L111.9 182.1 L112.4 182.1 L112.9 182.1 L113.4 182.0 L113.9 181.6 L114.4 181.0 L114.9 180.6 L115.4 180.7 L115.9 181.2 L116.4 181.8 L116.9 182.2 L117.4 182.4 L117.9 182.4 L118.4 182.4 L118.9 182.5 L119.4 182.5 L119.9 182.4 L120.4 182.0 L120.9 181.1 L121.4 179.5 L121.9 177.2 L122.4 174.9 L122.9 173.7 L123.4 174.3 L123.9 176.5 L124.4 179.0 L124.9 181.0 L125.4 182.3 L125.9 182.9 L126.4 183.2 L126.9 183.4 L127.4 183.5 L127.9 183.5 L128.4 183.6 L128.9 183.7 L129.4 183.8 L129.9 183.9 L130.4 184.0 L130.9 184.1 L131.4 184.2 L131.9 184.3 L132.4 184.3 L132.9 184.4 L133.4 184.5 L133.9 184.5 L134.4 184.5 L134.9 184.3 L135.4 183.7 L135.9 182.6 L136.4 181.0 L136.9 179.1 L137.4 177.6 L137.9 177.2 L138.4 178.1 L138.9 179.9 L139.4 181.7 L139.9 183.1 L140.4 184.0 L140.9 184.4 L141.4 184.6 L141.9 184.6 L142.4 184.6 L142.9 184.6 L143.4 184.5 L143.9 184.5 L144.4 184.5 L144.9 184.4 L145.4 184.4 L145.9 184.4 L146.4 184.3 L146.9 184.3 L147.4 184.3 L147.9 184.3 L148.4 184.1 L148.9 183.9 L149.4 183.6 L149.9 183.2 L150.4 183.0 L150.9 183.0 L151.4 183.2 L151.9 183.6 L152.4 184.0 L152.9 184.3 L153.4 184.5 L153.9 184.6 L154.4 184.7 L154.9 184.7 L155.4 184.7 L155.9 184.7 L156.4 184.8 L156.9 184.9 L157.4 184.9 L157.9 185.0 L158.4 185.1 L158.9 185.1 L159.4 185.2 L159.9 185.3 L160.4 185.3 L160.9 185.4 L161.4 185.5 L161.9 185.5 L162.4 185.5 L162.9 185.5 L163.4 185.5 L163.9 185.3 L164.4 185.0 L164.9 184.5 L165.4 183.7 L165.9 182.7 L166.4 181.8 L166.9 181.4 L167.4 181.6 L167.9 182.3 L168.4 183.4 L168.9 184.3 L169.4 185.0 L169.9 185.4 L170.4 185.6 L170.9 185.7 L171.4 185.7 L171.9 185.7 L172.4 185.7 L172.9 185.7 L173.4 185.7 L173.9 185.7 L174.4 185.6 L174.9 185.6 L175.4 185.4 L175.9 185.2 L176.4 184.6 L176.9 183.4 L177.4 181.1 L177.9 177.5 L178.4 172.7 L178.9 167.5 L179.4 163.2 L179.9 161.6 L180.4 163.2 L180.9 167.5 L181.4 172.7 L181.9 177.5 L182.4 181.1 L182.9 183.4 L183.4 184.7 L183.9 185.3 L184.4 185.5 L184.9 185.6 L185.4 185.7 L185.9 185.6 L186.4 185.5 L186.9 185.3 L187.4 185.0 L187.9 184.6 L188.4 184.3 L188.9 184.3 L189.4 184.5 L189.9 184.8 L190.4 185.2 L190.9 185.5 L191.4 185.8 L191.9 185.9 L192.4 186.0 L192.9 186.0 L193.4 186.0 L193.9 186.0 L194.4 186.0 L194.9 186.0 L195.4 185.9 L195.9 185.6 L196.4 185.2 L196.9 184.5 L197.4 183.6 L197.9 182.7 L198.4 182.1 L198.9 182.0 L199.4 182.6 L199.9 183.5 L200.4 184.4 L200.9 185.1 L201.4 185.6 L201.9 185.9 L202.4 186.0 L202.9 185.9 L203.4 185.8 L203.9 185.4 L204.4 184.9 L204.9 184.4 L205.4 183.8 L205.9 183.6 L206.4 183.7 L206.9 184.1 L207.4 184.7 L207.9 185.3 L208.4 185.7 L208.9 185.9 L209.4 186.1 L209.9 186.1 L210.4 186.1 L210.9 186.1 L211.4 186.2 L211.9 186.2 L212.4 186.2 L212.9 186.2 L213.4 186.2 L213.9 186.2 L214.4 186.2 L214.9 186.2 L215.4 186.2 L215.9 186.2 L216.4 186.2 L216.9 186.2 L217.4 186.2 L217.9 186.2 L218.4 186.2 L218.9 186.2 L219.4 186.1 L219.9 186.1 L220.4 186.0 L220.9 185.9 L221.4 185.6 L221.9 185.1 L222.4 184.4 L222.9 183.5 L223.4 182.7 L223.9 182.1 L224.4 182.0 L224.9 182.5 L225.4 183.3 L225.9 184.3 L226.4 185.0 L226.9 185.6 L227.4 185.9 L227.9 186.0 L228.4 186.1 L228.9 186.1 L229.4 186.2 L229.9 186.2 L230.4 186.2 L230.9 186.2 L231.4 186.2 L231.9 186.2 L232.4 186.2 L232.9 186.2 L233.4 186.2 L233.9 186.2 L234.4 186.2 L234.9 186.2 L235.4 186.2 L235.9 186.2 L236.4 186.2 L236.9 186.2 L237.4 186.2 L237.9 186.2 L238.4 186.2 L238.9 186.2 L239.4 186.1 L239.9 186.1 L240.4 186.1 L240.9 186.1 L241.4 186.1 L241.9 186.0 L242.4 185.9 L242.9 185.6 L243.4 185.1 L243.9 184.3 L244.4 183.1 L244.9 181.5 L245.4 179.9 L245.9 178.5 L246.4 177.9 L246.9 178.1 L247.4 179.2 L247.9 180.8 L248.4 182.3 L248.9 183.5 L249.4 184.2 L249.9 184.2 L250.4 183.5 L250.9 182.0 L251.4 179.9 L251.9 177.4 L252.4 175.0 L252.9 173.5 L253.4 173.4 L253.9 174.7 L254.4 176.9 L254.9 179.5 L255.4 181.8 L255.9 183.5 L256.4 184.7 L256.9 185.4 L257.4 185.7 L257.9 185.9 L258.4 186.0 L258.9 186.0 L259.4 186.0 L259.9 186.0 L260.4 186.0 L260.9 186.0 L261.4 186.0 L261.9 186.0 L262.4 186.0 L262.9 186.0 L263.4 186.0 L263.9 186.0 L264.4 185.9 L264.9 185.9 L265.4 185.9 L265.9 185.9 L266.4 185.8 L266.9 185.8 L267.4 185.7 L267.9 185.6 L268.4 185.6 L268.9 185.4 L269.4 185.3 L269.9 185.0 L270.4 184.6 L270.9 183.6 L271.4 181.7 L271.9 178.1 L272.4 171.8 L272.9 162.0 L273.4 148.4 L273.9 131.9 L274.4 115.0 L274.9 101.3 L275.4 94.8 L275.9 97.6 L276.4 108.8 L276.9 124.8 L277.4 141.6 L277.9 155.9 L278.4 166.0 L278.9 171.3 L279.4 172.0 L279.9 169.5 L280.4 165.6 L280.9 162.7 L281.4 162.6 L281.9 165.7 L282.4 170.5 L282.9 175.2 L283.4 178.6 L283.9 180.1 L284.4 180.4 L284.9 180.1 L285.4 180.2 L285.9 180.9 L286.4 182.1 L286.9 183.4 L287.4 184.5 L287.9 185.2 L288.4 185.6 L288.9 185.9 L289.4 186.0 L289.9 186.0 L290.4 186.0 L290.9 186.1 L291.4 186.1 L291.9 186.1 L292.4 186.1 L292.9 186.1 L293.4 186.2 L293.9 186.2 L294.4 186.2 L294.9 186.2 L295.4 186.2 L295.9 186.2 L296.4 186.2 L296.9 186.2 L297.4 186.2 L297.9 186.2 L298.4 186.2 L298.9 186.2 L299.4 186.2 L299.9 186.2 L300.4 186.2 L300.9 186.2 L301.4 186.2 L301.9 186.2 L302.4 186.2 L302.9 186.2 L303.4 186.2 L303.9 186.2 L304.4 186.2 L304.9 186.1 L305.4 186.1 L305.9 186.1 L306.4 186.0 L306.9 185.8 L307.4 185.6 L307.9 185.1 L308.4 184.1 L308.9 182.6 L309.4 180.4 L309.9 177.3 L310.4 173.6 L310.9 169.7 L311.4 166.4 L311.9 164.3 L312.4 164.1 L312.9 165.8 L313.4 169.0 L313.9 172.8 L314.4 176.6 L314.9 179.8 L315.4 182.2 L315.9 183.8 L316.4 184.8 L316.9 185.3 L317.4 185.5 L317.9 185.4 L318.4 184.7 L318.9 183.5 L319.4 181.5 L319.9 179.0 L320.4 176.5 L320.9 175.1 L321.4 175.3 L321.9 177.0 L322.4 179.6 L322.9 182.1 L323.4 184.0 L323.9 185.1 L324.4 185.8 L324.9 186.0 L325.4 186.2 L325.9 186.2 L326.4 186.3 L326.9 186.3 L327.4 186.3 L327.9 186.3 L328.4 186.3 L328.9 186.3 L329.4 186.3 L329.9 186.4 L330.4 186.4 L330.9 186.4 L331.4 186.4 L331.9 186.4 L332.4 186.4 L332.9 186.4 L333.4 186.4 L333.9 186.4 L334.4 186.4 L334.9 186.4 L335.4 186.4 L335.9 186.4 L336.4 186.4 L336.9 186.4 L337.4 186.4 L337.9 186.4 L338.4 186.4 L338.9 186.4 L339.4 186.4 L339.9 186.4 L340.4 186.4 L340.9 186.4 L341.4 186.4 L341.9 186.4 L342.4 186.4 L342.9 186.4 L343.4 186.4 L343.9 186.4 L344.4 186.4 L344.9 186.4 L345.4 186.4 L345.9 186.4 L346.4 186.4 L346.9 186.4 L347.4 186.4 L347.9 186.4 L348.4 186.4 L348.9 186.4 L349.4 186.4 L349.9 186.4 L350.4 186.4 L350.9 186.4 L351.4 186.5 L351.9 186.5 L352.4 186.5 L352.9 186.5 L353.4 186.5 L353.9 186.5 L354.4 186.5 L354.9 186.5 L355.4 186.5 L355.9 186.5 L356.4 186.5 L356.9 186.5 L357.4 186.5 L357.9 186.5 L358.4 186.5 L358.9 186.5 L359.4 186.5 L359.9 186.5 L360.4 186.5 L360.9 186.5 L361.4 186.5 L361.9 186.5 L362.4 186.5 L362.9 186.5 L363.4 186.4 L363.9 186.4 L364.4 186.3 L364.9 186.1 L365.4 185.8 L365.9 185.3 L366.4 184.5 L366.9 183.4 L367.4 182.2 L367.9 180.8 L368.4 179.7 L368.9 178.9 L369.4 178.9 L369.9 179.5 L370.4 180.6 L370.9 181.9 L371.4 183.2 L371.9 184.3 L372.4 185.2 L372.9 185.8 L373.4 186.1 L373.9 186.3 L374.4 186.4 L374.9 186.5 L375.4 186.5 L375.9 186.5 L376.4 186.5 L376.9 186.5 L377.4 186.5 L377.9 186.5 L378.4 186.5 L378.9 186.5 L379.4 186.5 L379.9 186.5 L380.4 186.5 L380.9 186.4 L381.4 186.4 L381.9 186.4 L382.4 186.3 L382.9 186.2 L383.4 186.0 L383.9 185.7 L384.4 185.1 L384.9 184.0 L385.4 182.0 L385.9 178.7 L386.4 174.0 L386.9 167.7 L387.4 160.3 L387.9 152.8 L388.4 146.5 L388.9 143.1 L389.4 143.5 L389.9 147.6 L390.4 154.2 L390.9 161.8 L391.4 169.1 L391.9 175.1 L392.4 179.6 L392.9 182.5 L393.4 184.3 L393.9 185.3 L394.4 185.9 L394.9 186.2 L395.4 186.3 L395.9 186.4 L396.4 186.5 L396.9 186.5 L397.4 186.5 L397.9 186.6 L398.4 186.6 L398.9 186.6 L399.4 186.6 L399.9 186.6 L400.4 186.6 L400.9 186.5 L401.4 186.4 L401.9 186.2 L402.4 185.8 L402.9 185.1 L403.4 184.1 L403.9 182.8 L404.4 181.3 L404.9 179.7 L405.4 178.4 L405.9 177.7 L406.4 177.8 L406.9 178.7 L407.4 180.0 L407.9 181.6 L408.4 183.1 L408.9 184.3 L409.4 185.3 L409.9 185.9 L410.4 186.2 L410.9 186.4 L411.4 186.5 L411.9 186.5 L412.4 186.5 L412.9 186.5 L413.4 186.3 L413.9 186.1 L414.4 185.8 L414.9 185.1 L415.4 184.0 L415.9 182.2 L416.4 179.6 L416.9 175.8 L417.4 171.1 L417.9 165.6 L418.4 159.9 L418.9 154.7 L419.4 151.0 L419.9 149.4 L420.4 150.2 L420.9 152.9 L421.4 156.7 L421.9 160.4 L422.4 163.3 L422.9 165.1 L423.4 165.9 L423.9 166.3 L424.4 167.0 L424.9 168.6 L425.4 171.1 L425.9 174.2 L426.4 177.4 L426.9 180.3 L427.4 182.6 L427.9 184.3 L428.4 185.4 L428.9 186.1 L429.4 186.5 L429.9 186.7 L430.4 186.8 L430.9 186.9 L431.4 186.9 L431.9 187.0 L432.4 187.0 L432.9 187.0 L433.4 187.0 L433.9 187.1 L434.4 187.1 L434.9 187.1 L435.4 187.1 L435.9 187.1 L436.4 187.1 L436.9 187.2 L437.4 187.2 L437.9 187.2 L438.4 187.2 L438.9 187.2 L439.4 187.2 L439.9 187.2 L440.4 187.2 L440.9 187.2 L441.4 187.2 L441.9 187.2 L442.4 187.3 L442.9 187.3 L443.4 187.3 L443.9 187.2 L444.4 187.2 L444.9 187.2 L445.4 187.2 L445.9 187.1 L446.4 186.9 L446.9 186.8 L447.4 186.5 L447.9 186.3 L448.4 186.1 L448.9 185.8 L449.4 185.7 L449.9 185.6 L450.4 185.6 L450.9 185.7 L451.4 185.8 L451.9 185.8 L452.4 185.8 L452.9 185.7 L453.4 185.7 L453.9 185.6 L454.4 185.6 L454.9 185.8 L455.4 186.0 L455.9 186.2 L456.4 186.5 L456.9 186.7 L457.4 186.9 L457.9 187.1 L458.4 187.2 L458.9 187.3 L459.4 187.3 L459.9 187.4 L460.4 187.4 L460.9 187.4 L461.4 187.4 L461.9 187.4 L462.4 187.4 L462.9 187.4 L463.4 187.4 L463.9 187.4 L464.4 187.4 L464.9 187.4 L465.4 187.4 L465.9 187.4 L466.4 187.4 L466.9 187.4 L467.4 187.4 L467.9 187.4 L468.4 187.4 L468.9 187.3 L469.4 187.3 L469.9 187.3 L470.4 187.3 L470.9 187.3 L471.4 187.3 L471.9 187.3 L472.4 187.3 L472.9 187.2 L473.4 187.2 L473.9 187.2 L474.4 187.2 L474.9 187.1 L475.4 187.1 L475.9 187.1 L476.4 187.0 L476.9 187.0 L477.4 186.9 L477.9 186.9 L478.4 186.8 L478.9 186.7 L479.4 186.6 L479.9 186.5 L480.4 186.4 L480.9 186.2 L481.4 185.9 L481.9 185.4 L482.4 184.7 L482.9 183.7 L483.4 182.1 L483.9 179.7 L484.4 176.3 L484.9 171.5 L485.4 165.2 L485.9 157.0 L486.4 146.9 L486.9 135.0 L487.4 121.6 L487.9 107.4 L488.4 93.4 L488.9 80.5 L489.4 70.1 L489.9 63.3 L490.4 60.9 L490.9 63.3 L491.4 70.1 L491.9 80.5 L492.4 93.4 L492.9 107.5 L493.4 121.7 L493.9 135.0 L494.4 147.0 L494.9 157.1 L495.4 165.3 L495.9 171.7 L496.4 176.4 L496.9 179.8 L497.4 182.2 L497.9 183.8 L498.4 184.9 L498.9 185.6 L499.4 186.0 L499.9 186.4 L500.4 186.6 L500.9 186.7 L501.4 186.8 L501.9 186.9 L502.4 187.0 L502.9 187.1 L503.4 187.2 L503.9 187.2 L504.4 187.3 L504.9 187.3 L505.4 187.4 L505.9 187.4 L506.4 187.4 L506.9 187.5 L507.4 187.5 L507.9 187.5 L508.4 187.5 L508.9 187.6 L509.4 187.6 L509.9 187.6 L510.4 187.6 L510.9 187.6 L511.4 187.7 L511.9 187.7 L512.4 187.7 L512.9 187.7 L513.4 187.7 L513.9 187.7 L514.4 187.7 L514.9 187.7 L515.4 187.7 L515.9 187.8 L516.4 187.8 L516.9 187.8 L517.4 187.8 L517.9 187.8 L518.4 187.8 L518.9 187.8 L519.4 187.8 L519.9 187.8 L520.4 187.8 L520.9 187.8 L521.4 187.8 L521.9 187.8 L522.4 187.8 L522.9 187.8 L523.4 187.8 L523.9 187.8 L524.4 187.8 L524.9 187.9 L525.4 187.9 L525.9 187.9 L526.4 187.9 L526.9 187.9 L527.4 187.9 L527.9 187.9 L528.4 187.9 L528.9 187.9 L529.4 187.9 L529.9 187.9 L530.4 187.9 L530.9 187.9 L531.4 187.9 L531.9 187.9 L532.4 187.9 L532.9 187.9 L533.4 187.9 L533.9 187.9 L534.4 187.9 L534.9 187.9 L535.4 187.9 L535.9 187.9 L536.4 187.9 L536.9 187.9 L537.4 187.9 L537.9 187.9 L538.4 187.9 L538.9 187.9 L539.4 187.9 L539.9 187.9 L540.4 187.9 L540.9 187.9 L541.4 187.9 L541.9 187.9 L542.4 187.9 L542.9 187.9 L543.4 187.9 L543.9 187.9 L544.4 187.9 L544.9 187.9 L545.4 187.9 L545.9 187.9 L546.4 187.9 L546.9 187.9 L547.4 187.9 L547.9 187.9 L548.4 187.9 L548.9 187.9 L549.4 187.9 L549.9 187.9 L550.4 187.9 L550.9 187.9 L551.4 187.9 L551.9 187.9 L552.4 187.9 L552.9 187.9 L553.4 187.9 L553.9 187.9 L554.4 187.9 L554.9 187.9 L555.4 187.9 L555.9 187.9 L556.4 187.9 L556.9 187.9 L557.4 187.9 L557.9 187.9 L558.4 187.9 L558.9 187.9 L559.4 187.9 L559.9 187.9 L560.4 187.9 L560.9 187.9 L561.4 187.9 L561.9 187.9 L562.4 187.9 L562.9 187.9 L563.4 187.9 L563.9 187.9 L564.4 187.9 L564.9 187.9 L565.4 187.9 L565.9 187.9 L566.4 187.9 L566.9 187.9 L567.4 187.9 L567.9 187.9 L568.4 187.9 L568.9 187.9 L569.4 187.9 L569.9 187.9 L570.4 187.9 L570.9 187.9 L571.4 187.9 L571.9 187.9 L572.4 187.9 L572.9 187.9 L573.4 187.9 L573.9 187.9 L574.4 187.9 L574.9 187.9 L575.4 187.9 L575.9 187.9 L576.4 187.9 L576.9 187.9 L577.4 187.9 L577.9 187.9 L578.4 187.9 L578.9 187.9 L579.4 187.9 L579.9 187.9 L580.4 187.9 L580.9 187.9 L581.4 187.9 L581.9 187.9 L582.4 187.9 L582.9 187.9 L583.4 187.9 L583.9 187.9 L584.4 187.9 L584.9 187.9 L585.4 187.9 L585.9 187.9 L586.4 187.9 L586.9 187.9 L587.4 187.9 L587.9 187.9 L588.4 187.9 L588.9 187.9 L589.4 187.8 L589.9 187.8 L590.4 187.8 L590.9 187.8 L591.4 187.8 L591.9 187.8 L592.4 187.8 L592.9 187.8 L593.4 187.8 L593.9 187.8 L594.4 187.7 L594.9 187.7 L595.4 187.6 L595.9 187.6 L596.4 187.4 L596.9 187.2 L597.4 186.9 L597.9 186.5 L598.4 185.9 L598.9 185.1 L599.4 184.1 L599.9 182.8 L600.4 181.3 L600.9 179.6 L601.4 177.8 L601.9 176.1 L602.4 174.6 L602.9 173.4 L603.4 172.8 L603.9 172.7 L604.4 173.3 L604.9 174.3 L605.4 175.8 L605.9 177.5 L606.4 179.3 L606.9 181.0 L607.4 182.5 L607.9 183.8 L608.4 184.9 L608.9 185.8 L609.4 186.4 L609.9 186.9 L610.4 187.2 L610.9 187.4 L611.4 187.5 L611.9 187.6 L612.4 187.7 L612.9 187.7 L613.4 187.7 L613.9 187.7 L614.4 187.7 L614.9 187.7 L615.4 187.7 L615.9 187.7 L616.4 187.6 L616.9 187.6 L617.4 187.5 L617.9 187.3 L618.4 187.2 L618.9 187.0 L619.4 186.9 L619.9 186.7 L620.4 186.5 L620.9 186.4 L621.4 186.3 L621.9 186.3 L622.4 186.4 L622.9 186.5 L623.4 186.6 L623.9 186.8 L624.4 186.9 L624.9 187.1 L625.4 187.3 L625.9 187.4 L626.4 187.5 L626.9 187.6 L627.4 187.7 L627.9 187.7 L628.4 187.8 L628.9 187.8 L629.4 187.8 L629.9 187.8 L630.4 187.8 L630.9 187.8 L631.4 187.8 L631.9 187.8 L632.4 187.8 L632.9 187.7 L633.4 187.7 L633.9 187.6 L634.4 187.5 L634.9 187.3 L635.4 187.0 L635.9 186.7 L636.4 186.3 L636.9 185.7 L637.4 185.1 L637.9 184.4 L638.4 183.6 L638.9 182.9 L639.4 182.3 L639.9 181.8 L640.4 181.5 L640.9 181.5 L641.4 181.7 L641.9 182.2 L642.4 182.8 L642.9 183.5 L643.4 184.2 L643.9 185.0 L644.4 185.6 L644.9 186.2 L645.4 186.6 L645.9 187.0 L646.4 187.3 L646.9 187.5 L647.4 187.6 L647.9 187.7 L648.4 187.7 L648.9 187.8 L649.4 187.8 L649.9 187.8 L650.4 187.8 L650.9 187.8 L651.4 187.8 L651.9 187.8 L652.4 187.8 L652.9 187.8 L653.4 187.8 L653.9 187.9 L654.4 187.9 L654.9 187.9 L655.4 187.9 L655.9 187.9 L656.4 187.9 L656.9 187.9 L657.4 187.9 L657.9 187.9 L658.4 187.9" stroke="#000" stroke-width="1.45" fill="none" stroke-linejoin="round"/>
<path d="M43.9 387.6 L44.4 387.6 L44.9 387.6 L45.4 387.6 L45.9 387.6 L46.4 387.6 L46.9 387.6 L47.4 387.6 L47.9 387.6 L48.4 387.5 L48.9 387.5 L49.4 387.5 L49.9 387.5 L50.4 387.5 L50.9 387.5 L51.4 387.5 L51.9 387.5 L52.4 387.5 L52.9 387.5 L53.4 387.4 L53.9 387.4 L54.4 387.2 L54.9 386.7 L55.4 385.7 L55.9 383.7 M59.4 384.1 L59.9 385.9 L60.4 386.8 L60.9 387.2 L61.4 387.3 L61.9 387.4 L62.4 387.4 L62.9 387.4 L63.4 387.5 L63.9 387.5 L64.4 387.5 L64.9 387.5 L65.4 387.5 L65.9 387.5 L66.4 387.4 L66.9 387.4 L67.4 387.3 L67.9 387.2 L68.4 386.9 L68.9 386.6 L69.4 386.4 L69.9 386.2 L70.4 386.2 L70.9 386.4 L71.4 386.7 L71.9 387.0 L72.4 387.2 L72.9 387.3 L73.4 387.4 L73.9 387.4 L74.4 387.4 L74.9 387.4 L75.4 387.4 L75.9 387.4 L76.4 387.4 L76.9 387.4 L77.4 387.4 L77.9 387.4 L78.4 387.4 L78.9 387.4 L79.4 387.4 L79.9 387.4 L80.4 387.4 L80.9 387.3 L81.4 387.3 L81.9 387.3 L82.4 387.2 L82.9 387.0 L83.4 386.5 L83.9 385.4 L84.4 383.2 M88.9 382.7 L89.4 385.1 L89.9 386.4 L90.4 387.0 L90.9 387.3 L91.4 387.3 L91.9 387.2 L92.4 387.0 L92.9 386.4 L93.4 385.6 L93.9 384.7 L94.4 383.8 L94.9 383.3 L95.4 383.5 L95.9 384.3 L96.4 385.4 L96.9 386.3 L97.4 387.0 L97.9 387.4 L98.4 387.6 L98.9 387.7 L99.4 387.8 L99.9 387.8 L100.4 387.8 L100.9 387.8 L101.4 387.9 L101.9 387.9 L102.4 387.9 L102.9 387.9 L103.4 387.9 L103.9 387.9 L104.4 387.9 L104.9 388.0 L105.4 388.0 L105.9 388.0 L106.4 388.0 L106.9 388.0 L107.4 388.0 L107.9 388.0 L108.4 388.0 L108.9 388.0 L109.4 388.1 L109.9 388.1 L110.4 388.1 L110.9 388.1 L111.4 388.1 L111.9 388.1 L112.4 388.1 L112.9 388.1 L113.4 388.1 L113.9 388.1 L114.4 388.2 L114.9 388.2 L115.4 388.2 L115.9 388.2 L116.4 388.2 L116.9 388.2 L117.4 388.2 L117.9 388.2 L118.4 388.2 L118.9 388.2 L119.4 388.2 L119.9 388.2 L120.4 388.2 L120.9 388.1 L121.4 388.0 L121.9 387.7 L122.4 387.1 L122.9 385.9 L123.4 384.2 M126.4 383.5 L126.9 385.4 L127.4 386.8 L127.9 387.6 L128.4 388.1 L128.9 388.3 L129.4 388.3 L129.9 388.4 L130.4 388.4 L130.9 388.4 L131.4 388.5 L131.9 388.5 L132.4 388.5 L132.9 388.5 L133.4 388.5 L133.9 388.5 L134.4 388.6 L134.9 388.6 L135.4 388.6 L135.9 388.6 L136.4 388.6 L136.9 388.6 L137.4 388.6 L137.9 388.6 L138.4 388.6 L138.9 388.7 L139.4 388.7 L139.9 388.7 L140.4 388.7 L140.9 388.7 L141.4 388.7 L141.9 388.7 L142.4 388.7 L142.9 388.7 L143.4 388.7 L143.9 388.8 L144.4 388.8 L144.9 388.8 L145.4 388.8 L145.9 388.8 L146.4 388.8 L146.9 388.8 L147.4 388.8 L147.9 388.8 L148.4 388.8 L148.9 388.9 L149.4 388.9 L149.9 388.9 L150.4 388.9 L150.9 388.9 L151.4 388.9 L151.9 388.9 L152.4 388.9 L152.9 388.9 L153.4 388.9 L153.9 388.9 L154.4 388.9 L154.9 388.9 L155.4 388.9 L155.9 388.9 L156.4 388.9 L156.9 388.8 L157.4 388.7 L157.9 388.6 L158.4 388.3 L158.9 387.9 L159.4 387.5 L159.9 387.2 L160.4 387.1 L160.9 387.3 L161.4 387.7 L161.9 388.1 L162.4 388.4 L162.9 388.7 L163.4 388.8 L163.9 388.9 L164.4 388.9 L164.9 388.9 L165.4 388.9 L165.9 388.9 L166.4 388.9 L166.9 388.9 L167.4 388.9 L167.9 388.9 L168.4 388.9 L168.9 388.9 L169.4 388.9 L169.9 388.9 L170.4 388.9 L170.9 388.9 L171.4 388.9 L171.9 388.9 L172.4 388.9 L172.9 388.9 L173.4 388.9 L173.9 388.9 L174.4 388.9 L174.9 388.9 L175.4 388.9 L175.9 388.9 L176.4 388.8 L176.9 388.8 L177.4 388.8 L177.9 388.8 L178.4 388.7 L178.9 388.5 L179.4 388.1 L179.9 387.1 L180.4 385.3 M185.4 385.3 L185.9 387.1 L186.4 388.1 L186.9 388.5 L187.4 388.7 L187.9 388.8 L188.4 388.8 L188.9 388.9 L189.4 388.9 L189.9 388.9 L190.4 388.9 L190.9 388.9 L191.4 388.9 L191.9 388.9 L192.4 389.0 L192.9 389.0 L193.4 389.0 L193.9 389.0 L194.4 389.0 L194.9 389.0 L195.4 389.0 L195.9 389.0 L196.4 389.0 L196.9 388.9 L197.4 388.9 L197.9 388.8 L198.4 388.6 L198.9 388.2 L199.4 387.4 L199.9 386.2 L200.4 384.8 M202.4 384.2 L202.9 385.6 L203.4 387.0 L203.9 387.9 L204.4 388.5 L204.9 388.8 L205.4 388.9 L205.9 389.0 L206.4 389.0 L206.9 389.0 L207.4 389.0 L207.9 389.0 L208.4 389.1 L208.9 389.1 L209.4 389.1 L209.9 389.1 L210.4 389.1 L210.9 389.1 L211.4 389.1 L211.9 389.1 L212.4 389.1 L212.9 389.1 L213.4 389.1 L213.9 389.1 L214.4 389.1 L214.9 389.1 L215.4 389.1 L215.9 389.1 L216.4 389.1 L216.9 389.1 L217.4 389.1 L217.9 389.1 L218.4 389.1 L218.9 389.1 L219.4 389.1 L219.9 389.1 L220.4 389.1 L220.9 389.1 L221.4 389.1 L221.9 389.1 L222.4 389.1 L222.9 389.1 L223.4 389.1 L223.9 389.1 L224.4 389.1 L224.9 389.1 L225.4 389.1 L225.9 389.1 L226.4 389.1 L226.9 389.1 L227.4 389.1 L227.9 389.1 L228.4 389.2 L228.9 389.2 L229.4 389.2 L229.9 389.2 L230.4 389.2 L230.9 389.2 L231.4 389.2 L231.9 389.2 L232.4 389.2 L232.9 389.2 L233.4 389.2 L233.9 389.2 L234.4 389.2 L234.9 389.2 L235.4 389.2 L235.9 389.2 L236.4 389.2 L236.9 389.2 L237.4 389.2 L237.9 389.2 L238.4 389.2 L238.9 389.2 L239.4 389.2 L239.9 389.2 L240.4 389.2 L240.9 389.2 L241.4 389.2 L241.9 389.2 L242.4 389.2 L242.9 389.2 L243.4 389.2 L243.9 389.2 L244.4 389.2 L244.9 389.2 L245.4 389.2 L245.9 389.2 L246.4 389.1 L246.9 389.1 L247.4 389.1 L247.9 388.9 L248.4 388.7 L248.9 388.2 L249.4 387.6 L249.9 386.8 L250.4 386.2 L250.9 385.9 L251.4 386.2 L251.9 386.8 L252.4 387.6 L252.9 388.2 L253.4 388.7 L253.9 388.9 L254.4 389.1 L254.9 389.1 L255.4 389.1 L255.9 389.1 L256.4 389.1 L256.9 389.1 L257.4 389.1 L257.9 389.1 L258.4 389.1 L258.9 389.1 L259.4 389.1 L259.9 389.1 L260.4 389.1 L260.9 389.0 L261.4 388.9 L261.9 388.8 L262.4 388.6 L262.9 388.3 L263.4 388.0 L263.9 387.6 L264.4 387.2 L264.9 386.7 L265.4 386.3 L265.9 386.0 L266.4 385.8 L266.9 385.9 L267.4 386.1 L267.9 386.4 L268.4 386.8 L268.9 387.2 L269.4 387.6 L269.9 387.9 L270.4 388.1 L270.9 388.3 L271.4 388.3 L271.9 388.3 L272.4 388.1 L272.9 387.7 L273.4 386.9 L273.9 385.4 M282.9 386.2 L283.4 387.4 L283.9 388.0 L284.4 388.4 L284.9 388.6 L285.4 388.7 L285.9 388.8 L286.4 388.8 L286.9 388.9 L287.4 389.0 L287.9 389.0 L288.4 389.0 L288.9 389.1 L289.4 389.1 L289.9 389.1 L290.4 389.1 L290.9 389.2 L291.4 389.2 L291.9 389.2 L292.4 389.2 L292.9 389.2 L293.4 389.2 L293.9 389.3 L294.4 389.3 L294.9 389.3 L295.4 389.3 L295.9 389.3 L296.4 389.3 L296.9 389.3 L297.4 389.3 L297.9 389.3 L298.4 389.3 L298.9 389.3 L299.4 389.3 L299.9 389.3 L300.4 389.3 L300.9 389.4 L301.4 389.4 L301.9 389.4 L302.4 389.4 L302.9 389.4 L303.4 389.4 L303.9 389.4 L304.4 389.4 L304.9 389.4 L305.4 389.4 L305.9 389.4 L306.4 389.4 L306.9 389.4 L307.4 389.4 L307.9 389.4 L308.4 389.4 L308.9 389.4 L309.4 389.4 L309.9 389.4 L310.4 389.4 L310.9 389.4 L311.4 389.4 L311.9 389.4 L312.4 389.4 L312.9 389.4 L313.4 389.4 L313.9 389.4 L314.4 389.4 L314.9 389.4 L315.4 389.5 L315.9 389.5 L316.4 389.5 L316.9 389.5 L317.4 389.5 L317.9 389.5 L318.4 389.5 L318.9 389.5 L319.4 389.5 L319.9 389.5 L320.4 389.5 L320.9 389.5 L321.4 389.5 L321.9 389.5 L322.4 389.5 L322.9 389.5 L323.4 389.5 L323.9 389.5 L324.4 389.5 L324.9 389.5 L325.4 389.5 L325.9 389.5 L326.4 389.5 L326.9 389.5 L327.4 389.6 L327.9 389.6 L328.4 389.6 L328.9 389.6 L329.4 389.6 L329.9 389.6 L330.4 389.6 L330.9 389.6 L331.4 389.6 L331.9 389.6 L332.4 389.6 L332.9 389.6 L333.4 389.6 L333.9 389.6 L334.4 389.6 L334.9 389.6 L335.4 389.6 L335.9 389.6 L336.4 389.6 L336.9 389.6 L337.4 389.6 L337.9 389.6 L338.4 389.6 L338.9 389.6 L339.4 389.5 L339.9 389.3 L340.4 388.9 L340.9 388.4 L341.4 387.7 L341.9 387.1 L342.4 386.8 L342.9 386.9 L343.4 387.5 L343.9 388.1 L344.4 388.7 L344.9 389.2 L345.4 389.5 L345.9 389.6 L346.4 389.7 L346.9 389.7 L347.4 389.7 L347.9 389.7 L348.4 389.7 L348.9 389.8 L349.4 389.8 L349.9 389.8 L350.4 389.8 L350.9 389.8 L351.4 389.8 L351.9 389.8 L352.4 389.8 L352.9 389.8 L353.4 389.8 L353.9 389.8 L354.4 389.8 L354.9 389.8 L355.4 389.8 L355.9 389.8 L356.4 389.8 L356.9 389.9 L357.4 389.9 L357.9 389.9 L358.4 389.9 L358.9 389.9 L359.4 389.9 L359.9 389.9 L360.4 389.9 L360.9 389.9 L361.4 389.9 L361.9 389.9 L362.4 389.9 L362.9 389.9 L363.4 389.9 L363.9 389.9 L364.4 389.9 L364.9 389.9 L365.4 389.9 L365.9 389.9 L366.4 390.0 L366.9 390.0 L367.4 390.0 L367.9 390.0 L368.4 390.0 L368.9 390.0 L369.4 390.0 L369.9 390.0 L370.4 390.0 L370.9 390.0 L371.4 390.0 L371.9 390.0 L372.4 390.0 L372.9 390.0 L373.4 390.0 L373.9 390.0 L374.4 390.0 L374.9 390.0 L375.4 390.0 L375.9 390.0 L376.4 390.1 L376.9 390.1 L377.4 390.1 L377.9 390.1 L378.4 390.1 L378.9 390.1 L379.4 390.1 L379.9 390.1 L380.4 390.1 L380.9 390.1 L381.4 390.1 L381.9 390.1 L382.4 390.1 L382.9 390.1 L383.4 390.1 L383.9 390.1 L384.4 390.1 L384.9 390.1 L385.4 390.1 L385.9 390.1 L386.4 390.2 L386.9 390.2 L387.4 390.2 L387.9 390.2 L388.4 390.2 L388.9 390.2 L389.4 390.2 L389.9 390.2 L390.4 390.2 L390.9 390.2 L391.4 390.2 L391.9 390.2 L392.4 390.2 L392.9 390.2 L393.4 390.2 L393.9 390.2 L394.4 390.2 L394.9 390.2 L395.4 390.2 L395.9 390.2 L396.4 390.2 L396.9 390.3 L397.4 390.3 L397.9 390.3 L398.4 390.3 L398.9 390.3 L399.4 390.3 L399.9 390.3 L400.4 390.3 L400.9 390.3 L401.4 390.3 L401.9 390.3 L402.4 390.3 L402.9 390.3 L403.4 390.3 L403.9 390.3 L404.4 390.3 L404.9 390.3 L405.4 390.3 L405.9 390.3 L406.4 390.3 L406.9 390.4 L407.4 390.4 L407.9 390.4 L408.4 390.4 L408.9 390.4 L409.4 390.4 L409.9 390.4 L410.4 390.4 L410.9 390.4 L411.4 390.4 L411.9 390.4 L412.4 390.4 L412.9 390.4 L413.4 390.4 L413.9 390.4 L414.4 390.4 L414.9 390.4 L415.4 390.4 L415.9 390.4 L416.4 390.4 L416.9 390.4 L417.4 390.5 L417.9 390.5 L418.4 390.5 L418.9 390.5 L419.4 390.5 L419.9 390.5 L420.4 390.5 L420.9 390.5 L421.4 390.5 L421.9 390.5 L422.4 390.5 L422.9 390.5 L423.4 390.5 L423.9 390.5 L424.4 390.5 L424.9 390.5 L425.4 390.5 L425.9 390.5 L426.4 390.5 L426.9 390.5 L427.4 390.5 L427.9 390.6 L428.4 390.6 L428.9 390.6 L429.4 390.6 L429.9 390.6 L430.4 390.6 L430.9 390.6 L431.4 390.6 L431.9 390.6 L432.4 390.6 L432.9 390.6 L433.4 390.6 L433.9 390.6 L434.4 390.6 L434.9 390.6 L435.4 390.6 L435.9 390.6 L436.4 390.6 L436.9 390.6 L437.4 390.6 L437.9 390.6 L438.4 390.6 L438.9 390.6 L439.4 390.7 L439.9 390.7 L440.4 390.7 L440.9 390.7 L441.4 390.7 L441.9 390.6 L442.4 390.6 L442.9 390.6 L443.4 390.6 L443.9 390.6 L444.4 390.6 L444.9 390.6 L445.4 390.6 L445.9 390.6 L446.4 390.6 L446.9 390.6 L447.4 390.6 L447.9 390.6 L448.4 390.6 L448.9 390.6 L449.4 390.6 L449.9 390.6 L450.4 390.6 L450.9 390.5 L451.4 390.5 L451.9 390.4 L452.4 390.2 L452.9 389.9 L453.4 389.4 L453.9 388.8 L454.4 388.1 L454.9 387.3 L455.4 386.6 L455.9 386.2 L456.4 386.2 L456.9 386.5 L457.4 387.1 L457.9 387.9 L458.4 388.6 L458.9 389.3 L459.4 389.8 L459.9 390.1 L460.4 390.3 L460.9 390.4 L461.4 390.5 L461.9 390.5 L462.4 390.5 L462.9 390.5 L463.4 390.5 L463.9 390.5 L464.4 390.5 L464.9 390.5 L465.4 390.5 L465.9 390.5 L466.4 390.5 L466.9 390.5 L467.4 390.5 L467.9 390.5 L468.4 390.5 L468.9 390.5 L469.4 390.5 L469.9 390.5 L470.4 390.5 L470.9 390.5 L471.4 390.5 L471.9 390.4 L472.4 390.4 L472.9 390.4 L473.4 390.4 L473.9 390.4 L474.4 390.4 L474.9 390.3 L475.4 390.3 L475.9 390.3 L476.4 390.2 L476.9 390.1 L477.4 390.0 L477.9 389.9 L478.4 389.6 L478.9 389.4 L479.4 389.0 L479.9 388.6 L480.4 388.1 L480.9 387.6 L481.4 387.0 L481.9 386.5 L482.4 386.0 L482.9 385.7 M484.9 385.7 L485.4 385.8 L485.9 385.8 L486.4 385.7 M501.4 386.9 L501.9 388.0 L502.4 388.6 L502.9 389.0 L503.4 389.2 L503.9 389.4 L504.4 389.5 L504.9 389.6 L505.4 389.7 L505.9 389.8 L506.4 389.9 L506.9 389.9 L507.4 390.0 L507.9 390.0 L508.4 390.1 L508.9 390.1 L509.4 390.1 L509.9 390.2 L510.4 390.2 L510.9 390.2 L511.4 390.2 L511.9 390.3 L512.4 390.3 L512.9 390.3 L513.4 390.3 L513.9 390.3 L514.4 390.3 L514.9 390.4 L515.4 390.4 L515.9 390.4 L516.4 390.4 L516.9 390.4 L517.4 390.4 L517.9 390.4 L518.4 390.4 L518.9 390.4 L519.4 390.4 L519.9 390.4 L520.4 390.4 L520.9 390.4 L521.4 390.4 L521.9 390.5 L522.4 390.5 L522.9 390.5 L523.4 390.5 L523.9 390.5 L524.4 390.5 L524.9 390.5 L525.4 390.5 L525.9 390.5 L526.4 390.5 L526.9 390.5 L527.4 390.5 L527.9 390.5 L528.4 390.5 L528.9 390.5 L529.4 390.5 L529.9 390.5 L530.4 390.5 L530.9 390.5 L531.4 390.5 L531.9 390.5 L532.4 390.5 L532.9 390.5 L533.4 390.5 L533.9 390.5 L534.4 390.5 L534.9 390.5 L535.4 390.5 L535.9 390.5 L536.4 390.5 L536.9 390.5 L537.4 390.5 L537.9 390.5 L538.4 390.5 L538.9 390.5 L539.4 390.5 L539.9 390.5 L540.4 390.5 L540.9 390.5 L541.4 390.5 L541.9 390.5 L542.4 390.5 L542.9 390.5 L543.4 390.5 L543.9 390.5 L544.4 390.5 L544.9 390.5 L545.4 390.5 L545.9 390.5 L546.4 390.5 L546.9 390.5 L547.4 390.5 L547.9 390.5 L548.4 390.5 L548.9 390.5 L549.4 390.5 L549.9 390.5 L550.4 390.5 L550.9 390.5 L551.4 390.5 L551.9 390.5 L552.4 390.5 L552.9 390.5 L553.4 390.5 L553.9 390.5 L554.4 390.5 L554.9 390.5 L555.4 390.5 L555.9 390.5 L556.4 390.5 L556.9 390.5 L557.4 390.5 L557.9 390.5 L558.4 390.5 L558.9 390.5 L559.4 390.5 L559.9 390.5 L560.4 390.5 L560.9 390.5 L561.4 390.5 L561.9 390.5 L562.4 390.5 L562.9 390.5 L563.4 390.5 L563.9 390.5 L564.4 390.5 L564.9 390.5 L565.4 390.5 L565.9 390.5 L566.4 390.5 L566.9 390.5 L567.4 390.5 L567.9 390.5 L568.4 390.5 L568.9 390.5 L569.4 390.5 L569.9 390.5 L570.4 390.5 L570.9 390.5 L571.4 390.5 L571.9 390.5 L572.4 390.5 L572.9 390.5 L573.4 390.5 L573.9 390.5 L574.4 390.5 L574.9 390.5 L575.4 390.5 L575.9 390.5 L576.4 390.5 L576.9 390.5 L577.4 390.5 L577.9 390.5 L578.4 390.5 L578.9 390.5 L579.4 390.5 L579.9 390.5 L580.4 390.5 L580.9 390.5 L581.4 390.5 L581.9 390.5 L582.4 390.5 L582.9 390.5 L583.4 390.5 L583.9 390.5 L584.4 390.5 L584.9 390.5 L585.4 390.5 L585.9 390.5 L586.4 390.5 L586.9 390.4 L587.4 390.4 L587.9 390.4 L588.4 390.4 L588.9 390.4 L589.4 390.4 L589.9 390.4 L590.4 390.4 L590.9 390.4 L591.4 390.4 L591.9 390.4 L592.4 390.4 L592.9 390.4 L593.4 390.4 L593.9 390.4 L594.4 390.4 L594.9 390.4 L595.4 390.4 L595.9 390.4 L596.4 390.4 L596.9 390.4 L597.4 390.3 L597.9 390.3 L598.4 390.3 L598.9 390.3 L599.4 390.3 L599.9 390.3 L600.4 390.3 L600.9 390.2 L601.4 390.2 L601.9 390.2 L602.4 390.1 L602.9 390.0 L603.4 389.8 L603.9 389.5 L604.4 389.1 L604.9 388.2 L605.4 386.9 M613.9 387.2 L614.4 388.4 L614.9 389.2 L615.4 389.6 L615.9 389.9 L616.4 390.0 L616.9 390.1 L617.4 390.1 L617.9 390.2 L618.4 390.2 L618.9 390.2 L619.4 390.3 L619.9 390.3 L620.4 390.3 L620.9 390.3 L621.4 390.3 L621.9 390.3 L622.4 390.3 L622.9 390.3 L623.4 390.3 L623.9 390.3 L624.4 390.4 L624.9 390.4 L625.4 390.4 L625.9 390.4 L626.4 390.4 L626.9 390.4 L627.4 390.4 L627.9 390.4 L628.4 390.4 L628.9 390.4 L629.4 390.4 L629.9 390.4 L630.4 390.4 L630.9 390.4 L631.4 390.4 L631.9 390.4 L632.4 390.4 L632.9 390.4 L633.4 390.4 L633.9 390.4 L634.4 390.4 L634.9 390.4 L635.4 390.4 L635.9 390.4 L636.4 390.4 L636.9 390.4 L637.4 390.4 L637.9 390.4 L638.4 390.4 L638.9 390.4 L639.4 390.4 L639.9 390.4 L640.4 390.4 L640.9 390.4 L641.4 390.4 L641.9 390.4 L642.4 390.4 L642.9 390.4 L643.4 390.4 L643.9 390.4 L644.4 390.4 L644.9 390.4 L645.4 390.4 L645.9 390.4 L646.4 390.4 L646.9 390.4 L647.4 390.4 L647.9 390.4 L648.4 390.4 L648.9 390.4 L649.4 390.4 L649.9 390.4 L650.4 390.4 L650.9 390.4 L651.4 390.4 L651.9 390.4 L652.4 390.4 L652.9 390.4 L653.4 390.4 L653.9 390.4 L654.4 390.4 L654.9 390.4 L655.4 390.4 L655.9 390.4 L656.4 390.4 L656.9 390.4 L657.4 390.4 L657.9 390.4 L658.4 390.4" stroke="#ff0000" stroke-width="4.8" fill="none" stroke-linejoin="round" opacity="0.92"/>
<path d="M41.6 386.9l5.2 5.2m0 -5.2l-5.2 5.2M42.5 385.2l5.2 5.2m0 -5.2l-5.2 5.2M43.7 386.0l5.2 5.2m0 -5.2l-5.2 5.2M44.4 384.8l5.2 5.2m0 -5.2l-5.2 5.2M45.4 385.0l5.2 5.2m0 -5.2l-5.2 5.2M46.2 385.1l5.2 5.2m0 -5.2l-5.2 5.2M47.3 385.0l5.2 5.2m0 -5.2l-5.2 5.2M48.3 385.8l5.2 5.2m0 -5.2l-5.2 5.2M49.0 386.2l5.2 5.2m0 -5.2l-5.2 5.2M49.8 385.3l5.2 5.2m0 -5.2l-5.2 5.2M50.8 385.6l5.2 5.2m0 -5.2l-5.2 5.2M51.6 385.3l5.2 5.2m0 -5.2l-5.2 5.2M52.6 383.3l5.2 5.2m0 -5.2l-5.2 5.2M53.5 381.4l5.2 5.2m0 -5.2l-5.2 5.2M54.3 374.9l5.2 5.2m0 -5.2l-5.2 5.2M55.2 373.7l5.2 5.2m0 -5.2l-5.2 5.2M56.3 376.5l5.2 5.2m0 -5.2l-5.2 5.2M57.0 383.2l5.2 5.2m0 -5.2l-5.2 5.2M58.1 385.8l5.2 5.2m0 -5.2l-5.2 5.2M59.1 384.8l5.2 5.2m0 -5.2l-5.2 5.2M59.7 385.5l5.2 5.2m0 -5.2l-5.2 5.2M60.9 384.5l5.2 5.2m0 -5.2l-5.2 5.2M61.7 385.8l5.2 5.2m0 -5.2l-5.2 5.2M62.6 385.4l5.2 5.2m0 -5.2l-5.2 5.2M63.4 384.8l5.2 5.2m0 -5.2l-5.2 5.2M64.5 385.6l5.2 5.2m0 -5.2l-5.2 5.2M65.1 384.2l5.2 5.2m0 -5.2l-5.2 5.2M66.3 384.8l5.2 5.2m0 -5.2l-5.2 5.2M67.0 384.8l5.2 5.2m0 -5.2l-5.2 5.2M68.1 383.9l5.2 5.2m0 -5.2l-5.2 5.2M68.7 384.6l5.2 5.2m0 -5.2l-5.2 5.2M69.6 384.5l5.2 5.2m0 -5.2l-5.2 5.2M70.8 385.3l5.2 5.2m0 -5.2l-5.2 5.2M71.4 385.1l5.2 5.2m0 -5.2l-5.2 5.2M72.6 385.8l5.2 5.2m0 -5.2l-5.2 5.2M73.4 385.2l5.2 5.2m0 -5.2l-5.2 5.2M74.3 384.8l5.2 5.2m0 -5.2l-5.2 5.2M75.1 385.4l5.2 5.2m0 -5.2l-5.2 5.2M76.0 385.3l5.2 5.2m0 -5.2l-5.2 5.2M77.1 385.7l5.2 5.2m0 -5.2l-5.2 5.2M77.9 385.2l5.2 5.2m0 -5.2l-5.2 5.2M78.8 385.2l5.2 5.2m0 -5.2l-5.2 5.2M79.7 385.5l5.2 5.2m0 -5.2l-5.2 5.2M80.3 384.6l5.2 5.2m0 -5.2l-5.2 5.2M81.3 382.8l5.2 5.2m0 -5.2l-5.2 5.2M82.5 377.4l5.2 5.2m0 -5.2l-5.2 5.2M83.3 370.1l5.2 5.2m0 -5.2l-5.2 5.2M84.0 365.3l5.2 5.2m0 -5.2l-5.2 5.2M85.0 369.8l5.2 5.2m0 -5.2l-5.2 5.2M86.0 379.0l5.2 5.2m0 -5.2l-5.2 5.2M86.7 383.6l5.2 5.2m0 -5.2l-5.2 5.2M87.8 385.0l5.2 5.2m0 -5.2l-5.2 5.2M88.4 386.5l5.2 5.2m0 -5.2l-5.2 5.2M89.6 385.8l5.2 5.2m0 -5.2l-5.2 5.2M90.5 384.7l5.2 5.2m0 -5.2l-5.2 5.2M91.2 382.7l5.2 5.2m0 -5.2l-5.2 5.2M92.2 381.7l5.2 5.2m0 -5.2l-5.2 5.2M92.9 382.8l5.2 5.2m0 -5.2l-5.2 5.2M93.8 384.1l5.2 5.2m0 -5.2l-5.2 5.2M94.8 385.1l5.2 5.2m0 -5.2l-5.2 5.2M95.6 384.9l5.2 5.2m0 -5.2l-5.2 5.2M96.6 385.2l5.2 5.2m0 -5.2l-5.2 5.2M97.7 386.4l5.2 5.2m0 -5.2l-5.2 5.2M98.6 386.0l5.2 5.2m0 -5.2l-5.2 5.2M99.5 386.6l5.2 5.2m0 -5.2l-5.2 5.2M100.4 385.4l5.2 5.2m0 -5.2l-5.2 5.2M101.3 385.5l5.2 5.2m0 -5.2l-5.2 5.2M102.0 386.0l5.2 5.2m0 -5.2l-5.2 5.2M103.1 386.5l5.2 5.2m0 -5.2l-5.2 5.2M103.8 386.4l5.2 5.2m0 -5.2l-5.2 5.2M104.8 385.5l5.2 5.2m0 -5.2l-5.2 5.2M105.6 385.8l5.2 5.2m0 -5.2l-5.2 5.2M106.6 386.5l5.2 5.2m0 -5.2l-5.2 5.2M107.5 386.0l5.2 5.2m0 -5.2l-5.2 5.2M108.3 386.8l5.2 5.2m0 -5.2l-5.2 5.2M109.1 386.2l5.2 5.2m0 -5.2l-5.2 5.2M110.0 386.4l5.2 5.2m0 -5.2l-5.2 5.2M111.2 386.2l5.2 5.2m0 -5.2l-5.2 5.2M112.2 384.6l5.2 5.2m0 -5.2l-5.2 5.2M113.1 386.1l5.2 5.2m0 -5.2l-5.2 5.2M113.7 386.2l5.2 5.2m0 -5.2l-5.2 5.2M114.7 386.8l5.2 5.2m0 -5.2l-5.2 5.2M115.7 385.5l5.2 5.2m0 -5.2l-5.2 5.2M116.4 385.5l5.2 5.2m0 -5.2l-5.2 5.2M117.2 385.6l5.2 5.2m0 -5.2l-5.2 5.2M118.1 386.4l5.2 5.2m0 -5.2l-5.2 5.2M119.3 385.6l5.2 5.2m0 -5.2l-5.2 5.2M120.0 384.6l5.2 5.2m0 -5.2l-5.2 5.2M120.9 381.7l5.2 5.2m0 -5.2l-5.2 5.2M121.8 378.2l5.2 5.2m0 -5.2l-5.2 5.2M122.7 377.1l5.2 5.2m0 -5.2l-5.2 5.2M123.8 380.9l5.2 5.2m0 -5.2l-5.2 5.2M124.8 384.6l5.2 5.2m0 -5.2l-5.2 5.2M125.6 387.0l5.2 5.2m0 -5.2l-5.2 5.2M126.4 385.7l5.2 5.2m0 -5.2l-5.2 5.2M127.1 386.7l5.2 5.2m0 -5.2l-5.2 5.2M128.1 385.9l5.2 5.2m0 -5.2l-5.2 5.2M128.9 386.8l5.2 5.2m0 -5.2l-5.2 5.2M130.0 386.7l5.2 5.2m0 -5.2l-5.2 5.2M131.1 386.0l5.2 5.2m0 -5.2l-5.2 5.2M132.0 386.2l5.2 5.2m0 -5.2l-5.2 5.2M132.6 386.3l5.2 5.2m0 -5.2l-5.2 5.2M133.4 387.4l5.2 5.2m0 -5.2l-5.2 5.2M134.4 386.7l5.2 5.2m0 -5.2l-5.2 5.2M135.2 387.1l5.2 5.2m0 -5.2l-5.2 5.2M136.3 386.0l5.2 5.2m0 -5.2l-5.2 5.2M137.1 386.1l5.2 5.2m0 -5.2l-5.2 5.2M138.1 387.0l5.2 5.2m0 -5.2l-5.2 5.2M138.9 387.1l5.2 5.2m0 -5.2l-5.2 5.2M140.1 386.9l5.2 5.2m0 -5.2l-5.2 5.2M140.7 387.6l5.2 5.2m0 -5.2l-5.2 5.2M141.7 387.2l5.2 5.2m0 -5.2l-5.2 5.2M142.7 386.3l5.2 5.2m0 -5.2l-5.2 5.2M143.5 387.2l5.2 5.2m0 -5.2l-5.2 5.2M144.2 387.0l5.2 5.2m0 -5.2l-5.2 5.2M145.4 387.0l5.2 5.2m0 -5.2l-5.2 5.2M146.3 386.0l5.2 5.2m0 -5.2l-5.2 5.2M146.9 385.8l5.2 5.2m0 -5.2l-5.2 5.2M148.1 386.4l5.2 5.2m0 -5.2l-5.2 5.2M148.9 386.1l5.2 5.2m0 -5.2l-5.2 5.2M149.9 386.5l5.2 5.2m0 -5.2l-5.2 5.2M150.6 387.4l5.2 5.2m0 -5.2l-5.2 5.2M151.8 386.3l5.2 5.2m0 -5.2l-5.2 5.2M152.6 386.8l5.2 5.2m0 -5.2l-5.2 5.2M153.3 387.8l5.2 5.2m0 -5.2l-5.2 5.2M154.2 386.4l5.2 5.2m0 -5.2l-5.2 5.2M155.2 386.2l5.2 5.2m0 -5.2l-5.2 5.2M156.2 386.1l5.2 5.2m0 -5.2l-5.2 5.2M157.1 386.0l5.2 5.2m0 -5.2l-5.2 5.2M157.7 384.7l5.2 5.2m0 -5.2l-5.2 5.2M158.7 384.5l5.2 5.2m0 -5.2l-5.2 5.2M159.7 387.9l5.2 5.2m0 -5.2l-5.2 5.2M160.8 387.0l5.2 5.2m0 -5.2l-5.2 5.2M161.7 387.0l5.2 5.2m0 -5.2l-5.2 5.2M162.3 386.7l5.2 5.2m0 -5.2l-5.2 5.2M163.2 386.7l5.2 5.2m0 -5.2l-5.2 5.2M164.2 386.5l5.2 5.2m0 -5.2l-5.2 5.2M165.1 386.2l5.2 5.2m0 -5.2l-5.2 5.2M166.2 387.4l5.2 5.2m0 -5.2l-5.2 5.2M167.0 387.4l5.2 5.2m0 -5.2l-5.2 5.2M167.9 387.5l5.2 5.2m0 -5.2l-5.2 5.2M168.6 387.3l5.2 5.2m0 -5.2l-5.2 5.2M169.7 387.4l5.2 5.2m0 -5.2l-5.2 5.2M170.5 386.5l5.2 5.2m0 -5.2l-5.2 5.2M171.4 387.9l5.2 5.2m0 -5.2l-5.2 5.2M172.2 386.9l5.2 5.2m0 -5.2l-5.2 5.2M173.2 386.7l5.2 5.2m0 -5.2l-5.2 5.2M174.3 386.9l5.2 5.2m0 -5.2l-5.2 5.2M175.0 387.1l5.2 5.2m0 -5.2l-5.2 5.2M175.9 387.2l5.2 5.2m0 -5.2l-5.2 5.2M176.9 385.7l5.2 5.2m0 -5.2l-5.2 5.2M177.7 382.5l5.2 5.2m0 -5.2l-5.2 5.2M178.7 378.5l5.2 5.2m0 -5.2l-5.2 5.2M179.6 369.7l5.2 5.2m0 -5.2l-5.2 5.2M180.3 366.4l5.2 5.2m0 -5.2l-5.2 5.2M181.3 370.3l5.2 5.2m0 -5.2l-5.2 5.2M182.4 378.9l5.2 5.2m0 -5.2l-5.2 5.2M183.2 385.0l5.2 5.2m0 -5.2l-5.2 5.2M184.1 386.9l5.2 5.2m0 -5.2l-5.2 5.2M185.1 386.8l5.2 5.2m0 -5.2l-5.2 5.2M185.6 386.2l5.2 5.2m0 -5.2l-5.2 5.2M186.9 386.1l5.2 5.2m0 -5.2l-5.2 5.2M187.8 386.8l5.2 5.2m0 -5.2l-5.2 5.2M188.7 386.2l5.2 5.2m0 -5.2l-5.2 5.2M189.5 387.8l5.2 5.2m0 -5.2l-5.2 5.2M190.2 387.6l5.2 5.2m0 -5.2l-5.2 5.2M191.1 386.9l5.2 5.2m0 -5.2l-5.2 5.2M192.2 386.2l5.2 5.2m0 -5.2l-5.2 5.2M193.0 387.5l5.2 5.2m0 -5.2l-5.2 5.2M193.8 387.5l5.2 5.2m0 -5.2l-5.2 5.2M194.7 386.3l5.2 5.2m0 -5.2l-5.2 5.2M195.9 386.4l5.2 5.2m0 -5.2l-5.2 5.2M196.6 385.8l5.2 5.2m0 -5.2l-5.2 5.2M197.6 383.6l5.2 5.2m0 -5.2l-5.2 5.2M198.4 380.7l5.2 5.2m0 -5.2l-5.2 5.2M199.4 380.3l5.2 5.2m0 -5.2l-5.2 5.2M200.2 383.1l5.2 5.2m0 -5.2l-5.2 5.2M200.9 386.0l5.2 5.2m0 -5.2l-5.2 5.2M201.9 387.5l5.2 5.2m0 -5.2l-5.2 5.2M203.0 387.4l5.2 5.2m0 -5.2l-5.2 5.2M203.9 387.1l5.2 5.2m0 -5.2l-5.2 5.2M204.8 386.5l5.2 5.2m0 -5.2l-5.2 5.2M205.5 387.2l5.2 5.2m0 -5.2l-5.2 5.2M206.5 386.8l5.2 5.2m0 -5.2l-5.2 5.2M207.2 386.6l5.2 5.2m0 -5.2l-5.2 5.2M208.3 387.2l5.2 5.2m0 -5.2l-5.2 5.2M209.2 387.6l5.2 5.2m0 -5.2l-5.2 5.2M210.1 387.0l5.2 5.2m0 -5.2l-5.2 5.2M210.9 386.1l5.2 5.2m0 -5.2l-5.2 5.2M212.0 387.5l5.2 5.2m0 -5.2l-5.2 5.2M213.0 386.4l5.2 5.2m0 -5.2l-5.2 5.2M213.5 387.2l5.2 5.2m0 -5.2l-5.2 5.2M214.7 387.3l5.2 5.2m0 -5.2l-5.2 5.2M215.6 386.7l5.2 5.2m0 -5.2l-5.2 5.2M216.5 386.8l5.2 5.2m0 -5.2l-5.2 5.2M217.1 386.7l5.2 5.2m0 -5.2l-5.2 5.2M218.2 386.8l5.2 5.2m0 -5.2l-5.2 5.2M219.2 386.7l5.2 5.2m0 -5.2l-5.2 5.2M219.9 387.4l5.2 5.2m0 -5.2l-5.2 5.2M220.8 386.4l5.2 5.2m0 -5.2l-5.2 5.2M221.7 386.8l5.2 5.2m0 -5.2l-5.2 5.2M222.9 387.2l5.2 5.2m0 -5.2l-5.2 5.2M223.6 387.9l5.2 5.2m0 -5.2l-5.2 5.2M224.4 387.8l5.2 5.2m0 -5.2l-5.2 5.2M225.4 387.1l5.2 5.2m0 -5.2l-5.2 5.2M226.2 387.4l5.2 5.2m0 -5.2l-5.2 5.2M227.4 386.7l5.2 5.2m0 -5.2l-5.2 5.2M228.3 387.3l5.2 5.2m0 -5.2l-5.2 5.2M229.2 386.4l5.2 5.2m0 -5.2l-5.2 5.2M229.8 387.4l5.2 5.2m0 -5.2l-5.2 5.2M230.7 387.5l5.2 5.2m0 -5.2l-5.2 5.2M231.8 387.4l5.2 5.2m0 -5.2l-5.2 5.2M232.7 386.8l5.2 5.2m0 -5.2l-5.2 5.2M233.4 387.5l5.2 5.2m0 -5.2l-5.2 5.2M234.4 387.5l5.2 5.2m0 -5.2l-5.2 5.2M235.4 386.4l5.2 5.2m0 -5.2l-5.2 5.2M236.4 386.6l5.2 5.2m0 -5.2l-5.2 5.2M237.1 388.1l5.2 5.2m0 -5.2l-5.2 5.2M238.1 386.7l5.2 5.2m0 -5.2l-5.2 5.2M239.0 385.9l5.2 5.2m0 -5.2l-5.2 5.2M239.9 388.1l5.2 5.2m0 -5.2l-5.2 5.2M240.9 386.2l5.2 5.2m0 -5.2l-5.2 5.2M241.7 387.0l5.2 5.2m0 -5.2l-5.2 5.2M242.4 387.9l5.2 5.2m0 -5.2l-5.2 5.2M243.6 386.9l5.2 5.2m0 -5.2l-5.2 5.2M244.2 387.3l5.2 5.2m0 -5.2l-5.2 5.2M245.1 385.8l5.2 5.2m0 -5.2l-5.2 5.2M246.3 386.6l5.2 5.2m0 -5.2l-5.2 5.2M246.9 385.4l5.2 5.2m0 -5.2l-5.2 5.2M247.8 384.2l5.2 5.2m0 -5.2l-5.2 5.2M248.9 385.2l5.2 5.2m0 -5.2l-5.2 5.2M249.7 384.8l5.2 5.2m0 -5.2l-5.2 5.2M250.7 386.1l5.2 5.2m0 -5.2l-5.2 5.2M251.5 386.9l5.2 5.2m0 -5.2l-5.2 5.2M252.3 387.0l5.2 5.2m0 -5.2l-5.2 5.2M253.2 387.9l5.2 5.2m0 -5.2l-5.2 5.2M254.1 387.4l5.2 5.2m0 -5.2l-5.2 5.2M255.0 387.0l5.2 5.2m0 -5.2l-5.2 5.2M255.9 387.1l5.2 5.2m0 -5.2l-5.2 5.2M256.8 387.7l5.2 5.2m0 -5.2l-5.2 5.2M257.8 387.1l5.2 5.2m0 -5.2l-5.2 5.2M258.6 387.4l5.2 5.2m0 -5.2l-5.2 5.2M259.4 386.0l5.2 5.2m0 -5.2l-5.2 5.2M260.4 386.9l5.2 5.2m0 -5.2l-5.2 5.2M261.5 385.9l5.2 5.2m0 -5.2l-5.2 5.2M262.2 384.2l5.2 5.2m0 -5.2l-5.2 5.2M263.1 383.0l5.2 5.2m0 -5.2l-5.2 5.2M264.2 383.7l5.2 5.2m0 -5.2l-5.2 5.2M265.2 383.8l5.2 5.2m0 -5.2l-5.2 5.2M265.9 384.5l5.2 5.2m0 -5.2l-5.2 5.2M266.7 384.8l5.2 5.2m0 -5.2l-5.2 5.2M267.8 386.2l5.2 5.2m0 -5.2l-5.2 5.2M268.6 385.7l5.2 5.2m0 -5.2l-5.2 5.2M269.7 385.8l5.2 5.2m0 -5.2l-5.2 5.2M270.4 386.7l5.2 5.2m0 -5.2l-5.2 5.2M271.3 383.3l5.2 5.2m0 -5.2l-5.2 5.2M272.0 376.9l5.2 5.2m0 -5.2l-5.2 5.2M273.3 363.1l5.2 5.2m0 -5.2l-5.2 5.2M274.1 342.8l5.2 5.2m0 -5.2l-5.2 5.2M275.1 321.2l5.2 5.2m0 -5.2l-5.2 5.2M275.9 312.2l5.2 5.2m0 -5.2l-5.2 5.2M276.5 324.1l5.2 5.2m0 -5.2l-5.2 5.2M277.5 347.3l5.2 5.2m0 -5.2l-5.2 5.2M278.4 367.4l5.2 5.2m0 -5.2l-5.2 5.2M279.6 378.9l5.2 5.2m0 -5.2l-5.2 5.2M280.4 384.0l5.2 5.2m0 -5.2l-5.2 5.2M281.1 387.1l5.2 5.2m0 -5.2l-5.2 5.2M282.1 386.9l5.2 5.2m0 -5.2l-5.2 5.2M283.0 386.4l5.2 5.2m0 -5.2l-5.2 5.2M283.7 386.7l5.2 5.2m0 -5.2l-5.2 5.2M284.9 387.3l5.2 5.2m0 -5.2l-5.2 5.2M285.7 388.2l5.2 5.2m0 -5.2l-5.2 5.2M286.5 386.6l5.2 5.2m0 -5.2l-5.2 5.2M287.5 386.1l5.2 5.2m0 -5.2l-5.2 5.2M288.2 387.4l5.2 5.2m0 -5.2l-5.2 5.2M289.2 387.4l5.2 5.2m0 -5.2l-5.2 5.2M290.2 387.6l5.2 5.2m0 -5.2l-5.2 5.2M291.1 387.4l5.2 5.2m0 -5.2l-5.2 5.2M292.1 388.0l5.2 5.2m0 -5.2l-5.2 5.2M292.9 386.4l5.2 5.2m0 -5.2l-5.2 5.2M293.6 387.6l5.2 5.2m0 -5.2l-5.2 5.2M294.8 387.1l5.2 5.2m0 -5.2l-5.2 5.2M295.6 387.1l5.2 5.2m0 -5.2l-5.2 5.2M296.4 387.1l5.2 5.2m0 -5.2l-5.2 5.2M297.4 386.8l5.2 5.2m0 -5.2l-5.2 5.2M298.4 387.6l5.2 5.2m0 -5.2l-5.2 5.2M299.2 387.6l5.2 5.2m0 -5.2l-5.2 5.2M300.0 386.7l5.2 5.2m0 -5.2l-5.2 5.2M300.9 387.5l5.2 5.2m0 -5.2l-5.2 5.2M302.0 385.8l5.2 5.2m0 -5.2l-5.2 5.2M302.6 387.1l5.2 5.2m0 -5.2l-5.2 5.2M303.7 386.6l5.2 5.2m0 -5.2l-5.2 5.2M304.6 387.5l5.2 5.2m0 -5.2l-5.2 5.2M305.6 387.8l5.2 5.2m0 -5.2l-5.2 5.2M306.5 386.8l5.2 5.2m0 -5.2l-5.2 5.2M307.3 386.8l5.2 5.2m0 -5.2l-5.2 5.2M308.3 388.3l5.2 5.2m0 -5.2l-5.2 5.2M309.2 387.7l5.2 5.2m0 -5.2l-5.2 5.2M309.9 387.3l5.2 5.2m0 -5.2l-5.2 5.2M310.7 387.4l5.2 5.2m0 -5.2l-5.2 5.2M311.7 387.0l5.2 5.2m0 -5.2l-5.2 5.2M312.9 386.9l5.2 5.2m0 -5.2l-5.2 5.2M313.6 388.6l5.2 5.2m0 -5.2l-5.2 5.2M314.4 387.3l5.2 5.2m0 -5.2l-5.2 5.2M315.5 387.7l5.2 5.2m0 -5.2l-5.2 5.2M316.2 388.5l5.2 5.2m0 -5.2l-5.2 5.2M317.2 388.1l5.2 5.2m0 -5.2l-5.2 5.2M318.1 387.1l5.2 5.2m0 -5.2l-5.2 5.2M319.1 387.4l5.2 5.2m0 -5.2l-5.2 5.2M319.7 386.9l5.2 5.2m0 -5.2l-5.2 5.2M321.0 387.4l5.2 5.2m0 -5.2l-5.2 5.2M321.6 387.1l5.2 5.2m0 -5.2l-5.2 5.2M322.6 387.2l5.2 5.2m0 -5.2l-5.2 5.2M323.5 388.1l5.2 5.2m0 -5.2l-5.2 5.2M324.5 387.9l5.2 5.2m0 -5.2l-5.2 5.2M325.4 387.4l5.2 5.2m0 -5.2l-5.2 5.2M326.2 387.7l5.2 5.2m0 -5.2l-5.2 5.2M327.0 387.0l5.2 5.2m0 -5.2l-5.2 5.2M327.9 387.2l5.2 5.2m0 -5.2l-5.2 5.2M328.9 387.7l5.2 5.2m0 -5.2l-5.2 5.2M329.8 387.8l5.2 5.2m0 -5.2l-5.2 5.2M330.6 388.2l5.2 5.2m0 -5.2l-5.2 5.2M331.7 388.0l5.2 5.2m0 -5.2l-5.2 5.2M332.4 388.3l5.2 5.2m0 -5.2l-5.2 5.2M333.6 387.0l5.2 5.2m0 -5.2l-5.2 5.2M334.4 387.1l5.2 5.2m0 -5.2l-5.2 5.2M335.3 387.5l5.2 5.2m0 -5.2l-5.2 5.2M336.0 387.9l5.2 5.2m0 -5.2l-5.2 5.2M336.9 388.5l5.2 5.2m0 -5.2l-5.2 5.2M337.8 386.9l5.2 5.2m0 -5.2l-5.2 5.2M338.9 385.5l5.2 5.2m0 -5.2l-5.2 5.2M339.6 385.2l5.2 5.2m0 -5.2l-5.2 5.2M340.7 384.7l5.2 5.2m0 -5.2l-5.2 5.2M341.3 386.6l5.2 5.2m0 -5.2l-5.2 5.2M342.3 387.0l5.2 5.2m0 -5.2l-5.2 5.2M343.3 387.5l5.2 5.2m0 -5.2l-5.2 5.2M344.2 387.6l5.2 5.2m0 -5.2l-5.2 5.2M345.3 387.9l5.2 5.2m0 -5.2l-5.2 5.2M346.1 387.4l5.2 5.2m0 -5.2l-5.2 5.2M347.1 387.3l5.2 5.2m0 -5.2l-5.2 5.2M348.0 388.0l5.2 5.2m0 -5.2l-5.2 5.2M348.9 388.2l5.2 5.2m0 -5.2l-5.2 5.2M349.7 388.1l5.2 5.2m0 -5.2l-5.2 5.2M350.5 388.6l5.2 5.2m0 -5.2l-5.2 5.2M351.3 387.6l5.2 5.2m0 -5.2l-5.2 5.2M352.2 387.2l5.2 5.2m0 -5.2l-5.2 5.2M353.1 388.6l5.2 5.2m0 -5.2l-5.2 5.2M354.1 388.2l5.2 5.2m0 -5.2l-5.2 5.2M355.2 387.4l5.2 5.2m0 -5.2l-5.2 5.2M355.9 388.2l5.2 5.2m0 -5.2l-5.2 5.2M356.7 387.3l5.2 5.2m0 -5.2l-5.2 5.2M357.6 388.0l5.2 5.2m0 -5.2l-5.2 5.2M358.4 386.9l5.2 5.2m0 -5.2l-5.2 5.2M359.7 387.7l5.2 5.2m0 -5.2l-5.2 5.2M360.5 387.8l5.2 5.2m0 -5.2l-5.2 5.2M361.3 387.8l5.2 5.2m0 -5.2l-5.2 5.2M362.2 387.7l5.2 5.2m0 -5.2l-5.2 5.2M363.1 387.9l5.2 5.2m0 -5.2l-5.2 5.2M364.1 388.1l5.2 5.2m0 -5.2l-5.2 5.2M365.0 387.3l5.2 5.2m0 -5.2l-5.2 5.2M365.8 388.0l5.2 5.2m0 -5.2l-5.2 5.2M366.6 388.1l5.2 5.2m0 -5.2l-5.2 5.2M367.6 388.3l5.2 5.2m0 -5.2l-5.2 5.2M368.5 388.4l5.2 5.2m0 -5.2l-5.2 5.2M369.2 387.2l5.2 5.2m0 -5.2l-5.2 5.2M370.3 387.0l5.2 5.2m0 -5.2l-5.2 5.2M371.2 388.7l5.2 5.2m0 -5.2l-5.2 5.2M372.0 388.5l5.2 5.2m0 -5.2l-5.2 5.2M373.0 387.7l5.2 5.2m0 -5.2l-5.2 5.2M374.1 388.8l5.2 5.2m0 -5.2l-5.2 5.2M375.0 387.8l5.2 5.2m0 -5.2l-5.2 5.2M375.7 388.5l5.2 5.2m0 -5.2l-5.2 5.2M376.5 388.8l5.2 5.2m0 -5.2l-5.2 5.2M377.7 388.7l5.2 5.2m0 -5.2l-5.2 5.2M378.6 387.4l5.2 5.2m0 -5.2l-5.2 5.2M379.3 387.4l5.2 5.2m0 -5.2l-5.2 5.2M380.1 388.2l5.2 5.2m0 -5.2l-5.2 5.2M381.2 388.1l5.2 5.2m0 -5.2l-5.2 5.2M382.2 389.0l5.2 5.2m0 -5.2l-5.2 5.2M383.0 388.2l5.2 5.2m0 -5.2l-5.2 5.2M383.8 388.3l5.2 5.2m0 -5.2l-5.2 5.2M384.7 388.0l5.2 5.2m0 -5.2l-5.2 5.2M385.7 387.6l5.2 5.2m0 -5.2l-5.2 5.2M386.4 388.4l5.2 5.2m0 -5.2l-5.2 5.2M387.6 388.9l5.2 5.2m0 -5.2l-5.2 5.2M388.4 388.4l5.2 5.2m0 -5.2l-5.2 5.2M389.4 388.0l5.2 5.2m0 -5.2l-5.2 5.2M389.9 387.8l5.2 5.2m0 -5.2l-5.2 5.2M391.2 388.2l5.2 5.2m0 -5.2l-5.2 5.2M391.9 389.2l5.2 5.2m0 -5.2l-5.2 5.2M392.8 388.5l5.2 5.2m0 -5.2l-5.2 5.2M393.5 388.1l5.2 5.2m0 -5.2l-5.2 5.2M394.4 388.3l5.2 5.2m0 -5.2l-5.2 5.2M395.5 388.6l5.2 5.2m0 -5.2l-5.2 5.2M396.5 387.8l5.2 5.2m0 -5.2l-5.2 5.2M397.1 388.3l5.2 5.2m0 -5.2l-5.2 5.2M398.2 387.6l5.2 5.2m0 -5.2l-5.2 5.2M399.3 388.2l5.2 5.2m0 -5.2l-5.2 5.2M400.0 388.7l5.2 5.2m0 -5.2l-5.2 5.2M400.8 388.7l5.2 5.2m0 -5.2l-5.2 5.2M401.8 389.0l5.2 5.2m0 -5.2l-5.2 5.2M402.7 388.2l5.2 5.2m0 -5.2l-5.2 5.2M403.7 387.1l5.2 5.2m0 -5.2l-5.2 5.2M404.6 388.9l5.2 5.2m0 -5.2l-5.2 5.2M405.3 388.7l5.2 5.2m0 -5.2l-5.2 5.2M406.2 389.0l5.2 5.2m0 -5.2l-5.2 5.2M407.4 389.2l5.2 5.2m0 -5.2l-5.2 5.2M408.2 388.5l5.2 5.2m0 -5.2l-5.2 5.2M409.0 388.0l5.2 5.2m0 -5.2l-5.2 5.2M409.9 388.2l5.2 5.2m0 -5.2l-5.2 5.2M410.7 388.0l5.2 5.2m0 -5.2l-5.2 5.2M411.8 388.6l5.2 5.2m0 -5.2l-5.2 5.2M412.6 389.4l5.2 5.2m0 -5.2l-5.2 5.2M413.3 388.1l5.2 5.2m0 -5.2l-5.2 5.2M414.6 388.1l5.2 5.2m0 -5.2l-5.2 5.2M415.3 389.5l5.2 5.2m0 -5.2l-5.2 5.2M416.1 387.7l5.2 5.2m0 -5.2l-5.2 5.2M417.2 388.1l5.2 5.2m0 -5.2l-5.2 5.2M418.0 387.8l5.2 5.2m0 -5.2l-5.2 5.2M419.0 389.3l5.2 5.2m0 -5.2l-5.2 5.2M419.8 387.9l5.2 5.2m0 -5.2l-5.2 5.2M420.9 388.3l5.2 5.2m0 -5.2l-5.2 5.2M421.6 388.5l5.2 5.2m0 -5.2l-5.2 5.2M422.7 388.0l5.2 5.2m0 -5.2l-5.2 5.2M423.6 388.5l5.2 5.2m0 -5.2l-5.2 5.2M424.1 387.7l5.2 5.2m0 -5.2l-5.2 5.2M425.2 387.9l5.2 5.2m0 -5.2l-5.2 5.2M426.3 388.1l5.2 5.2m0 -5.2l-5.2 5.2M427.0 389.1l5.2 5.2m0 -5.2l-5.2 5.2M428.0 388.5l5.2 5.2m0 -5.2l-5.2 5.2M428.9 388.4l5.2 5.2m0 -5.2l-5.2 5.2M429.6 388.1l5.2 5.2m0 -5.2l-5.2 5.2M430.7 389.1l5.2 5.2m0 -5.2l-5.2 5.2M431.5 389.3l5.2 5.2m0 -5.2l-5.2 5.2M432.5 387.0l5.2 5.2m0 -5.2l-5.2 5.2M433.3 388.6l5.2 5.2m0 -5.2l-5.2 5.2M434.2 389.2l5.2 5.2m0 -5.2l-5.2 5.2M435.2 388.3l5.2 5.2m0 -5.2l-5.2 5.2M436.1 388.9l5.2 5.2m0 -5.2l-5.2 5.2M437.0 387.5l5.2 5.2m0 -5.2l-5.2 5.2M437.8 388.5l5.2 5.2m0 -5.2l-5.2 5.2M438.5 388.7l5.2 5.2m0 -5.2l-5.2 5.2M439.6 389.1l5.2 5.2m0 -5.2l-5.2 5.2M440.6 388.5l5.2 5.2m0 -5.2l-5.2 5.2M441.3 389.1l5.2 5.2m0 -5.2l-5.2 5.2M442.1 389.6l5.2 5.2m0 -5.2l-5.2 5.2M443.4 388.2l5.2 5.2m0 -5.2l-5.2 5.2M444.1 388.3l5.2 5.2m0 -5.2l-5.2 5.2M444.8 388.7l5.2 5.2m0 -5.2l-5.2 5.2M445.9 388.7l5.2 5.2m0 -5.2l-5.2 5.2M446.7 388.6l5.2 5.2m0 -5.2l-5.2 5.2M447.7 388.4l5.2 5.2m0 -5.2l-5.2 5.2M448.8 389.7l5.2 5.2m0 -5.2l-5.2 5.2M449.6 387.4l5.2 5.2m0 -5.2l-5.2 5.2M450.4 387.5l5.2 5.2m0 -5.2l-5.2 5.2M451.2 386.6l5.2 5.2m0 -5.2l-5.2 5.2M452.2 385.1l5.2 5.2m0 -5.2l-5.2 5.2M453.2 385.4l5.2 5.2m0 -5.2l-5.2 5.2M454.0 383.8l5.2 5.2m0 -5.2l-5.2 5.2M454.9 385.4l5.2 5.2m0 -5.2l-5.2 5.2M456.0 386.7l5.2 5.2m0 -5.2l-5.2 5.2M456.6 388.8l5.2 5.2m0 -5.2l-5.2 5.2M457.7 388.3l5.2 5.2m0 -5.2l-5.2 5.2M458.4 389.4l5.2 5.2m0 -5.2l-5.2 5.2M459.5 388.2l5.2 5.2m0 -5.2l-5.2 5.2M460.3 388.3l5.2 5.2m0 -5.2l-5.2 5.2M461.2 388.2l5.2 5.2m0 -5.2l-5.2 5.2M462.1 388.5l5.2 5.2m0 -5.2l-5.2 5.2M462.9 388.3l5.2 5.2m0 -5.2l-5.2 5.2M464.0 388.8l5.2 5.2m0 -5.2l-5.2 5.2M464.8 389.5l5.2 5.2m0 -5.2l-5.2 5.2M465.8 388.0l5.2 5.2m0 -5.2l-5.2 5.2M466.7 388.7l5.2 5.2m0 -5.2l-5.2 5.2M467.3 388.8l5.2 5.2m0 -5.2l-5.2 5.2M468.3 389.3l5.2 5.2m0 -5.2l-5.2 5.2M469.2 388.9l5.2 5.2m0 -5.2l-5.2 5.2M470.0 387.6l5.2 5.2m0 -5.2l-5.2 5.2M471.3 389.0l5.2 5.2m0 -5.2l-5.2 5.2M472.0 388.1l5.2 5.2m0 -5.2l-5.2 5.2M472.7 389.0l5.2 5.2m0 -5.2l-5.2 5.2M473.9 388.6l5.2 5.2m0 -5.2l-5.2 5.2M474.9 388.0l5.2 5.2m0 -5.2l-5.2 5.2M475.4 386.4l5.2 5.2m0 -5.2l-5.2 5.2M476.4 387.6l5.2 5.2m0 -5.2l-5.2 5.2M477.5 386.3l5.2 5.2m0 -5.2l-5.2 5.2M478.3 385.6l5.2 5.2m0 -5.2l-5.2 5.2M479.0 384.7l5.2 5.2m0 -5.2l-5.2 5.2M480.3 383.4l5.2 5.2m0 -5.2l-5.2 5.2M480.9 383.6l5.2 5.2m0 -5.2l-5.2 5.2M481.9 384.2l5.2 5.2m0 -5.2l-5.2 5.2M482.6 383.4l5.2 5.2m0 -5.2l-5.2 5.2M483.6 383.8l5.2 5.2m0 -5.2l-5.2 5.2M484.5 383.0l5.2 5.2m0 -5.2l-5.2 5.2M485.5 381.3l5.2 5.2m0 -5.2l-5.2 5.2M486.5 379.6l5.2 5.2m0 -5.2l-5.2 5.2M487.4 377.6l5.2 5.2m0 -5.2l-5.2 5.2M488.0 374.0l5.2 5.2m0 -5.2l-5.2 5.2M488.9 361.5l5.2 5.2m0 -5.2l-5.2 5.2M490.0 337.4l5.2 5.2m0 -5.2l-5.2 5.2M491.1 304.8l5.2 5.2m0 -5.2l-5.2 5.2M491.8 275.5l5.2 5.2m0 -5.2l-5.2 5.2M492.6 256.7l5.2 5.2m0 -5.2l-5.2 5.2M493.5 269.2l5.2 5.2m0 -5.2l-5.2 5.2M494.5 295.8l5.2 5.2m0 -5.2l-5.2 5.2M495.5 330.2l5.2 5.2m0 -5.2l-5.2 5.2M496.4 357.0l5.2 5.2m0 -5.2l-5.2 5.2M497.1 374.4l5.2 5.2m0 -5.2l-5.2 5.2M498.2 381.2l5.2 5.2m0 -5.2l-5.2 5.2M499.0 386.2l5.2 5.2m0 -5.2l-5.2 5.2M499.8 386.6l5.2 5.2m0 -5.2l-5.2 5.2M501.0 388.0l5.2 5.2m0 -5.2l-5.2 5.2M501.5 387.8l5.2 5.2m0 -5.2l-5.2 5.2M502.5 388.2l5.2 5.2m0 -5.2l-5.2 5.2M503.6 386.8l5.2 5.2m0 -5.2l-5.2 5.2M504.4 388.2l5.2 5.2m0 -5.2l-5.2 5.2M505.5 388.4l5.2 5.2m0 -5.2l-5.2 5.2M506.4 387.9l5.2 5.2m0 -5.2l-5.2 5.2M507.1 388.1l5.2 5.2m0 -5.2l-5.2 5.2M507.9 388.3l5.2 5.2m0 -5.2l-5.2 5.2M508.7 387.9l5.2 5.2m0 -5.2l-5.2 5.2M509.8 388.5l5.2 5.2m0 -5.2l-5.2 5.2M510.8 388.9l5.2 5.2m0 -5.2l-5.2 5.2M511.8 388.6l5.2 5.2m0 -5.2l-5.2 5.2M512.6 387.9l5.2 5.2m0 -5.2l-5.2 5.2M513.6 388.2l5.2 5.2m0 -5.2l-5.2 5.2M514.4 388.7l5.2 5.2m0 -5.2l-5.2 5.2M515.2 389.2l5.2 5.2m0 -5.2l-5.2 5.2M516.1 388.6l5.2 5.2m0 -5.2l-5.2 5.2M516.9 388.5l5.2 5.2m0 -5.2l-5.2 5.2M517.9 388.0l5.2 5.2m0 -5.2l-5.2 5.2M518.9 388.6l5.2 5.2m0 -5.2l-5.2 5.2M519.8 388.3l5.2 5.2m0 -5.2l-5.2 5.2M520.6 388.8l5.2 5.2m0 -5.2l-5.2 5.2M521.6 389.2l5.2 5.2m0 -5.2l-5.2 5.2M522.4 388.0l5.2 5.2m0 -5.2l-5.2 5.2M523.2 388.4l5.2 5.2m0 -5.2l-5.2 5.2M524.0 387.9l5.2 5.2m0 -5.2l-5.2 5.2M525.0 388.6l5.2 5.2m0 -5.2l-5.2 5.2M526.0 388.2l5.2 5.2m0 -5.2l-5.2 5.2M527.0 388.9l5.2 5.2m0 -5.2l-5.2 5.2M527.7 388.5l5.2 5.2m0 -5.2l-5.2 5.2M528.6 389.2l5.2 5.2m0 -5.2l-5.2 5.2M529.8 389.4l5.2 5.2m0 -5.2l-5.2 5.2M530.6 389.6l5.2 5.2m0 -5.2l-5.2 5.2M531.2 388.7l5.2 5.2m0 -5.2l-5.2 5.2M532.2 388.8l5.2 5.2m0 -5.2l-5.2 5.2M533.2 388.4l5.2 5.2m0 -5.2l-5.2 5.2M534.2 388.5l5.2 5.2m0 -5.2l-5.2 5.2M534.8 388.7l5.2 5.2m0 -5.2l-5.2 5.2M536.0 388.2l5.2 5.2m0 -5.2l-5.2 5.2M536.7 388.2l5.2 5.2m0 -5.2l-5.2 5.2M537.6 388.8l5.2 5.2m0 -5.2l-5.2 5.2M538.5 388.5l5.2 5.2m0 -5.2l-5.2 5.2M539.5 388.9l5.2 5.2m0 -5.2l-5.2 5.2M540.4 388.7l5.2 5.2m0 -5.2l-5.2 5.2M541.3 388.1l5.2 5.2m0 -5.2l-5.2 5.2M542.4 389.0l5.2 5.2m0 -5.2l-5.2 5.2M543.0 387.7l5.2 5.2m0 -5.2l-5.2 5.2M544.0 388.7l5.2 5.2m0 -5.2l-5.2 5.2M544.9 388.1l5.2 5.2m0 -5.2l-5.2 5.2M545.6 388.1l5.2 5.2m0 -5.2l-5.2 5.2M546.5 388.3l5.2 5.2m0 -5.2l-5.2 5.2M547.6 389.5l5.2 5.2m0 -5.2l-5.2 5.2M548.3 388.0l5.2 5.2m0 -5.2l-5.2 5.2M549.4 388.9l5.2 5.2m0 -5.2l-5.2 5.2M550.4 388.0l5.2 5.2m0 -5.2l-5.2 5.2M551.3 388.7l5.2 5.2m0 -5.2l-5.2 5.2M552.2 388.8l5.2 5.2m0 -5.2l-5.2 5.2M553.2 389.1l5.2 5.2m0 -5.2l-5.2 5.2M554.1 388.4l5.2 5.2m0 -5.2l-5.2 5.2M554.7 387.3l5.2 5.2m0 -5.2l-5.2 5.2M555.5 388.5l5.2 5.2m0 -5.2l-5.2 5.2M556.6 388.6l5.2 5.2m0 -5.2l-5.2 5.2M557.6 388.2l5.2 5.2m0 -5.2l-5.2 5.2M558.5 388.3l5.2 5.2m0 -5.2l-5.2 5.2M559.1 388.2l5.2 5.2m0 -5.2l-5.2 5.2M560.2 387.4l5.2 5.2m0 -5.2l-5.2 5.2M561.0 388.1l5.2 5.2m0 -5.2l-5.2 5.2M562.1 389.4l5.2 5.2m0 -5.2l-5.2 5.2M563.1 388.5l5.2 5.2m0 -5.2l-5.2 5.2M563.9 389.2l5.2 5.2m0 -5.2l-5.2 5.2M564.7 388.2l5.2 5.2m0 -5.2l-5.2 5.2M565.5 388.5l5.2 5.2m0 -5.2l-5.2 5.2M566.3 388.9l5.2 5.2m0 -5.2l-5.2 5.2M567.6 388.1l5.2 5.2m0 -5.2l-5.2 5.2M568.1 388.1l5.2 5.2m0 -5.2l-5.2 5.2M569.1 388.6l5.2 5.2m0 -5.2l-5.2 5.2M570.0 388.1l5.2 5.2m0 -5.2l-5.2 5.2M571.0 389.3l5.2 5.2m0 -5.2l-5.2 5.2M571.8 388.3l5.2 5.2m0 -5.2l-5.2 5.2M573.0 389.0l5.2 5.2m0 -5.2l-5.2 5.2M573.7 388.6l5.2 5.2m0 -5.2l-5.2 5.2M574.4 388.0l5.2 5.2m0 -5.2l-5.2 5.2M575.4 387.5l5.2 5.2m0 -5.2l-5.2 5.2M576.4 388.1l5.2 5.2m0 -5.2l-5.2 5.2M577.4 388.7l5.2 5.2m0 -5.2l-5.2 5.2M578.1 389.0l5.2 5.2m0 -5.2l-5.2 5.2M579.2 389.1l5.2 5.2m0 -5.2l-5.2 5.2M580.0 388.9l5.2 5.2m0 -5.2l-5.2 5.2M581.0 389.3l5.2 5.2m0 -5.2l-5.2 5.2M581.6 389.2l5.2 5.2m0 -5.2l-5.2 5.2M582.6 388.3l5.2 5.2m0 -5.2l-5.2 5.2M583.7 389.2l5.2 5.2m0 -5.2l-5.2 5.2M584.5 388.3l5.2 5.2m0 -5.2l-5.2 5.2M585.4 389.6l5.2 5.2m0 -5.2l-5.2 5.2M586.3 388.0l5.2 5.2m0 -5.2l-5.2 5.2M587.1 388.5l5.2 5.2m0 -5.2l-5.2 5.2M588.2 388.5l5.2 5.2m0 -5.2l-5.2 5.2M589.2 389.0l5.2 5.2m0 -5.2l-5.2 5.2M589.7 387.6l5.2 5.2m0 -5.2l-5.2 5.2M590.6 388.8l5.2 5.2m0 -5.2l-5.2 5.2M591.7 388.5l5.2 5.2m0 -5.2l-5.2 5.2M592.4 389.4l5.2 5.2m0 -5.2l-5.2 5.2M593.6 387.9l5.2 5.2m0 -5.2l-5.2 5.2M594.4 388.0l5.2 5.2m0 -5.2l-5.2 5.2M595.2 387.6l5.2 5.2m0 -5.2l-5.2 5.2M596.3 389.2l5.2 5.2m0 -5.2l-5.2 5.2M597.1 387.5l5.2 5.2m0 -5.2l-5.2 5.2M597.9 388.7l5.2 5.2m0 -5.2l-5.2 5.2M598.8 388.3l5.2 5.2m0 -5.2l-5.2 5.2M599.9 388.3l5.2 5.2m0 -5.2l-5.2 5.2M600.6 388.7l5.2 5.2m0 -5.2l-5.2 5.2M601.8 387.3l5.2 5.2m0 -5.2l-5.2 5.2M602.5 385.7l5.2 5.2m0 -5.2l-5.2 5.2M603.5 382.0l5.2 5.2m0 -5.2l-5.2 5.2M604.5 375.9l5.2 5.2m0 -5.2l-5.2 5.2M605.3 368.2l5.2 5.2m0 -5.2l-5.2 5.2M606.0 360.7l5.2 5.2m0 -5.2l-5.2 5.2M606.9 357.8l5.2 5.2m0 -5.2l-5.2 5.2M607.8 360.9l5.2 5.2m0 -5.2l-5.2 5.2M608.9 368.0l5.2 5.2m0 -5.2l-5.2 5.2M609.7 376.5l5.2 5.2m0 -5.2l-5.2 5.2M610.7 382.0l5.2 5.2m0 -5.2l-5.2 5.2M611.7 385.3l5.2 5.2m0 -5.2l-5.2 5.2M612.3 387.4l5.2 5.2m0 -5.2l-5.2 5.2M613.1 387.9l5.2 5.2m0 -5.2l-5.2 5.2M614.2 387.3l5.2 5.2m0 -5.2l-5.2 5.2M615.0 388.3l5.2 5.2m0 -5.2l-5.2 5.2M616.2 389.0l5.2 5.2m0 -5.2l-5.2 5.2M616.9 388.1l5.2 5.2m0 -5.2l-5.2 5.2M617.8 388.1l5.2 5.2m0 -5.2l-5.2 5.2M618.8 388.1l5.2 5.2m0 -5.2l-5.2 5.2M619.5 388.4l5.2 5.2m0 -5.2l-5.2 5.2M620.5 389.1l5.2 5.2m0 -5.2l-5.2 5.2M621.3 387.9l5.2 5.2m0 -5.2l-5.2 5.2M622.2 388.0l5.2 5.2m0 -5.2l-5.2 5.2M623.2 387.8l5.2 5.2m0 -5.2l-5.2 5.2M624.0 388.9l5.2 5.2m0 -5.2l-5.2 5.2M624.9 388.1l5.2 5.2m0 -5.2l-5.2 5.2M625.9 388.8l5.2 5.2m0 -5.2l-5.2 5.2M626.6 387.9l5.2 5.2m0 -5.2l-5.2 5.2M627.9 388.5l5.2 5.2m0 -5.2l-5.2 5.2M628.5 388.7l5.2 5.2m0 -5.2l-5.2 5.2M629.6 388.5l5.2 5.2m0 -5.2l-5.2 5.2M630.3 389.3l5.2 5.2m0 -5.2l-5.2 5.2M631.4 388.0l5.2 5.2m0 -5.2l-5.2 5.2M632.0 388.7l5.2 5.2m0 -5.2l-5.2 5.2M633.1 388.5l5.2 5.2m0 -5.2l-5.2 5.2M634.2 387.8l5.2 5.2m0 -5.2l-5.2 5.2M635.0 388.0l5.2 5.2m0 -5.2l-5.2 5.2M636.0 388.4l5.2 5.2m0 -5.2l-5.2 5.2M636.9 388.1l5.2 5.2m0 -5.2l-5.2 5.2M637.7 388.5l5.2 5.2m0 -5.2l-5.2 5.2M638.5 388.2l5.2 5.2m0 -5.2l-5.2 5.2M639.5 388.0l5.2 5.2m0 -5.2l-5.2 5.2M640.4 388.3l5.2 5.2m0 -5.2l-5.2 5.2M641.3 388.5l5.2 5.2m0 -5.2l-5.2 5.2M641.9 387.9l5.2 5.2m0 -5.2l-5.2 5.2M642.8 388.3l5.2 5.2m0 -5.2l-5.2 5.2M643.7 388.3l5.2 5.2m0 -5.2l-5.2 5.2M644.8 387.5l5.2 5.2m0 -5.2l-5.2 5.2M645.8 387.1l5.2 5.2m0 -5.2l-5.2 5.2M646.8 387.5l5.2 5.2m0 -5.2l-5.2 5.2M647.6 387.9l5.2 5.2m0 -5.2l-5.2 5.2M648.6 388.3l5.2 5.2m0 -5.2l-5.2 5.2M649.2 388.6l5.2 5.2m0 -5.2l-5.2 5.2M650.1 388.5l5.2 5.2m0 -5.2l-5.2 5.2M651.0 387.3l5.2 5.2m0 -5.2l-5.2 5.2M652.1 387.5l5.2 5.2m0 -5.2l-5.2 5.2M653.1 388.9l5.2 5.2m0 -5.2l-5.2 5.2M653.9 388.3l5.2 5.2m0 -5.2l-5.2 5.2M654.7 389.2l5.2 5.2m0 -5.2l-5.2 5.2M655.7 388.1l5.2 5.2m0 -5.2l-5.2 5.2" stroke="#ff0000" stroke-width="0.95" fill="none"/>
<path d="M43.9 388.8 L44.4 388.8 L44.9 388.8 L45.4 388.8 L45.9 388.8 L46.4 388.8 L46.9 388.8 L47.4 388.8 L47.9 388.8 L48.4 388.7 L48.9 388.7 L49.4 388.7 L49.9 388.7 L50.4 388.7 L50.9 388.7 L51.4 388.7 L51.9 388.7 L52.4 388.7 L52.9 388.7 L53.4 388.6 L53.9 388.6 L54.4 388.4 L54.9 387.9 L55.4 386.9 L55.9 384.9 L56.4 381.9 L56.9 378.6 L57.4 376.5 L57.9 376.8 L58.4 379.2 L58.9 382.5 L59.4 385.3 L59.9 387.1 L60.4 388.0 L60.9 388.4 L61.4 388.5 L61.9 388.6 L62.4 388.6 L62.9 388.6 L63.4 388.7 L63.9 388.7 L64.4 388.7 L64.9 388.7 L65.4 388.7 L65.9 388.7 L66.4 388.6 L66.9 388.6 L67.4 388.5 L67.9 388.4 L68.4 388.1 L68.9 387.8 L69.4 387.6 L69.9 387.4 L70.4 387.4 L70.9 387.6 L71.4 387.9 L71.9 388.2 L72.4 388.4 L72.9 388.5 L73.4 388.6 L73.9 388.6 L74.4 388.6 L74.9 388.6 L75.4 388.6 L75.9 388.6 L76.4 388.6 L76.9 388.6 L77.4 388.6 L77.9 388.6 L78.4 388.6 L78.9 388.6 L79.4 388.6 L79.9 388.6 L80.4 388.6 L80.9 388.5 L81.4 388.5 L81.9 388.5 L82.4 388.4 L82.9 388.2 L83.4 387.7 L83.9 386.6 L84.4 384.4 L84.9 381.0 L85.4 376.5 L85.9 371.8 L86.4 368.6 L86.9 368.2 L87.4 371.0 L87.9 375.5 L88.4 380.2 L88.9 383.9 L89.4 386.3 L89.9 387.6 L90.4 388.2 L90.9 388.5 L91.4 388.5 L91.9 388.4 L92.4 388.2 L92.9 387.6 L93.4 386.8 L93.9 385.9 L94.4 385.0 L94.9 384.5 L95.4 384.7 L95.9 385.5 L96.4 386.6 L96.9 387.5 L97.4 388.2 L97.9 388.6 L98.4 388.8 L98.9 388.9 L99.4 389.0 L99.9 389.0 L100.4 389.0 L100.9 389.0 L101.4 389.1 L101.9 389.1 L102.4 389.1 L102.9 389.1 L103.4 389.1 L103.9 389.1 L104.4 389.1 L104.9 389.2 L105.4 389.2 L105.9 389.2 L106.4 389.2 L106.9 389.2 L107.4 389.2 L107.9 389.2 L108.4 389.2 L108.9 389.2 L109.4 389.3 L109.9 389.3 L110.4 389.3 L110.9 389.3 L111.4 389.3 L111.9 389.3 L112.4 389.3 L112.9 389.3 L113.4 389.3 L113.9 389.3 L114.4 389.4 L114.9 389.4 L115.4 389.4 L115.9 389.4 L116.4 389.4 L116.9 389.4 L117.4 389.4 L117.9 389.4 L118.4 389.4 L118.9 389.4 L119.4 389.4 L119.9 389.4 L120.4 389.4 L120.9 389.3 L121.4 389.2 L121.9 388.9 L122.4 388.3 L122.9 387.1 L123.4 385.4 L123.9 383.3 L124.4 381.5 L124.9 380.5 L125.4 381.0 L125.9 382.6 L126.4 384.7 L126.9 386.6 L127.4 388.0 L127.9 388.8 L128.4 389.3 L128.9 389.5 L129.4 389.5 L129.9 389.6 L130.4 389.6 L130.9 389.6 L131.4 389.7 L131.9 389.7 L132.4 389.7 L132.9 389.7 L133.4 389.7 L133.9 389.7 L134.4 389.8 L134.9 389.8 L135.4 389.8 L135.9 389.8 L136.4 389.8 L136.9 389.8 L137.4 389.8 L137.9 389.8 L138.4 389.8 L138.9 389.9 L139.4 389.9 L139.9 389.9 L140.4 389.9 L140.9 389.9 L141.4 389.9 L141.9 389.9 L142.4 389.9 L142.9 389.9 L143.4 389.9 L143.9 390.0 L144.4 390.0 L144.9 390.0 L145.4 390.0 L145.9 390.0 L146.4 390.0 L146.9 390.0 L147.4 390.0 L147.9 390.0 L148.4 390.0 L148.9 390.1 L149.4 390.1 L149.9 390.1 L150.4 390.1 L150.9 390.1 L151.4 390.1 L151.9 390.1 L152.4 390.1 L152.9 390.1 L153.4 390.1 L153.9 390.1 L154.4 390.1 L154.9 390.1 L155.4 390.1 L155.9 390.1 L156.4 390.1 L156.9 390.0 L157.4 389.9 L157.9 389.8 L158.4 389.5 L158.9 389.1 L159.4 388.7 L159.9 388.4 L160.4 388.3 L160.9 388.5 L161.4 388.9 L161.9 389.3 L162.4 389.6 L162.9 389.9 L163.4 390.0 L163.9 390.1 L164.4 390.1 L164.9 390.1 L165.4 390.1 L165.9 390.1 L166.4 390.1 L166.9 390.1 L167.4 390.1 L167.9 390.1 L168.4 390.1 L168.9 390.1 L169.4 390.1 L169.9 390.1 L170.4 390.1 L170.9 390.1 L171.4 390.1 L171.9 390.1 L172.4 390.1 L172.9 390.1 L173.4 390.1 L173.9 390.1 L174.4 390.1 L174.9 390.1 L175.4 390.1 L175.9 390.1 L176.4 390.0 L176.9 390.0 L177.4 390.0 L177.9 390.0 L178.4 389.9 L178.9 389.7 L179.4 389.3 L179.9 388.3 L180.4 386.5 L180.9 383.5 L181.4 379.4 L181.9 374.8 L182.4 371.0 L182.9 369.5 L183.4 371.0 L183.9 374.8 L184.4 379.4 L184.9 383.5 L185.4 386.5 L185.9 388.3 L186.4 389.3 L186.9 389.7 L187.4 389.9 L187.9 390.0 L188.4 390.0 L188.9 390.1 L189.4 390.1 L189.9 390.1 L190.4 390.1 L190.9 390.1 L191.4 390.1 L191.9 390.1 L192.4 390.2 L192.9 390.2 L193.4 390.2 L193.9 390.2 L194.4 390.2 L194.9 390.2 L195.4 390.2 L195.9 390.2 L196.4 390.2 L196.9 390.1 L197.4 390.1 L197.9 390.0 L198.4 389.8 L198.9 389.4 L199.4 388.6 L199.9 387.4 L200.4 386.0 L200.9 384.7 L201.4 384.0 L201.9 384.3 L202.4 385.4 L202.9 386.8 L203.4 388.2 L203.9 389.1 L204.4 389.7 L204.9 390.0 L205.4 390.1 L205.9 390.2 L206.4 390.2 L206.9 390.2 L207.4 390.2 L207.9 390.2 L208.4 390.3 L208.9 390.3 L209.4 390.3 L209.9 390.3 L210.4 390.3 L210.9 390.3 L211.4 390.3 L211.9 390.3 L212.4 390.3 L212.9 390.3 L213.4 390.3 L213.9 390.3 L214.4 390.3 L214.9 390.3 L215.4 390.3 L215.9 390.3 L216.4 390.3 L216.9 390.3 L217.4 390.3 L217.9 390.3 L218.4 390.3 L218.9 390.3 L219.4 390.3 L219.9 390.3 L220.4 390.3 L220.9 390.3 L221.4 390.3 L221.9 390.3 L222.4 390.3 L222.9 390.3 L223.4 390.3 L223.9 390.3 L224.4 390.3 L224.9 390.3 L225.4 390.3 L225.9 390.3 L226.4 390.3 L226.9 390.3 L227.4 390.3 L227.9 390.3 L228.4 390.4 L228.9 390.4 L229.4 390.4 L229.9 390.4 L230.4 390.4 L230.9 390.4 L231.4 390.4 L231.9 390.4 L232.4 390.4 L232.9 390.4 L233.4 390.4 L233.9 390.4 L234.4 390.4 L234.9 390.4 L235.4 390.4 L235.9 390.4 L236.4 390.4 L236.9 390.4 L237.4 390.4 L237.9 390.4 L238.4 390.4 L238.9 390.4 L239.4 390.4 L239.9 390.4 L240.4 390.4 L240.9 390.4 L241.4 390.4 L241.9 390.4 L242.4 390.4 L242.9 390.4 L243.4 390.4 L243.9 390.4 L244.4 390.4 L244.9 390.4 L245.4 390.4 L245.9 390.4 L246.4 390.3 L246.9 390.3 L247.4 390.3 L247.9 390.1 L248.4 389.9 L248.9 389.4 L249.4 388.8 L249.9 388.0 L250.4 387.4 L250.9 387.1 L251.4 387.4 L251.9 388.0 L252.4 388.8 L252.9 389.4 L253.4 389.9 L253.9 390.1 L254.4 390.3 L254.9 390.3 L255.4 390.3 L255.9 390.3 L256.4 390.3 L256.9 390.3 L257.4 390.3 L257.9 390.3 L258.4 390.3 L258.9 390.3 L259.4 390.3 L259.9 390.3 L260.4 390.3 L260.9 390.2 L261.4 390.1 L261.9 390.0 L262.4 389.8 L262.9 389.5 L263.4 389.2 L263.9 388.8 L264.4 388.4 L264.9 387.9 L265.4 387.5 L265.9 387.2 L266.4 387.0 L266.9 387.1 L267.4 387.3 L267.9 387.6 L268.4 388.0 L268.9 388.4 L269.4 388.8 L269.9 389.1 L270.4 389.3 L270.9 389.5 L271.4 389.5 L271.9 389.5 L272.4 389.3 L272.9 388.9 L273.4 388.1 L273.9 386.6 L274.4 383.8 L274.9 379.1 L275.4 372.0 L275.9 362.1 L276.4 349.9 L276.9 336.7 L277.4 324.8 L277.9 316.7 L278.4 314.6 L278.9 319.3 L279.4 329.3 L279.9 342.0 L280.4 355.0 L280.9 366.4 L281.4 375.2 L281.9 381.3 L282.4 385.2 L282.9 387.4 L283.4 388.6 L283.9 389.2 L284.4 389.6 L284.9 389.8 L285.4 389.9 L285.9 390.0 L286.4 390.0 L286.9 390.1 L287.4 390.2 L287.9 390.2 L288.4 390.2 L288.9 390.3 L289.4 390.3 L289.9 390.3 L290.4 390.3 L290.9 390.4 L291.4 390.4 L291.9 390.4 L292.4 390.4 L292.9 390.4 L293.4 390.4 L293.9 390.5 L294.4 390.5 L294.9 390.5 L295.4 390.5 L295.9 390.5 L296.4 390.5 L296.9 390.5 L297.4 390.5 L297.9 390.5 L298.4 390.5 L298.9 390.5 L299.4 390.5 L299.9 390.5 L300.4 390.5 L300.9 390.6 L301.4 390.6 L301.9 390.6 L302.4 390.6 L302.9 390.6 L303.4 390.6 L303.9 390.6 L304.4 390.6 L304.9 390.6 L305.4 390.6 L305.9 390.6 L306.4 390.6 L306.9 390.6 L307.4 390.6 L307.9 390.6 L308.4 390.6 L308.9 390.6 L309.4 390.6 L309.9 390.6 L310.4 390.6 L310.9 390.6 L311.4 390.6 L311.9 390.6 L312.4 390.6 L312.9 390.6 L313.4 390.6 L313.9 390.6 L314.4 390.6 L314.9 390.6 L315.4 390.7 L315.9 390.7 L316.4 390.7 L316.9 390.7 L317.4 390.7 L317.9 390.7 L318.4 390.7 L318.9 390.7 L319.4 390.7 L319.9 390.7 L320.4 390.7 L320.9 390.7 L321.4 390.7 L321.9 390.7 L322.4 390.7 L322.9 390.7 L323.4 390.7 L323.9 390.7 L324.4 390.7 L324.9 390.7 L325.4 390.7 L325.9 390.7 L326.4 390.7 L326.9 390.7 L327.4 390.8 L327.9 390.8 L328.4 390.8 L328.9 390.8 L329.4 390.8 L329.9 390.8 L330.4 390.8 L330.9 390.8 L331.4 390.8 L331.9 390.8 L332.4 390.8 L332.9 390.8 L333.4 390.8 L333.9 390.8 L334.4 390.8 L334.9 390.8 L335.4 390.8 L335.9 390.8 L336.4 390.8 L336.9 390.8 L337.4 390.8 L337.9 390.8 L338.4 390.8 L338.9 390.8 L339.4 390.7 L339.9 390.5 L340.4 390.1 L340.9 389.6 L341.4 388.9 L341.9 388.3 L342.4 388.0 L342.9 388.1 L343.4 388.7 L343.9 389.3 L344.4 389.9 L344.9 390.4 L345.4 390.7 L345.9 390.8 L346.4 390.9 L346.9 390.9 L347.4 390.9 L347.9 390.9 L348.4 390.9 L348.9 391.0 L349.4 391.0 L349.9 391.0 L350.4 391.0 L350.9 391.0 L351.4 391.0 L351.9 391.0 L352.4 391.0 L352.9 391.0 L353.4 391.0 L353.9 391.0 L354.4 391.0 L354.9 391.0 L355.4 391.0 L355.9 391.0 L356.4 391.0 L356.9 391.1 L357.4 391.1 L357.9 391.1 L358.4 391.1 L358.9 391.1 L359.4 391.1 L359.9 391.1 L360.4 391.1 L360.9 391.1 L361.4 391.1 L361.9 391.1 L362.4 391.1 L362.9 391.1 L363.4 391.1 L363.9 391.1 L364.4 391.1 L364.9 391.1 L365.4 391.1 L365.9 391.1 L366.4 391.2 L366.9 391.2 L367.4 391.2 L367.9 391.2 L368.4 391.2 L368.9 391.2 L369.4 391.2 L369.9 391.2 L370.4 391.2 L370.9 391.2 L371.4 391.2 L371.9 391.2 L372.4 391.2 L372.9 391.2 L373.4 391.2 L373.9 391.2 L374.4 391.2 L374.9 391.2 L375.4 391.2 L375.9 391.2 L376.4 391.3 L376.9 391.3 L377.4 391.3 L377.9 391.3 L378.4 391.3 L378.9 391.3 L379.4 391.3 L379.9 391.3 L380.4 391.3 L380.9 391.3 L381.4 391.3 L381.9 391.3 L382.4 391.3 L382.9 391.3 L383.4 391.3 L383.9 391.3 L384.4 391.3 L384.9 391.3 L385.4 391.3 L385.9 391.3 L386.4 391.4 L386.9 391.4 L387.4 391.4 L387.9 391.4 L388.4 391.4 L388.9 391.4 L389.4 391.4 L389.9 391.4 L390.4 391.4 L390.9 391.4 L391.4 391.4 L391.9 391.4 L392.4 391.4 L392.9 391.4 L393.4 391.4 L393.9 391.4 L394.4 391.4 L394.9 391.4 L395.4 391.4 L395.9 391.4 L396.4 391.4 L396.9 391.5 L397.4 391.5 L397.9 391.5 L398.4 391.5 L398.9 391.5 L399.4 391.5 L399.9 391.5 L400.4 391.5 L400.9 391.5 L401.4 391.5 L401.9 391.5 L402.4 391.5 L402.9 391.5 L403.4 391.5 L403.9 391.5 L404.4 391.5 L404.9 391.5 L405.4 391.5 L405.9 391.5 L406.4 391.5 L406.9 391.6 L407.4 391.6 L407.9 391.6 L408.4 391.6 L408.9 391.6 L409.4 391.6 L409.9 391.6 L410.4 391.6 L410.9 391.6 L411.4 391.6 L411.9 391.6 L412.4 391.6 L412.9 391.6 L413.4 391.6 L413.9 391.6 L414.4 391.6 L414.9 391.6 L415.4 391.6 L415.9 391.6 L416.4 391.6 L416.9 391.6 L417.4 391.7 L417.9 391.7 L418.4 391.7 L418.9 391.7 L419.4 391.7 L419.9 391.7 L420.4 391.7 L420.9 391.7 L421.4 391.7 L421.9 391.7 L422.4 391.7 L422.9 391.7 L423.4 391.7 L423.9 391.7 L424.4 391.7 L424.9 391.7 L425.4 391.7 L425.9 391.7 L426.4 391.7 L426.9 391.7 L427.4 391.7 L427.9 391.8 L428.4 391.8 L428.9 391.8 L429.4 391.8 L429.9 391.8 L430.4 391.8 L430.9 391.8 L431.4 391.8 L431.9 391.8 L432.4 391.8 L432.9 391.8 L433.4 391.8 L433.9 391.8 L434.4 391.8 L434.9 391.8 L435.4 391.8 L435.9 391.8 L436.4 391.8 L436.9 391.8 L437.4 391.8 L437.9 391.8 L438.4 391.8 L438.9 391.8 L439.4 391.9 L439.9 391.9 L440.4 391.9 L440.9 391.9 L441.4 391.9 L441.9 391.8 L442.4 391.8 L442.9 391.8 L443.4 391.8 L443.9 391.8 L444.4 391.8 L444.9 391.8 L445.4 391.8 L445.9 391.8 L446.4 391.8 L446.9 391.8 L447.4 391.8 L447.9 391.8 L448.4 391.8 L448.9 391.8 L449.4 391.8 L449.9 391.8 L450.4 391.8 L450.9 391.7 L451.4 391.7 L451.9 391.6 L452.4 391.4 L452.9 391.1 L453.4 390.6 L453.9 390.0 L454.4 389.3 L454.9 388.5 L455.4 387.8 L455.9 387.4 L456.4 387.4 L456.9 387.7 L457.4 388.3 L457.9 389.1 L458.4 389.8 L458.9 390.5 L459.4 391.0 L459.9 391.3 L460.4 391.5 L460.9 391.6 L461.4 391.7 L461.9 391.7 L462.4 391.7 L462.9 391.7 L463.4 391.7 L463.9 391.7 L464.4 391.7 L464.9 391.7 L465.4 391.7 L465.9 391.7 L466.4 391.7 L466.9 391.7 L467.4 391.7 L467.9 391.7 L468.4 391.7 L468.9 391.7 L469.4 391.7 L469.9 391.7 L470.4 391.7 L470.9 391.7 L471.4 391.7 L471.9 391.6 L472.4 391.6 L472.9 391.6 L473.4 391.6 L473.9 391.6 L474.4 391.6 L474.9 391.5 L475.4 391.5 L475.9 391.5 L476.4 391.4 L476.9 391.3 L477.4 391.2 L477.9 391.1 L478.4 390.8 L478.9 390.6 L479.4 390.2 L479.9 389.8 L480.4 389.3 L480.9 388.8 L481.4 388.2 L481.9 387.7 L482.4 387.2 L482.9 386.9 L483.4 386.7 L483.9 386.7 L484.4 386.7 L484.9 386.9 L485.4 387.0 L485.9 387.0 L486.4 386.9 L486.9 386.5 L487.4 385.9 L487.9 385.1 L488.4 384.4 L488.9 383.7 L489.4 382.9 L489.9 381.7 L490.4 379.4 L490.9 375.4 L491.4 368.8 L491.9 359.0 L492.4 345.7 L492.9 329.2 L493.4 310.7 L493.9 292.0 L494.4 275.6 L494.9 264.3 L495.4 260.2 L495.9 264.3 L496.4 275.7 L496.9 292.1 L497.4 310.9 L497.9 329.6 L498.4 346.4 L498.9 360.2 L499.4 370.7 L499.9 378.2 L500.4 383.1 L500.9 386.2 L501.4 388.1 L501.9 389.2 L502.4 389.8 L502.9 390.2 L503.4 390.4 L503.9 390.6 L504.4 390.7 L504.9 390.8 L505.4 390.9 L505.9 391.0 L506.4 391.1 L506.9 391.1 L507.4 391.2 L507.9 391.2 L508.4 391.3 L508.9 391.3 L509.4 391.3 L509.9 391.4 L510.4 391.4 L510.9 391.4 L511.4 391.4 L511.9 391.5 L512.4 391.5 L512.9 391.5 L513.4 391.5 L513.9 391.5 L514.4 391.5 L514.9 391.6 L515.4 391.6 L515.9 391.6 L516.4 391.6 L516.9 391.6 L517.4 391.6 L517.9 391.6 L518.4 391.6 L518.9 391.6 L519.4 391.6 L519.9 391.6 L520.4 391.6 L520.9 391.6 L521.4 391.6 L521.9 391.7 L522.4 391.7 L522.9 391.7 L523.4 391.7 L523.9 391.7 L524.4 391.7 L524.9 391.7 L525.4 391.7 L525.9 391.7 L526.4 391.7 L526.9 391.7 L527.4 391.7 L527.9 391.7 L528.4 391.7 L528.9 391.7 L529.4 391.7 L529.9 391.7 L530.4 391.7 L530.9 391.7 L531.4 391.7 L531.9 391.7 L532.4 391.7 L532.9 391.7 L533.4 391.7 L533.9 391.7 L534.4 391.7 L534.9 391.7 L535.4 391.7 L535.9 391.7 L536.4 391.7 L536.9 391.7 L537.4 391.7 L537.9 391.7 L538.4 391.7 L538.9 391.7 L539.4 391.7 L539.9 391.7 L540.4 391.7 L540.9 391.7 L541.4 391.7 L541.9 391.7 L542.4 391.7 L542.9 391.7 L543.4 391.7 L543.9 391.7 L544.4 391.7 L544.9 391.7 L545.4 391.7 L545.9 391.7 L546.4 391.7 L546.9 391.7 L547.4 391.7 L547.9 391.7 L548.4 391.7 L548.9 391.7 L549.4 391.7 L549.9 391.7 L550.4 391.7 L550.9 391.7 L551.4 391.7 L551.9 391.7 L552.4 391.7 L552.9 391.7 L553.4 391.7 L553.9 391.7 L554.4 391.7 L554.9 391.7 L555.4 391.7 L555.9 391.7 L556.4 391.7 L556.9 391.7 L557.4 391.7 L557.9 391.7 L558.4 391.7 L558.9 391.7 L559.4 391.7 L559.9 391.7 L560.4 391.7 L560.9 391.7 L561.4 391.7 L561.9 391.7 L562.4 391.7 L562.9 391.7 L563.4 391.7 L563.9 391.7 L564.4 391.7 L564.9 391.7 L565.4 391.7 L565.9 391.7 L566.4 391.7 L566.9 391.7 L567.4 391.7 L567.9 391.7 L568.4 391.7 L568.9 391.7 L569.4 391.7 L569.9 391.7 L570.4 391.7 L570.9 391.7 L571.4 391.7 L571.9 391.7 L572.4 391.7 L572.9 391.7 L573.4 391.7 L573.9 391.7 L574.4 391.7 L574.9 391.7 L575.4 391.7 L575.9 391.7 L576.4 391.7 L576.9 391.7 L577.4 391.7 L577.9 391.7 L578.4 391.7 L578.9 391.7 L579.4 391.7 L579.9 391.7 L580.4 391.7 L580.9 391.7 L581.4 391.7 L581.9 391.7 L582.4 391.7 L582.9 391.7 L583.4 391.7 L583.9 391.7 L584.4 391.7 L584.9 391.7 L585.4 391.7 L585.9 391.7 L586.4 391.7 L586.9 391.6 L587.4 391.6 L587.9 391.6 L588.4 391.6 L588.9 391.6 L589.4 391.6 L589.9 391.6 L590.4 391.6 L590.9 391.6 L591.4 391.6 L591.9 391.6 L592.4 391.6 L592.9 391.6 L593.4 391.6 L593.9 391.6 L594.4 391.6 L594.9 391.6 L595.4 391.6 L595.9 391.6 L596.4 391.6 L596.9 391.6 L597.4 391.5 L597.9 391.5 L598.4 391.5 L598.9 391.5 L599.4 391.5 L599.9 391.5 L600.4 391.5 L600.9 391.4 L601.4 391.4 L601.9 391.4 L602.4 391.3 L602.9 391.2 L603.4 391.0 L603.9 390.7 L604.4 390.3 L604.9 389.4 L605.4 388.1 L605.9 386.0 L606.4 383.2 L606.9 379.5 L607.4 375.1 L607.9 370.3 L608.4 365.8 L608.9 362.3 L609.4 360.5 L609.9 360.7 L610.4 362.9 L610.9 366.7 L611.4 371.3 L611.9 376.0 L612.4 380.3 L612.9 383.8 L613.4 386.5 L613.9 388.4 L614.4 389.6 L614.9 390.4 L615.4 390.8 L615.9 391.1 L616.4 391.2 L616.9 391.3 L617.4 391.3 L617.9 391.4 L618.4 391.4 L618.9 391.4 L619.4 391.5 L619.9 391.5 L620.4 391.5 L620.9 391.5 L621.4 391.5 L621.9 391.5 L622.4 391.5 L622.9 391.5 L623.4 391.5 L623.9 391.5 L624.4 391.6 L624.9 391.6 L625.4 391.6 L625.9 391.6 L626.4 391.6 L626.9 391.6 L627.4 391.6 L627.9 391.6 L628.4 391.6 L628.9 391.6 L629.4 391.6 L629.9 391.6 L630.4 391.6 L630.9 391.6 L631.4 391.6 L631.9 391.6 L632.4 391.6 L632.9 391.6 L633.4 391.6 L633.9 391.6 L634.4 391.6 L634.9 391.6 L635.4 391.6 L635.9 391.6 L636.4 391.6 L636.9 391.6 L637.4 391.6 L637.9 391.6 L638.4 391.6 L638.9 391.6 L639.4 391.6 L639.9 391.6 L640.4 391.6 L640.9 391.6 L641.4 391.6 L641.9 391.6 L642.4 391.6 L642.9 391.6 L643.4 391.6 L643.9 391.6 L644.4 391.6 L644.9 391.6 L645.4 391.6 L645.9 391.6 L646.4 391.6 L646.9 391.6 L647.4 391.6 L647.9 391.6 L648.4 391.6 L648.9 391.6 L649.4 391.6 L649.9 391.6 L650.4 391.6 L650.9 391.6 L651.4 391.6 L651.9 391.6 L652.4 391.6 L652.9 391.6 L653.4 391.6 L653.9 391.6 L654.4 391.6 L654.9 391.6 L655.4 391.6 L655.9 391.6 L656.4 391.6 L656.9 391.6 L657.4 391.6 L657.9 391.6 L658.4 391.6" stroke="#000" stroke-width="1.45" fill="none" stroke-linejoin="round"/>
<path d="M43.9 231.0 L44.6 231.3 L45.3 230.8 L46.0 231.2 L46.7 230.9 L47.4 230.9 L48.1 231.4 L48.8 231.0 L49.5 231.0 L50.2 231.2 L50.9 231.2 L51.6 231.0 L52.3 231.1 L53.0 230.8 L53.7 230.7 L54.4 230.2 L55.1 229.3 L55.8 229.3 L56.5 230.0 L57.2 230.8 L57.9 230.9 L58.6 230.9 L59.3 231.0 L60.0 230.7 L60.7 231.0 L61.4 231.0 L62.1 231.1 L62.8 230.7 L63.5 230.5 L64.2 229.5 L64.9 228.8 L65.6 227.7 L66.3 227.8 L67.0 229.0 L67.7 229.3 L68.4 230.7 L69.1 230.9 L69.8 230.9 L70.5 231.1 L71.2 231.1 L71.9 231.2 L72.6 230.9 L73.3 230.9 L74.0 230.9 L74.7 230.8 L75.4 231.0 L76.1 230.8 L76.8 231.2 L77.5 230.6 L78.2 230.7 L78.9 230.6 L79.6 230.0 L80.3 230.5 L81.0 229.1 L81.7 229.5 L82.4 229.7 L83.1 230.7 L83.8 230.3 L84.5 231.1 L85.2 230.8 L85.9 231.0 L86.6 230.9 L87.3 231.1 L88.0 230.7 L88.7 231.0 L89.4 231.1 L90.1 231.4 L90.8 230.5 L91.5 231.3 L92.2 231.2 L92.9 230.9 L93.6 231.1 L94.3 230.9 L95.0 231.4 L95.7 231.0 L96.4 231.0 L97.1 230.9 L97.8 231.0 L98.5 231.0 L99.2 230.8 L99.9 231.5 L100.6 230.6 L101.3 230.2 L102.0 231.0 L102.7 231.0 L103.4 231.1 L104.1 231.0 L104.8 231.0 L105.5 231.1 L106.2 231.2 L106.9 230.7 L107.6 230.3 L108.3 230.1 L109.0 229.7 L109.7 230.0 L110.4 231.3 L111.1 231.1 L111.8 230.9 L112.5 230.7 L113.2 231.1 L113.9 230.8 L114.6 230.8 L115.3 230.7 L116.0 230.9 L116.7 231.2 L117.4 230.9 L118.1 230.7 L118.8 231.0 L119.5 230.6 L120.2 230.3 L120.9 230.3 L121.6 230.5 L122.3 230.8 L123.0 231.0 L123.7 230.7 L124.4 231.1 L125.1 231.3 L125.8 231.0 L126.5 230.9 L127.2 230.9 L127.9 230.8 L128.6 230.8 L129.3 230.9 L130.0 230.8 L130.7 230.9 L131.4 230.7 L132.1 231.1 L132.8 231.0 L133.5 230.7 L134.2 230.5 L134.9 231.0 L135.6 231.2 L136.3 230.8 L137.0 230.9 L137.7 230.9 L138.4 231.1 L139.1 230.8 L139.8 231.2 L140.5 230.9 L141.2 231.2 L141.9 231.0 L142.6 230.9 L143.3 230.7 L144.0 230.8 L144.7 230.9 L145.4 231.1 L146.1 231.1 L146.8 230.8 L147.5 231.1 L148.2 231.2 L148.9 231.0 L149.6 230.9 L150.3 230.9 L151.0 231.2 L151.7 231.1 L152.4 230.8 L153.1 231.0 L153.8 230.6 L154.5 230.1 L155.2 230.0 L155.9 229.7 L156.6 229.5 L157.3 230.1 L158.0 230.7 L158.7 230.7 L159.4 230.9 L160.1 231.1 L160.8 230.6 L161.5 231.1 L162.2 231.2 L162.9 231.1 L163.6 230.7 L164.3 231.1 L165.0 230.8 L165.7 231.1 L166.4 231.1 L167.1 231.0 L167.8 230.8 L168.5 230.9 L169.2 231.2 L169.9 230.8 L170.6 231.1 L171.3 231.1 L172.0 230.9 L172.7 231.5 L173.4 231.0 L174.1 231.5 L174.8 230.6 L175.5 230.5 L176.2 231.2 L176.9 231.1 L177.6 230.8 L178.3 230.5 L179.0 229.0 L179.7 228.4 L180.4 228.8 L181.1 230.3 L181.8 231.6 L182.5 232.3 L183.2 232.5 L183.9 231.7 L184.6 231.2 L185.3 231.1 L186.0 230.9 L186.7 231.3 L187.4 230.8 L188.1 231.4 L188.8 230.8 L189.5 231.2 L190.2 230.8 L190.9 231.4 L191.6 231.0 L192.3 231.1 L193.0 231.1 L193.7 230.8 L194.4 230.5 L195.1 230.0 L195.8 230.4 L196.5 229.8 L197.2 230.0 L197.9 230.5 L198.6 231.2 L199.3 230.4 L200.0 230.7 L200.7 230.1 L201.4 229.8 L202.1 229.1 L202.8 229.6 L203.5 230.4 L204.2 231.0 L204.9 231.2 L205.6 230.8 L206.3 231.0 L207.0 231.0 L207.7 230.7 L208.4 230.7 L209.1 231.2 L209.8 231.1 L210.5 231.0 L211.2 231.3 L211.9 230.8 L212.6 231.1 L213.3 231.0 L214.0 231.0 L214.7 231.1 L215.4 231.0 L216.1 231.1 L216.8 231.1 L217.5 231.4 L218.2 230.9 L218.9 231.2 L219.6 231.1 L220.3 230.9 L221.0 231.2 L221.7 230.8 L222.4 231.3 L223.1 230.8 L223.8 230.9 L224.5 231.1 L225.2 231.2 L225.9 231.2 L226.6 231.2 L227.3 231.0 L228.0 230.8 L228.7 231.1 L229.4 231.1 L230.1 230.8 L230.8 231.2 L231.5 231.0 L232.2 230.8 L232.9 231.1 L233.6 230.7 L234.3 230.8 L235.0 231.1 L235.7 230.7 L236.4 231.0 L237.1 230.7 L237.8 231.2 L238.5 230.8 L239.2 231.0 L239.9 230.7 L240.6 230.9 L241.3 231.2 L242.0 231.1 L242.7 230.6 L243.4 231.2 L244.1 231.2 L244.8 230.9 L245.5 231.2 L246.2 230.3 L246.9 229.8 L247.6 229.8 L248.3 230.4 L249.0 231.2 L249.7 231.7 L250.4 232.5 L251.1 232.9 L251.8 231.5 L252.5 231.2 L253.2 230.7 L253.9 231.2 L254.6 231.2 L255.3 231.1 L256.0 231.0 L256.7 231.0 L257.4 230.9 L258.1 231.1 L258.8 231.1 L259.5 231.1 L260.2 230.9 L260.9 231.4 L261.6 231.1 L262.3 231.3 L263.0 231.3 L263.7 230.8 L264.4 230.6 L265.1 231.3 L265.8 230.9 L266.5 231.0 L267.2 230.9 L267.9 231.0 L268.6 230.7 L269.3 231.0 L270.0 230.9 L270.7 231.0 L271.4 230.6 L272.1 231.8 L272.8 232.4 L273.5 232.0 L274.2 231.6 L274.9 231.3 L275.6 231.6 L276.3 233.0 L277.0 235.9 L277.7 236.3 L278.4 233.8 L279.1 231.4 L279.8 230.2 L280.5 229.4 L281.2 230.1 L281.9 230.8 L282.6 231.1 L283.3 231.2 L284.0 231.0 L284.7 231.0 L285.4 230.9 L286.1 230.9 L286.8 230.7 L287.5 230.9 L288.2 230.8 L288.9 230.7 L289.6 231.0 L290.3 231.1 L291.0 230.9 L291.7 231.3 L292.4 231.2 L293.1 231.2 L293.8 230.9 L294.5 230.7 L295.2 231.1 L295.9 231.1 L296.6 231.2 L297.3 231.1 L298.0 231.3 L298.7 230.9 L299.4 231.1 L300.1 230.8 L300.8 230.5 L301.5 230.9 L302.2 231.3 L302.9 230.6 L303.6 231.2 L304.3 230.9 L305.0 230.9 L305.7 231.0 L306.4 231.0 L307.1 230.8 L307.8 231.0 L308.5 231.0 L309.2 230.8 L309.9 230.1 L310.6 230.4 L311.3 230.4 L312.0 230.8 L312.7 230.3 L313.4 230.9 L314.1 230.5 L314.8 231.1 L315.5 231.1 L316.2 230.7 L316.9 230.7 L317.6 231.1 L318.3 231.4 L319.0 231.8 L319.7 233.0 L320.4 233.4 L321.1 233.5 L321.8 232.6 L322.5 231.6 L323.2 231.5 L323.9 230.8 L324.6 230.5 L325.3 231.1 L326.0 230.9 L326.7 231.1 L327.4 231.2 L328.1 231.1 L328.8 231.3 L329.5 231.3 L330.2 230.6 L330.9 231.0 L331.6 231.4 L332.3 230.9 L333.0 231.2 L333.7 231.0 L334.4 230.9 L335.1 231.3 L335.8 231.2 L336.5 230.9 L337.2 231.2 L337.9 230.7 L338.6 230.8 L339.3 231.2 L340.0 231.0 L340.7 230.8 L341.4 231.1 L342.1 231.1 L342.8 231.3 L343.5 231.2 L344.2 230.9 L344.9 230.9 L345.6 231.0 L346.3 230.9 L347.0 231.3 L347.7 231.3 L348.4 231.3 L349.1 231.0 L349.8 230.8 L350.5 230.8 L351.2 230.1 L351.9 229.8 L352.6 229.1 L353.3 229.6 L354.0 230.5 L354.7 230.4 L355.4 230.5 L356.1 230.9 L356.8 231.4 L357.5 231.3 L358.2 230.9 L358.9 230.9 L359.6 231.0 L360.3 230.8 L361.0 231.0 L361.7 230.9 L362.4 230.7 L363.1 230.9 L363.8 230.9 L364.5 230.8 L365.2 230.8 L365.9 231.2 L366.6 231.4 L367.3 230.9 L368.0 230.9 L368.7 231.1 L369.4 230.9 L370.1 230.8 L370.8 231.3 L371.5 230.8 L372.2 230.8 L372.9 230.9 L373.6 230.8 L374.3 230.9 L375.0 231.1 L375.7 231.3 L376.4 231.1 L377.1 231.0 L377.8 230.7 L378.5 231.0 L379.2 230.8 L379.9 231.0 L380.6 231.2 L381.3 231.0 L382.0 231.0 L382.7 230.8 L383.4 231.0 L384.1 231.1 L384.8 231.0 L385.5 231.4 L386.2 232.4 L386.9 232.8 L387.6 233.8 L388.3 233.6 L389.0 233.4 L389.7 232.2 L390.4 231.6 L391.1 231.2 L391.8 231.1 L392.5 231.1 L393.2 230.7 L393.9 231.1 L394.6 231.1 L395.3 230.7 L396.0 231.2 L396.7 231.1 L397.4 230.7 L398.1 230.9 L398.8 230.9 L399.5 230.9 L400.2 231.1 L400.9 230.7 L401.6 231.0 L402.3 231.0 L403.0 231.2 L403.7 231.0 L404.4 230.9 L405.1 231.2 L405.8 230.6 L406.5 231.2 L407.2 230.9 L407.9 230.7 L408.6 230.9 L409.3 230.6 L410.0 230.6 L410.7 230.9 L411.4 230.8 L412.1 231.2 L412.8 230.8 L413.5 230.7 L414.2 230.8 L414.9 231.4 L415.6 231.0 L416.3 230.9 L417.0 230.8 L417.7 230.8 L418.4 231.0 L419.1 231.1 L419.8 231.3 L420.5 231.3 L421.2 231.1 L421.9 230.9 L422.6 230.8 L423.3 230.5 L424.0 230.8 L424.7 231.1 L425.4 230.9 L426.1 231.1 L426.8 230.7 L427.5 231.2 L428.2 231.1 L428.9 231.0 L429.6 231.1 L430.3 230.5 L431.0 230.9 L431.7 230.8 L432.4 231.4 L433.1 231.0 L433.8 230.9 L434.5 231.2 L435.2 230.8 L435.9 231.3 L436.6 230.8 L437.3 231.0 L438.0 230.8 L438.7 231.2 L439.4 230.5 L440.1 231.2 L440.8 230.8 L441.5 231.0 L442.2 230.7 L442.9 231.1 L443.6 231.0 L444.3 231.1 L445.0 231.1 L445.7 231.1 L446.4 231.2 L447.1 230.9 L447.8 230.6 L448.5 230.3 L449.2 229.6 L449.9 227.3 L450.6 225.1 L451.3 223.7 L452.0 224.6 L452.7 227.5 L453.4 229.9 L454.1 230.5 L454.8 230.7 L455.5 230.8 L456.2 231.2 L456.9 230.9 L457.6 230.9 L458.3 231.2 L459.0 231.0 L459.7 231.0 L460.4 230.9 L461.1 230.9 L461.8 231.0 L462.5 231.0 L463.2 231.1 L463.9 230.9 L464.6 231.1 L465.3 231.1 L466.0 231.0 L466.7 231.1 L467.4 231.2 L468.1 231.0 L468.8 231.0 L469.5 230.8 L470.2 231.1 L470.9 231.0 L471.6 230.9 L472.3 230.8 L473.0 231.1 L473.7 231.6 L474.4 231.1 L475.1 231.0 L475.8 231.1 L476.5 230.9 L477.2 231.0 L477.9 230.9 L478.6 230.9 L479.3 231.1 L480.0 231.1 L480.7 231.0 L481.4 230.8 L482.1 231.1 L482.8 230.8 L483.5 231.2 L484.2 230.9 L484.9 231.0 L485.4 231.0 L487.0 239.0 L489.0 248.6 L491.0 244.0 L493.1 241.0 L495.0 234.0 L496.1 229.4 L499.9 229.2 L500.8 231.0 L501.0 231.2 L501.7 231.1 L502.4 230.7 L503.1 230.9 L503.8 231.1 L504.5 230.8 L505.2 230.5 L505.9 231.0 L506.6 231.0 L507.3 231.1 L508.0 231.0 L508.7 231.0 L509.4 231.1 L510.1 231.3 L510.8 231.1 L511.5 231.1 L512.2 230.9 L512.9 231.2 L513.6 231.0 L514.3 231.2 L515.0 230.5 L515.7 231.1 L516.4 231.0 L517.1 230.9 L517.8 231.3 L518.5 231.1 L519.2 231.0 L519.9 230.9 L520.6 231.4 L521.3 231.2 L522.0 231.1 L522.7 230.8 L523.4 231.2 L524.1 230.9 L524.8 230.5 L525.5 230.2 L526.2 229.5 L526.9 229.7 L527.6 229.3 L528.3 229.8 L529.0 229.9 L529.7 230.2 L530.4 230.7 L531.1 230.9 L531.8 230.7 L532.5 231.0 L533.2 231.1 L533.9 230.9 L534.6 230.7 L535.3 230.9 L536.0 230.8 L536.7 230.9 L537.4 231.0 L538.1 231.0 L538.8 231.0 L539.5 230.6 L540.2 231.1 L540.9 231.0 L541.6 230.9 L542.3 231.0 L543.0 231.4 L543.7 230.7 L544.4 230.6 L545.1 231.2 L545.8 230.8 L546.5 231.3 L547.2 230.8 L547.9 230.9 L548.6 231.2 L549.3 231.2 L550.0 231.1 L550.7 231.1 L551.4 231.0 L552.1 230.9 L552.8 231.0 L553.5 231.3 L554.2 231.2 L554.9 231.0 L555.6 231.1 L556.3 231.2 L557.0 231.3 L557.7 231.0 L558.4 231.0 L559.1 231.1 L559.8 231.6 L560.5 231.1 L561.2 231.3 L561.9 230.7 L562.6 231.2 L563.3 230.7 L564.0 230.8 L564.7 230.9 L565.4 231.0 L566.1 231.0 L566.8 231.1 L567.5 231.0 L568.2 230.9 L568.9 231.6 L569.6 231.1 L570.3 231.1 L571.0 231.4 L571.7 231.2 L572.4 231.1 L573.1 231.1 L573.8 231.4 L574.5 230.8 L575.2 230.8 L575.9 231.0 L576.6 230.6 L577.3 230.8 L578.0 231.2 L578.7 230.9 L579.4 231.0 L580.1 231.2 L580.8 230.7 L581.5 231.1 L582.2 230.9 L582.9 230.8 L583.6 230.9 L584.3 231.0 L585.0 230.9 L585.7 230.9 L586.4 231.2 L587.1 231.3 L587.8 231.1 L588.5 231.0 L589.2 230.8 L589.9 230.8 L590.6 230.8 L591.3 231.0 L592.0 231.2 L592.7 231.2 L593.4 231.0 L594.1 230.9 L594.8 231.0 L595.5 231.0 L596.2 231.1 L596.9 231.3 L597.6 230.9 L598.3 231.5 L599.0 230.5 L599.7 230.6 L600.4 230.6 L601.1 230.6 L601.8 230.0 L602.5 228.3 L603.2 224.4 L603.9 222.8 L604.6 223.7 L605.3 227.0 L606.0 229.3 L606.7 231.2 L607.4 231.0 L608.1 231.2 L608.8 232.3 L609.5 232.0 L610.2 231.7 L610.9 231.1 L611.6 230.8 L612.3 230.7 L613.0 231.0 L613.7 231.3 L614.4 231.0 L615.1 230.7 L615.8 230.5 L616.5 229.8 L617.2 230.7 L617.9 230.9 L618.6 231.2 L619.3 232.2 L620.0 232.9 L620.7 233.4 L621.4 233.4 L622.1 232.9 L622.8 232.2 L623.5 231.2 L624.2 230.5 L624.9 231.5 L625.6 230.9 L626.3 230.9 L627.0 231.1 L627.7 230.9 L628.4 231.2 L629.1 230.7 L629.8 231.0 L630.5 230.7 L631.2 231.3 L631.9 230.9 L632.6 231.2 L633.3 231.3 L634.0 230.7 L634.7 231.0 L635.4 231.2 L636.1 231.0 L636.8 231.0 L637.5 231.1 L638.2 231.0 L638.9 230.4 L639.6 229.7 L640.3 228.9 L641.0 228.1 L641.7 228.2 L642.4 228.7 L643.1 230.3 L643.8 230.5 L644.5 230.9 L645.2 231.0 L645.9 231.0 L646.6 231.0 L647.3 230.8 L648.0 231.1 L648.7 231.3 L649.4 231.1 L650.1 231.2 L650.8 231.1 L651.5 231.0 L652.2 231.4 L652.9 230.9 L653.6 231.1 L654.3 231.2 L655.0 231.1 L655.7 230.8 L656.4 230.8 L657.1 231.3 L657.8 230.8 L658.5 231.0" stroke="#56b4e9" stroke-width="1.3" fill="none"/>
<path d="M43.9 415.9 L44.6 416.0 L45.3 415.8 L46.0 416.0 L46.7 416.1 L47.4 416.0 L48.1 416.2 L48.8 415.7 L49.5 415.9 L50.2 415.7 L50.9 415.7 L51.6 415.9 L52.3 415.9 L53.0 416.0 L53.7 416.0 L54.4 416.4 L55.1 416.1 L55.8 415.5 L56.5 415.7 L57.2 415.2 L57.9 415.1 L58.6 415.7 L59.3 415.7 L60.0 415.4 L60.7 416.0 L61.4 415.8 L62.1 415.6 L62.8 415.7 L63.5 415.8 L64.2 415.9 L64.9 415.8 L65.6 415.9 L66.3 416.3 L67.0 415.7 L67.7 415.7 L68.4 415.8 L69.1 416.1 L69.8 415.7 L70.5 416.2 L71.2 415.6 L71.9 415.7 L72.6 415.9 L73.3 415.7 L74.0 415.8 L74.7 416.0 L75.4 416.1 L76.1 415.9 L76.8 415.8 L77.5 416.2 L78.2 416.0 L78.9 415.8 L79.6 416.2 L80.3 415.7 L81.0 415.9 L81.7 416.0 L82.4 415.9 L83.1 415.8 L83.8 416.0 L84.5 416.1 L85.2 416.6 L85.9 416.9 L86.6 417.0 L87.3 416.1 L88.0 416.2 L88.7 416.0 L89.4 415.8 L90.1 416.0 L90.8 416.0 L91.5 415.9 L92.2 415.6 L92.9 415.9 L93.6 416.1 L94.3 416.0 L95.0 416.1 L95.7 416.2 L96.4 416.0 L97.1 416.3 L97.8 415.6 L98.5 415.8 L99.2 415.3 L99.9 416.1 L100.6 415.9 L101.3 416.3 L102.0 415.8 L102.7 415.5 L103.4 416.2 L104.1 415.6 L104.8 415.6 L105.5 415.9 L106.2 416.0 L106.9 415.8 L107.6 415.9 L108.3 415.5 L109.0 416.3 L109.7 415.9 L110.4 415.9 L111.1 416.0 L111.8 415.9 L112.5 415.9 L113.2 415.7 L113.9 415.9 L114.6 416.0 L115.3 416.1 L116.0 415.9 L116.7 415.9 L117.4 416.0 L118.1 416.0 L118.8 415.9 L119.5 415.8 L120.2 415.8 L120.9 416.1 L121.6 416.0 L122.3 415.9 L123.0 416.7 L123.7 416.4 L124.4 417.1 L125.1 417.4 L125.8 416.8 L126.5 416.6 L127.2 416.0 L127.9 415.9 L128.6 416.1 L129.3 416.1 L130.0 416.0 L130.7 415.9 L131.4 416.4 L132.1 416.0 L132.8 415.7 L133.5 416.1 L134.2 415.9 L134.9 415.9 L135.6 416.1 L136.3 416.0 L137.0 416.3 L137.7 415.9 L138.4 416.0 L139.1 416.2 L139.8 415.8 L140.5 416.1 L141.2 415.9 L141.9 416.2 L142.6 415.7 L143.3 416.0 L144.0 415.5 L144.7 415.8 L145.4 415.9 L146.1 416.0 L146.8 416.3 L147.5 416.3 L148.2 415.6 L148.9 415.7 L149.6 416.2 L150.3 416.0 L151.0 415.6 L151.7 416.0 L152.4 415.7 L153.1 415.7 L153.8 415.6 L154.5 415.8 L155.2 416.4 L155.9 416.0 L156.6 415.9 L157.3 416.5 L158.0 415.8 L158.7 415.9 L159.4 415.8 L160.1 416.0 L160.8 415.8 L161.5 416.2 L162.2 415.8 L162.9 416.0 L163.6 415.9 L164.3 415.7 L165.0 415.7 L165.7 415.9 L166.4 415.4 L167.1 415.9 L167.8 415.9 L168.5 415.9 L169.2 415.9 L169.9 416.0 L170.6 415.8 L171.3 416.0 L172.0 415.5 L172.7 416.1 L173.4 415.7 L174.1 416.0 L174.8 415.8 L175.5 415.8 L176.2 415.7 L176.9 416.2 L177.6 415.7 L178.3 415.6 L179.0 415.9 L179.7 416.0 L180.4 415.9 L181.1 415.4 L181.8 414.3 L182.5 413.9 L183.2 414.9 L183.9 416.9 L184.6 417.5 L185.3 416.6 L186.0 415.7 L186.7 416.3 L187.4 415.9 L188.1 415.9 L188.8 415.8 L189.5 415.7 L190.2 415.8 L190.9 415.9 L191.6 415.7 L192.3 415.9 L193.0 416.2 L193.7 416.0 L194.4 415.9 L195.1 416.1 L195.8 416.1 L196.5 416.1 L197.2 415.7 L197.9 415.5 L198.6 416.1 L199.3 416.0 L200.0 416.3 L200.7 417.3 L201.4 417.6 L202.1 417.0 L202.8 416.8 L203.5 415.6 L204.2 416.1 L204.9 416.1 L205.6 416.3 L206.3 416.0 L207.0 416.0 L207.7 415.7 L208.4 415.9 L209.1 415.4 L209.8 415.8 L210.5 415.9 L211.2 415.9 L211.9 415.8 L212.6 416.2 L213.3 415.6 L214.0 415.9 L214.7 415.8 L215.4 415.9 L216.1 415.9 L216.8 416.3 L217.5 415.7 L218.2 416.2 L218.9 416.2 L219.6 415.9 L220.3 415.8 L221.0 415.6 L221.7 415.7 L222.4 416.3 L223.1 415.4 L223.8 416.0 L224.5 415.7 L225.2 416.3 L225.9 416.0 L226.6 415.6 L227.3 415.8 L228.0 415.9 L228.7 415.9 L229.4 415.7 L230.1 415.8 L230.8 415.8 L231.5 416.0 L232.2 416.0 L232.9 415.9 L233.6 415.8 L234.3 416.1 L235.0 415.8 L235.7 415.7 L236.4 415.8 L237.1 415.8 L237.8 415.8 L238.5 415.5 L239.2 416.2 L239.9 416.0 L240.6 416.2 L241.3 415.8 L242.0 416.1 L242.7 415.9 L243.4 415.9 L244.1 416.3 L244.8 415.8 L245.5 416.0 L246.2 415.5 L246.9 416.0 L247.6 415.9 L248.3 415.7 L249.0 415.8 L249.7 415.4 L250.4 415.7 L251.1 415.9 L251.8 415.3 L252.5 416.1 L253.2 416.1 L253.9 415.7 L254.6 415.6 L255.3 415.6 L256.0 415.6 L256.7 415.7 L257.4 416.4 L258.1 415.7 L258.8 416.1 L259.5 416.2 L260.2 415.7 L260.9 415.8 L261.6 416.0 L262.3 415.8 L263.0 416.2 L263.7 416.4 L264.4 415.9 L265.1 415.7 L265.8 415.9 L266.5 415.7 L267.2 415.2 L267.9 414.9 L268.6 414.5 L269.3 414.2 L270.0 414.2 L270.7 414.0 L271.4 414.2 L272.1 414.6 L272.8 415.8 L273.5 415.6 L274.2 415.7 L274.9 416.4 L275.6 416.1 L276.3 416.4 L277.0 415.8 L277.7 415.1 L278.4 412.1 L279.1 411.1 L279.8 414.6 L280.5 417.7 L281.2 419.4 L281.9 417.4 L282.6 415.8 L283.3 416.0 L284.0 416.0 L284.7 415.7 L285.4 416.4 L286.1 416.1 L286.8 416.2 L287.5 415.8 L288.2 415.6 L288.9 416.1 L289.6 415.9 L290.3 415.8 L291.0 415.9 L291.7 415.9 L292.4 415.9 L293.1 415.9 L293.8 416.0 L294.5 416.5 L295.2 416.2 L295.9 415.8 L296.6 416.3 L297.3 415.8 L298.0 415.6 L298.7 415.6 L299.4 415.5 L300.1 416.2 L300.8 415.7 L301.5 415.6 L302.2 415.8 L302.9 415.9 L303.6 415.6 L304.3 415.8 L305.0 415.9 L305.7 416.0 L306.4 415.7 L307.1 416.0 L307.8 416.0 L308.5 416.0 L309.2 415.8 L309.9 415.6 L310.6 416.1 L311.3 416.0 L312.0 415.8 L312.7 415.7 L313.4 416.1 L314.1 416.3 L314.8 416.0 L315.5 416.5 L316.2 416.0 L316.9 416.0 L317.6 416.0 L318.3 416.1 L319.0 415.6 L319.7 415.9 L320.4 416.2 L321.1 415.6 L321.8 416.0 L322.5 416.1 L323.2 416.3 L323.9 416.2 L324.6 415.9 L325.3 416.4 L326.0 415.7 L326.7 415.6 L327.4 416.2 L328.1 416.0 L328.8 415.6 L329.5 416.1 L330.2 416.1 L330.9 416.1 L331.6 415.8 L332.3 415.6 L333.0 415.5 L333.7 415.9 L334.4 415.9 L335.1 415.8 L335.8 415.8 L336.5 416.1 L337.2 415.6 L337.9 415.7 L338.6 416.3 L339.3 415.8 L340.0 415.8 L340.7 416.1 L341.4 415.5 L342.1 416.3 L342.8 415.6 L343.5 415.7 L344.2 415.6 L344.9 415.7 L345.6 415.7 L346.3 416.1 L347.0 415.9 L347.7 416.2 L348.4 416.1 L349.1 415.6 L349.8 415.9 L350.5 415.8 L351.2 415.8 L351.9 415.9 L352.6 416.0 L353.3 416.0 L354.0 415.4 L354.7 415.9 L355.4 415.8 L356.1 416.3 L356.8 415.8 L357.5 415.9 L358.2 415.9 L358.9 416.1 L359.6 415.6 L360.3 415.9 L361.0 415.9 L361.7 415.9 L362.4 415.8 L363.1 415.8 L363.8 415.9 L364.5 415.6 L365.2 416.3 L365.9 415.9 L366.6 415.5 L367.3 415.8 L368.0 416.1 L368.7 415.9 L369.4 415.9 L370.1 415.4 L370.8 416.2 L371.5 415.9 L372.2 415.5 L372.9 415.8 L373.6 416.2 L374.3 416.0 L375.0 415.6 L375.7 415.8 L376.4 416.0 L377.1 416.4 L377.8 416.0 L378.5 416.1 L379.2 415.8 L379.9 415.9 L380.6 415.7 L381.3 415.6 L382.0 415.6 L382.7 415.8 L383.4 416.2 L384.1 415.9 L384.8 416.2 L385.5 416.1 L386.2 415.9 L386.9 415.8 L387.6 416.4 L388.3 416.1 L389.0 416.2 L389.7 416.5 L390.4 416.2 L391.1 415.9 L391.8 416.0 L392.5 416.0 L393.2 416.4 L393.9 415.7 L394.6 415.5 L395.3 415.8 L396.0 415.9 L396.7 415.8 L397.4 416.1 L398.1 416.0 L398.8 415.9 L399.5 415.9 L400.2 416.3 L400.9 416.3 L401.6 416.3 L402.3 415.8 L403.0 416.2 L403.7 415.6 L404.4 415.5 L405.1 416.3 L405.8 416.1 L406.5 416.1 L407.2 416.2 L407.9 416.3 L408.6 416.0 L409.3 416.0 L410.0 416.0 L410.7 416.1 L411.4 415.9 L412.1 415.6 L412.8 416.5 L413.5 415.7 L414.2 415.8 L414.9 416.0 L415.6 415.9 L416.3 416.0 L417.0 416.4 L417.7 416.2 L418.4 415.8 L419.1 416.0 L419.8 415.9 L420.5 416.2 L421.2 415.7 L421.9 415.7 L422.6 415.5 L423.3 416.0 L424.0 416.0 L424.7 416.1 L425.4 416.1 L426.1 415.6 L426.8 415.8 L427.5 415.7 L428.2 416.2 L428.9 416.1 L429.6 415.6 L430.3 416.0 L431.0 415.9 L431.7 415.9 L432.4 416.1 L433.1 415.8 L433.8 415.8 L434.5 415.8 L435.2 415.8 L435.9 415.7 L436.6 416.2 L437.3 416.0 L438.0 415.9 L438.7 415.5 L439.4 416.4 L440.1 415.9 L440.8 416.0 L441.5 416.0 L442.2 416.3 L442.9 415.8 L443.6 415.4 L444.3 415.8 L445.0 415.9 L445.7 415.8 L446.4 416.2 L447.1 415.8 L447.8 416.0 L448.5 415.7 L449.2 416.1 L449.9 415.8 L450.6 416.1 L451.3 415.9 L452.0 415.9 L452.7 416.0 L453.4 415.6 L454.1 415.8 L454.8 416.0 L455.5 415.8 L456.2 416.2 L456.9 416.1 L457.6 415.7 L458.3 416.2 L459.0 415.9 L459.7 416.0 L460.4 416.2 L461.1 415.7 L461.8 415.7 L462.5 415.9 L463.2 415.9 L463.9 415.5 L464.6 416.1 L465.3 415.9 L466.0 415.9 L466.7 416.0 L467.4 416.1 L468.1 415.7 L468.8 416.0 L469.5 415.8 L470.2 415.8 L470.9 415.7 L471.6 416.2 L472.3 415.4 L473.0 415.7 L473.7 416.1 L474.4 415.8 L475.1 415.8 L475.8 416.1 L476.5 415.7 L477.2 415.8 L477.9 416.0 L478.6 415.6 L479.3 415.1 L480.0 414.5 L480.7 414.6 L481.4 414.9 L482.1 415.8 L482.8 415.9 L483.5 415.8 L484.2 415.6 L484.9 416.3 L485.6 416.0 L486.3 416.0 L487.0 415.8 L487.7 416.3 L488.4 415.8 L489.1 415.7 L489.5 415.9 L491.6 413.7 L493.0 415.9 L494.5 421.3 L495.5 415.9 L496.4 406.9 L497.4 415.9 L498.4 419.3 L500.0 417.4 L503.0 416.4 L506.0 415.9 L506.6 415.7 L507.3 415.9 L508.0 416.0 L508.7 415.5 L509.4 416.0 L510.1 416.0 L510.8 416.1 L511.5 415.8 L512.2 416.2 L512.9 416.3 L513.6 415.8 L514.3 415.8 L515.0 416.1 L515.7 416.2 L516.4 415.9 L517.1 416.2 L517.8 415.6 L518.5 416.1 L519.2 416.0 L519.9 416.1 L520.6 416.0 L521.3 416.1 L522.0 415.8 L522.7 416.2 L523.4 415.4 L524.1 416.0 L524.8 415.8 L525.5 416.3 L526.2 415.7 L526.9 415.9 L527.6 415.9 L528.3 416.1 L529.0 415.9 L529.7 415.7 L530.4 415.9 L531.1 416.2 L531.8 416.1 L532.5 415.7 L533.2 415.6 L533.9 415.6 L534.6 415.9 L535.3 415.9 L536.0 415.8 L536.7 415.8 L537.4 415.9 L538.1 416.2 L538.8 416.1 L539.5 415.8 L540.2 416.1 L540.9 415.9 L541.6 416.2 L542.3 416.1 L543.0 416.1 L543.7 416.4 L544.4 416.1 L545.1 416.1 L545.8 416.2 L546.5 415.7 L547.2 415.8 L547.9 415.8 L548.6 416.1 L549.3 415.9 L550.0 415.6 L550.7 415.7 L551.4 415.9 L552.1 415.8 L552.8 415.8 L553.5 415.6 L554.2 415.9 L554.9 415.6 L555.6 415.8 L556.3 415.8 L557.0 415.8 L557.7 416.2 L558.4 415.8 L559.1 415.8 L559.8 415.4 L560.5 415.7 L561.2 416.0 L561.9 415.8 L562.6 416.1 L563.3 415.8 L564.0 416.1 L564.7 416.0 L565.4 416.1 L566.1 415.8 L566.8 416.1 L567.5 415.8 L568.2 415.7 L568.9 416.2 L569.6 415.6 L570.3 415.7 L571.0 416.3 L571.7 415.9 L572.4 416.0 L573.1 416.0 L573.8 415.9 L574.5 416.3 L575.2 415.9 L575.9 416.2 L576.6 415.9 L577.3 415.8 L578.0 415.8 L578.7 415.9 L579.4 416.5 L580.1 415.8 L580.8 416.0 L581.5 415.6 L582.2 416.0 L582.9 415.9 L583.6 416.0 L584.3 415.9 L585.0 415.8 L585.7 415.9 L586.4 415.9 L587.1 416.1 L587.8 415.9 L588.5 415.9 L589.2 415.6 L589.9 416.1 L590.6 415.9 L591.3 415.7 L592.0 416.2 L592.7 416.1 L593.4 415.9 L594.1 415.9 L594.8 415.6 L595.5 415.4 L596.2 415.9 L596.9 415.6 L597.6 416.0 L598.3 415.8 L599.0 416.0 L599.7 415.8 L600.4 416.0 L601.1 416.1 L601.8 415.9 L602.5 416.1 L603.0 415.9 L605.4 415.6 L608.0 413.9 L610.7 410.9 L612.5 414.9 L614.9 417.7 L617.0 417.1 L619.0 417.4 L621.0 415.9 L621.4 416.1 L622.1 415.9 L622.8 415.5 L623.5 416.0 L624.2 415.8 L624.9 415.7 L625.6 415.5 L626.3 415.5 L627.0 416.2 L627.7 416.3 L628.4 416.2 L629.1 416.4 L629.8 415.5 L630.5 416.1 L631.2 415.6 L631.9 415.6 L632.6 416.0 L633.3 416.1 L634.0 415.7 L634.7 415.5 L635.4 415.6 L636.1 415.9 L636.8 416.1 L637.5 416.3 L638.2 416.0 L638.9 415.7 L639.6 415.7 L640.3 415.9 L641.0 416.0 L641.7 415.5 L642.4 416.0 L643.1 415.8 L643.8 416.1 L644.5 415.5 L645.2 416.1 L645.9 416.2 L646.6 416.2 L647.3 416.2 L648.0 415.9 L648.7 415.9 L649.4 415.7 L650.1 415.9 L650.8 415.7 L651.5 416.0 L652.2 416.1 L652.9 415.9 L653.6 416.2 L654.3 415.6 L655.0 415.8 L655.7 416.3 L656.4 415.8 L657.1 416.1 L657.8 415.3 L658.5 416.2" stroke="#56b4e9" stroke-width="1.3" fill="none"/>
<path d="M43.9 194.0V202.6M50.7 194.0V202.6M55.2 194.0V202.6M63.3 194.0V202.6M68.4 194.0V202.6M75.6 194.0V202.6M77.0 194.0V202.6M78.5 194.0V202.6M84.1 194.0V202.6M92.5 194.0V202.6M94.5 194.0V202.6M101.6 194.0V202.6M111.7 194.0V202.6M114.4 194.0V202.6M122.7 194.0V202.6M138.0 194.0V202.6M147.9 194.0V202.6M166.6 194.0V202.6M179.1 194.0V202.6M198.0 194.0V202.6M203.4 194.0V202.6M219.9 194.0V202.6M245.1 194.0V202.6M251.9 194.0V202.6M274.4 194.0V202.6M320.6 194.0V202.6M354.9 194.0V202.6M429.3 194.0V202.6M489.6 194.0V202.6M603.1 194.0V202.6M640.7 194.0V202.6" stroke="#56b4e9" stroke-width="1.45" fill="none"/>
<path d="M44.3 213.7V221.8M46.6 213.7V221.8M46.9 213.7V221.8M49.7 213.7V221.8M50.1 213.7V221.8M51.6 213.7V221.8M51.6 213.7V221.8M53.3 213.7V221.8M59.7 213.7V221.8M60.5 213.7V221.8M61.9 213.7V221.8M62.3 213.7V221.8M63.7 213.7V221.8M63.9 213.7V221.8M64.5 213.7V221.8M65.5 213.7V221.8M66.1 213.7V221.8M66.3 213.7V221.8M67.6 213.7V221.8M72.0 213.7V221.8M75.9 213.7V221.8M77.9 213.7V221.8M79.6 213.7V221.8M80.0 213.7V221.8M80.2 213.7V221.8M80.6 213.7V221.8M80.8 213.7V221.8M82.3 213.7V221.8M83.6 213.7V221.8M85.0 213.7V221.8M87.2 213.7V221.8M89.7 213.7V221.8M89.9 213.7V221.8M93.6 213.7V221.8M94.7 213.7V221.8M96.7 213.7V221.8M97.3 213.7V221.8M100.3 213.7V221.8M107.1 213.7V221.8M108.3 213.7V221.8M113.9 213.7V221.8M114.6 213.7V221.8M116.1 213.7V221.8M116.9 213.7V221.8M116.9 213.7V221.8M124.1 213.7V221.8M126.1 213.7V221.8M126.3 213.7V221.8M130.0 213.7V221.8M136.7 213.7V221.8M139.3 213.7V221.8M147.8 213.7V221.8M151.7 213.7V221.8M151.8 213.7V221.8M154.4 213.7V221.8M155.8 213.7V221.8M156.1 213.7V221.8M164.0 213.7V221.8M178.3 213.7V221.8M183.2 213.7V221.8M186.9 213.7V221.8M188.4 213.7V221.8M188.8 213.7V221.8M193.2 213.7V221.8M203.0 213.7V221.8M204.5 213.7V221.8M205.4 213.7V221.8M218.7 213.7V221.8M223.5 213.7V221.8M228.7 213.7V221.8M242.3 213.7V221.8M245.4 213.7V221.8M247.4 213.7V221.8M253.3 213.7V221.8M278.2 213.7V221.8M280.5 213.7V221.8M285.0 213.7V221.8M308.0 213.7V221.8M309.2 213.7V221.8M311.7 213.7V221.8M368.7 213.7V221.8M387.9 213.7V221.8M405.2 213.7V221.8M418.5 213.7V221.8M423.3 213.7V221.8M547.5 213.7V221.8M572.0 213.7V221.8M610.4 213.7V221.8M620.8 213.7V221.8" stroke="#009e73" stroke-width="1.45" fill="none"/>
<path d="M57.3 396.0V404.8M86.2 396.0V404.8M95.1 396.0V404.8M124.9 396.0V404.8M182.4 396.0V404.8M201.4 396.0V404.8M278.1 396.0V404.8M494.8 396.0V404.8M609.1 396.0V404.8" stroke="#000" stroke-width="1.45" fill="none"/>
<path d="M68.9 404.8V414.4M77.0 404.8V414.4M105.6 404.8V414.4M159.9 404.8V414.4M178.0 404.8V414.4M251.0 404.8V414.4M455.6 404.8V414.4M564.3 404.8V414.4" stroke="#e69f00" stroke-width="1.45" fill="none"/>
<rect x="57.5" y="17.5" width="118" height="155.5" fill="#fff" stroke="#8a8a8a" stroke-width="1"/>
<path d="M75.0 26.1l5.6 5.6m0 -5.6l-5.6 5.6" stroke="#ff0000" stroke-width="1.15" opacity="0.8" fill="none"/>
<path d="M59.3 48.4H95.6" stroke="#000" stroke-width="2" fill="none"/>
<path d="M59.3 68.7H95.6" stroke="#56b4e9" stroke-width="1.5" fill="none"/>
<path d="M77.5 86.5V94.3" stroke="#56b4e9" stroke-width="1.45" fill="none"/>
<path d="M77.5 109.9V117.7" stroke="#009e73" stroke-width="1.45" fill="none"/>
<path d="M77.5 136.0V143.6" stroke="#000" stroke-width="1.45" fill="none"/>
<path d="M77.5 158.5V167.0" stroke="#e69f00" stroke-width="1.45" fill="none"/>
<text x="100.00" y="34.30" style="font-family:'Liberation Sans',Arial,sans-serif;font-size:16.10px;letter-spacing:0.100px">Measured</text>
<text x="100.00" y="53.90" style="font-family:'Liberation Sans',Arial,sans-serif;font-size:16.10px;letter-spacing:0.100px">Fit</text>
<text x="100.00" y="73.40" style="font-family:'Liberation Sans',Arial,sans-serif;font-size:16.10px;letter-spacing:0.089px">Difference</text>
<text x="100.00" y="95.60" style="font-family:'Liberation Sans',Arial,sans-serif;font-size:16.10px;letter-spacing:0.133px"><tspan style="font-family:'Liberation Serif',serif">β</tspan>–Ca<tspan dy="4.5" style="font-size:11px">2</tspan><tspan dy="-4.5">ND</tspan></text>
<text x="100.00" y="119.40" style="font-family:'Liberation Sans',Arial,sans-serif;font-size:16.10px;letter-spacing:0.100px">CaD<tspan dy="4.5" style="font-size:11px">2</tspan></text>
<text x="100.00" y="143.30" style="font-family:'Liberation Sans',Arial,sans-serif;font-size:16.10px;letter-spacing:-0.033px"><tspan style="font-family:'Liberation Serif',serif">α</tspan>–Ca<tspan dy="4.5" style="font-size:11px">2</tspan><tspan dy="-4.5">ND</tspan></text>
<text x="100.00" y="167.10" style="font-family:'Liberation Sans',Arial,sans-serif;font-size:16.10px;letter-spacing:0.100px">CaO</text>
<path d="M42.9 34.6V437.4H659.7V34.6" stroke="#000" stroke-width="2" fill="none" stroke-linecap="square"/>
<path d="M186.4 437.4v-6.5M329.8 437.4v-6.5M473.3 437.4v-6.5M616.8 437.4v-6.5M114.7 437.4v-3.8M258.1 437.4v-3.8M401.6 437.4v-3.8M545.0 437.4v-3.8" stroke="#000" stroke-width="1.5" fill="none"/>
<text x="37.45" y="461.60" style="font-family:'Liberation Sans',Arial,sans-serif;font-size:20.00px">1</text>
<text x="172.40" y="461.60" style="font-family:'Liberation Sans',Arial,sans-serif;font-size:20.00px">1.5</text>
<text x="324.35" y="461.60" style="font-family:'Liberation Sans',Arial,sans-serif;font-size:20.00px">2</text>
<text x="459.30" y="461.60" style="font-family:'Liberation Sans',Arial,sans-serif;font-size:20.00px">2.5</text>
<text x="611.25" y="461.60" style="font-family:'Liberation Sans',Arial,sans-serif;font-size:20.00px">3</text>
<text x="303.60" y="481.60" style="font-family:'Liberation Sans',Arial,sans-serif;font-size:18.60px;letter-spacing:0.550px">d-spacing (Å)</text>
<text transform="translate(16.90,338.90) rotate(-90)" x="0" y="0" style="font-family:'Liberation Sans',Arial,sans-serif;font-size:22.00px;letter-spacing:0.662px">Intensity (arb. units)</text>
<text x="311.10" y="126.70" style="font-family:'Liberation Sans',Arial,sans-serif;font-size:20.30px;letter-spacing:-0.430px"><tspan style="font-family:'Liberation Serif',serif">β</tspan>–Ca<tspan dy="5.5" style="font-size:13.5px">2</tspan><tspan dy="-5.5">ND Fit</tspan></text>
<text x="310.20" y="350.80" style="font-family:'Liberation Sans',Arial,sans-serif;font-size:20.30px;letter-spacing:-0.180px"><tspan style="font-family:'Liberation Serif',serif">α</tspan>–Ca<tspan dy="5.5" style="font-size:13.5px">2</tspan><tspan dy="-5.5">ND Fit</tspan></text>
<text transform="translate(560.80,117.90) scale(0.900,1)" x="-1.00" y="0" style="font-family:'Liberation Sans',Arial,sans-serif;font-size:15.20px;letter-spacing:-0.162px">super symmetry</text>
<text transform="translate(583.90,134.10) scale(0.900,1)" x="-1.00" y="0" style="font-family:'Liberation Sans',Arial,sans-serif;font-size:15.20px;letter-spacing:-0.296px">peak</text>
<path d="M642.0 170.3V129" stroke="#8c8c8c" stroke-width="1.3" fill="none"/>
<path d="M642.0 121.6l-2.4 9.8h4.8z" fill="#000"/>
<text x="28.90" y="21.10" style="font-family:'Liberation Sans',Arial,sans-serif;font-size:27.00px;font-weight:bold;font-style:italic;letter-spacing:0.500px">a)</text>
<rect x="77.0" y="520.5" width="206.5" height="173.2" fill="none" stroke="#000" stroke-width="1.6"/>
<path d="M82.3 693.7v-4.2M82.3 520.5v4.2M110.2 693.7v-4.2M110.2 520.5v4.2M138.1 693.7v-4.2M138.1 520.5v4.2M166.0 693.7v-4.2M166.0 520.5v4.2M193.8 693.7v-4.2M193.8 520.5v4.2M221.7 693.7v-4.2M221.7 520.5v4.2M249.6 693.7v-4.2M249.6 520.5v4.2M277.5 693.7v-4.2M277.5 520.5v4.2M96.2 693.7v-2.3M96.2 520.5v2.3M124.1 693.7v-2.3M124.1 520.5v2.3M152.0 693.7v-2.3M152.0 520.5v2.3M179.9 693.7v-2.3M179.9 520.5v2.3M207.8 693.7v-2.3M207.8 520.5v2.3M235.7 693.7v-2.3M235.7 520.5v2.3M263.6 693.7v-2.3M263.6 520.5v2.3M77.0 541.9h4.5M77.0 528.4h2.3M77.0 586.7h4.5M77.0 573.2h2.3M77.0 565.3h2.3M77.0 559.7h2.3M77.0 555.4h2.3M77.0 551.8h2.3M77.0 548.8h2.3M77.0 546.2h2.3M77.0 544.0h2.3M77.0 631.6h4.5M77.0 618.1h2.3M77.0 610.2h2.3M77.0 604.6h2.3M77.0 600.2h2.3M77.0 596.7h2.3M77.0 593.7h2.3M77.0 591.1h2.3M77.0 588.8h2.3M77.0 676.4h4.5M77.0 662.9h2.3M77.0 655.0h2.3M77.0 649.4h2.3M77.0 645.1h2.3M77.0 641.5h2.3M77.0 638.5h2.3M77.0 635.9h2.3M77.0 633.6h2.3M283.5 650.4h-4.5M283.5 607.1h-4.5M283.5 563.9h-4.5M283.5 672.0h-2.3M283.5 628.7h-2.3M283.5 585.5h-2.3M283.5 542.2h-2.3" stroke="#000" stroke-width="1.4" fill="none"/>
<text x="78.80" y="708.80" style="font-family:'Liberation Sans',Arial,sans-serif;font-size:12.60px">0</text>
<text x="102.69" y="708.80" style="font-family:'Liberation Sans',Arial,sans-serif;font-size:12.60px">50</text>
<text x="127.07" y="708.80" style="font-family:'Liberation Sans',Arial,sans-serif;font-size:12.60px">100</text>
<text x="154.95" y="708.80" style="font-family:'Liberation Sans',Arial,sans-serif;font-size:12.60px">150</text>
<text x="182.84" y="708.80" style="font-family:'Liberation Sans',Arial,sans-serif;font-size:12.60px">200</text>
<text x="210.72" y="708.80" style="font-family:'Liberation Sans',Arial,sans-serif;font-size:12.60px">250</text>
<text x="238.61" y="708.80" style="font-family:'Liberation Sans',Arial,sans-serif;font-size:12.60px">300</text>
<text x="266.50" y="708.80" style="font-family:'Liberation Sans',Arial,sans-serif;font-size:12.60px">350</text>
<text x="50.50" y="546.10" style="font-family:'Liberation Sans',Arial,sans-serif;font-size:12.60px;letter-spacing:-0.233px">10<tspan dy="-5.3" style="font-size:8.6px">-1</tspan></text>
<text x="50.50" y="590.93" style="font-family:'Liberation Sans',Arial,sans-serif;font-size:12.60px;letter-spacing:-0.233px">10<tspan dy="-5.3" style="font-size:8.6px">-2</tspan></text>
<text x="50.50" y="635.76" style="font-family:'Liberation Sans',Arial,sans-serif;font-size:12.60px;letter-spacing:-0.233px">10<tspan dy="-5.3" style="font-size:8.6px">-3</tspan></text>
<text x="50.50" y="680.59" style="font-family:'Liberation Sans',Arial,sans-serif;font-size:12.60px;letter-spacing:-0.233px">10<tspan dy="-5.3" style="font-size:8.6px">-4</tspan></text>
<text x="288.80" y="697.90" style="font-family:'Liberation Sans',Arial,sans-serif;font-size:12.60px">0</text>
<text x="288.80" y="654.65" style="font-family:'Liberation Sans',Arial,sans-serif;font-size:12.60px">0.25</text>
<text x="288.80" y="611.40" style="font-family:'Liberation Sans',Arial,sans-serif;font-size:12.60px">0.5</text>
<text x="288.80" y="568.15" style="font-family:'Liberation Sans',Arial,sans-serif;font-size:12.60px">0.75</text>
<text x="287.80" y="524.90" style="font-family:'Liberation Sans',Arial,sans-serif;font-size:12.60px">1</text>
<text transform="translate(43.00,676.00) rotate(-90)" x="0" y="0" style="font-family:'Liberation Sans',Arial,sans-serif;font-size:16.50px;letter-spacing:0.005px">Conductivity (S cm<tspan dy="-6.5" style="font-size:11px">-1</tspan><tspan dy="6.5">)</tspan></text>
<text transform="translate(336.80,669.40) rotate(-90)" x="0" y="0" style="font-family:'Liberation Sans',Arial,sans-serif;font-size:16.40px;letter-spacing:0.007px">Weight Fraction</text>
<text x="130.90" y="726.90" style="font-family:'Liberation Sans',Arial,sans-serif;font-size:19.00px;letter-spacing:0.420px">Time (min.)</text>
<text x="16.40" y="509.60" style="font-family:'Liberation Sans',Arial,sans-serif;font-size:27.00px;font-weight:bold;font-style:italic;letter-spacing:0.900px">b)</text>
<path d="M122.3 480.7H161.7" stroke="#000" stroke-width="2.2" fill="none" stroke-dasharray="2 6.3 6.7 6.2 6.8 6.2 5.2"/>
<path d="M122 496.8H161.2" stroke="#000" stroke-width="2.6" fill="none"/>
<text x="170.70" y="484.10" style="font-family:'Liberation Sans',Arial,sans-serif;font-size:13.80px;font-style:italic;letter-spacing:0.164px">Conductivity</text>
<text x="171.00" y="500.40" style="font-family:'Liberation Sans',Arial,sans-serif;font-size:13.80px;font-style:italic;letter-spacing:0.136px">Weight Fraction</text>
<path d="M83.3 693.5 L84.3 692.9 L85.3 692.9 L86.4 691.2 L87.4 691.4 L88.4 690.0 L89.4 690.6 L90.5 689.6 L91.5 689.4 L92.5 688.1 L93.5 687.8 L94.5 687.0 L95.6 686.2 L96.6 685.9 L97.6 684.7 L98.6 684.4 L99.7 684.2 L100.7 683.3 L101.7 682.6 L102.7 682.8 L103.8 681.5 L104.8 680.6 L105.9 680.2 L106.9 679.4 L108.0 678.8 L109.0 678.2 L110.1 678.4 L111.1 677.0 L112.2 676.5 L113.2 676.0 L114.3 675.9 L115.3 674.4 L116.4 673.7 L117.4 674.1 L118.5 672.1 L119.5 671.9 L120.5 671.6 L121.6 671.5 L122.6 669.7 L123.7 668.5 L124.7 668.9 L125.8 667.8 L126.8 667.2 L127.9 666.8 L128.9 666.1 L130.0 665.5 L131.0 664.5 L132.1 664.5 L133.1 663.9 L134.2 662.7 L135.2 661.9 L136.3 661.6 L137.3 660.9 L138.3 659.7 L139.4 659.2 L140.4 659.1 L141.5 658.0 L142.5 657.2 L143.5 656.8 L144.6 656.0 L145.6 655.3 L146.7 654.0 L147.7 654.6 L148.8 653.4 L149.8 652.3 L150.8 652.3 L151.9 651.4 L152.9 650.6 L154.0 650.3 L155.0 650.1 L156.0 648.9 L157.1 648.6 L158.1 648.2 L159.1 646.5 L160.2 646.0 L161.2 645.8 L162.2 644.4 L163.2 644.2 L164.3 644.2 L165.3 643.4 L166.3 642.7 L167.4 641.2 L168.4 642.0 L169.4 640.8 L170.5 640.2 L171.5 639.5 L172.5 638.1 L173.5 637.6 L174.6 637.1 L175.6 637.5 L176.6 636.0 L177.7 635.5 L178.7 634.9 L179.7 634.6 L180.8 634.1 L181.8 633.4 L182.9 632.3 L183.9 631.1 L185.0 631.7 L186.0 631.2 L187.1 631.0 L188.1 630.0 L189.2 629.3 L190.2 629.1 L191.3 627.8 L192.3 627.4 L193.4 626.9 L194.4 626.8 L195.5 626.9 L196.5 625.9 L197.6 625.5 L198.6 624.6 L199.7 624.1 L200.7 623.3 L201.8 622.8 L202.8 621.5 L203.9 621.4 L204.9 620.9 L206.0 621.1 L207.0 620.7 L208.1 620.5 L209.1 620.3 L210.2 619.2 L211.2 619.4 L212.2 619.3 L213.3 618.3 L214.3 618.3 L215.4 617.2 L216.4 616.1 L217.5 616.1 L218.6 615.2 L219.7 614.9 L220.7 614.1 L221.8 613.8 L222.9 612.4 L224.0 613.2 L225.0 612.4 L226.1 611.2 L227.2 610.4 L228.3 610.1 L229.4 609.8 L230.6 609.1 L231.7 608.5 L232.8 607.1 L233.9 606.8 L235.0 607.1 L236.1 606.2 L237.2 605.0 L238.3 604.7 L239.4 604.0 L240.5 603.6 L241.6 603.8 L242.7 602.9 L243.7 603.0 L244.8 602.3 L245.8 601.3 L246.9 601.2 L248.0 601.8 L249.0 600.3 L250.1 599.8 L251.1 600.2 L252.2 599.4 L253.2 598.9 L254.3 598.9 L255.3 597.2 L256.3 597.5 L257.4 596.4 L258.4 595.8 L259.4 595.7 L260.5 596.1 L261.5 595.3 L262.5 594.4 L263.5 594.3 L264.6 595.0 L265.6 594.5 L266.7 593.4 L267.8 594.4 L268.9 593.1 L270.0 592.6 L271.1 592.7 L272.2 592.8 L273.3 592.8 L274.4 592.3 L275.4 591.3 L276.4 590.8 L277.5 590.0 L278.5 590.1 L279.5 589.4 L280.6 589.3 L281.6 588.3 L282.6 588.3" stroke="#008a00" stroke-width="2.3" fill="none" stroke-linejoin="round"/>
<path d="M82.3 612.2L83.3 610.4M89.2 600.7L90.2 599.1M95.5 590.9L96.9 589.5M107.5 582.7L109.3 581.9M120.8 577.9L122.8 577.3M134.0 574.5L136.0 574.1M147.3 572.1L149.3 571.7M160.7 570.2L162.7 570.0M174.2 568.6L176.2 568.4M187.6 567.1L189.6 566.9M201.3 566.5L203.3 566.5M214.9 565.8L216.9 565.8M228.5 565.5L230.5 565.5M242.1 565.3L244.1 565.3M255.8 565.7L257.8 565.7M269.4 565.7L271.4 565.7" stroke="#008a00" stroke-width="2.4" stroke-linecap="round" fill="none"/>
<text x="126.20" y="619.60" style="font-family:'Liberation Sans',Arial,sans-serif;font-size:16.00px;font-style:italic;letter-spacing:0.517px">β-Ca<tspan dy="5.5" style="font-size:10.5px">2</tspan><tspan dy="-5.5">ND</tspan></text>
<path d="M148.9 626.2L154.2 643.5" stroke="#000" stroke-width="1.2" fill="none"/><path d="M155.5 647.5l-4.0 -6.2l4.4 -1.4z" fill="#000"/>
<rect x="411.1" y="521.0" width="205.4" height="172.6" fill="none" stroke="#000" stroke-width="1.6"/>
<path d="M418.5 693.6v-4.2M418.5 521.0v4.2M458.0 693.6v-4.2M458.0 521.0v4.2M497.4 693.6v-4.2M497.4 521.0v4.2M536.9 693.6v-4.2M536.9 521.0v4.2M576.4 693.6v-4.2M576.4 521.0v4.2M615.8 693.6v-4.2M615.8 521.0v4.2M438.2 693.6v-2.3M438.2 521.0v2.3M477.7 693.6v-2.3M477.7 521.0v2.3M517.2 693.6v-2.3M517.2 521.0v2.3M556.6 693.6v-2.3M556.6 521.0v2.3M596.1 693.6v-2.3M596.1 521.0v2.3M411.1 541.9h4.5M411.1 528.4h2.3M411.1 586.7h4.5M411.1 573.2h2.3M411.1 565.3h2.3M411.1 559.7h2.3M411.1 555.4h2.3M411.1 551.8h2.3M411.1 548.8h2.3M411.1 546.2h2.3M411.1 544.0h2.3M411.1 631.6h4.5M411.1 618.1h2.3M411.1 610.2h2.3M411.1 604.6h2.3M411.1 600.2h2.3M411.1 596.7h2.3M411.1 593.7h2.3M411.1 591.1h2.3M411.1 588.8h2.3M411.1 676.4h4.5M411.1 662.9h2.3M411.1 655.0h2.3M411.1 649.4h2.3M411.1 645.1h2.3M411.1 641.5h2.3M411.1 638.5h2.3M411.1 635.9h2.3M411.1 633.6h2.3M616.5 650.4h-4.5M616.5 607.1h-4.5M616.5 563.9h-4.5M616.5 672.0h-2.3M616.5 628.7h-2.3M616.5 585.5h-2.3M616.5 542.2h-2.3" stroke="#000" stroke-width="1.4" fill="none"/>
<text x="415.00" y="708.80" style="font-family:'Liberation Sans',Arial,sans-serif;font-size:12.60px">0</text>
<text x="450.47" y="708.80" style="font-family:'Liberation Sans',Arial,sans-serif;font-size:12.60px">50</text>
<text x="486.43" y="708.80" style="font-family:'Liberation Sans',Arial,sans-serif;font-size:12.60px">100</text>
<text x="525.89" y="708.80" style="font-family:'Liberation Sans',Arial,sans-serif;font-size:12.60px">150</text>
<text x="565.36" y="708.80" style="font-family:'Liberation Sans',Arial,sans-serif;font-size:12.60px">200</text>
<text x="604.83" y="708.80" style="font-family:'Liberation Sans',Arial,sans-serif;font-size:12.60px">250</text>
<text x="385.10" y="546.10" style="font-family:'Liberation Sans',Arial,sans-serif;font-size:12.60px;letter-spacing:-0.233px">10<tspan dy="-5.3" style="font-size:8.6px">-1</tspan></text>
<text x="385.10" y="590.93" style="font-family:'Liberation Sans',Arial,sans-serif;font-size:12.60px;letter-spacing:-0.233px">10<tspan dy="-5.3" style="font-size:8.6px">-2</tspan></text>
<text x="385.10" y="635.76" style="font-family:'Liberation Sans',Arial,sans-serif;font-size:12.60px;letter-spacing:-0.233px">10<tspan dy="-5.3" style="font-size:8.6px">-3</tspan></text>
<text x="385.10" y="680.59" style="font-family:'Liberation Sans',Arial,sans-serif;font-size:12.60px;letter-spacing:-0.233px">10<tspan dy="-5.3" style="font-size:8.6px">-4</tspan></text>
<text x="622.00" y="697.90" style="font-family:'Liberation Sans',Arial,sans-serif;font-size:12.60px">0</text>
<text x="622.00" y="654.65" style="font-family:'Liberation Sans',Arial,sans-serif;font-size:12.60px">0.25</text>
<text x="622.00" y="611.40" style="font-family:'Liberation Sans',Arial,sans-serif;font-size:12.60px">0.5</text>
<text x="622.00" y="568.15" style="font-family:'Liberation Sans',Arial,sans-serif;font-size:12.60px">0.75</text>
<text x="621.00" y="524.90" style="font-family:'Liberation Sans',Arial,sans-serif;font-size:12.60px">1</text>
<text transform="translate(377.50,675.70) rotate(-90)" x="0" y="0" style="font-family:'Liberation Sans',Arial,sans-serif;font-size:16.50px;letter-spacing:-0.010px">Conductivity (S cm<tspan dy="-6.5" style="font-size:11px">-1</tspan><tspan dy="6.5">)</tspan></text>
<text transform="translate(670.00,669.40) rotate(-90)" x="0" y="0" style="font-family:'Liberation Sans',Arial,sans-serif;font-size:16.40px;letter-spacing:0.007px">Weight Fraction</text>
<text x="465.30" y="726.90" style="font-family:'Liberation Sans',Arial,sans-serif;font-size:19.00px;letter-spacing:0.420px">Time (min.)</text>
<text x="368.60" y="509.80" style="font-family:'Liberation Sans',Arial,sans-serif;font-size:27.00px;font-weight:bold;font-style:italic;letter-spacing:2.200px">c)</text>
<path d="M419.0 693.6C420.6 692.2 425.7 688.0 428.8 685.1C431.9 682.2 435.5 678.7 437.7 676.2C439.9 673.7 439.9 673.2 442.1 670.0C444.3 666.8 448.0 661.2 451.0 656.7C454.0 652.2 457.2 647.8 459.9 643.3C462.6 638.8 464.6 635.0 467.0 630.0C469.4 625.0 471.4 619.4 474.3 613.2C477.2 607.1 480.6 600.3 484.4 593.1C488.2 585.9 493.5 575.8 497.3 570.1C501.1 564.4 504.0 562.3 507.3 558.7C510.6 555.1 513.7 551.1 517.3 548.6C520.9 546.1 525.8 544.8 528.8 543.6C531.8 542.4 532.3 542.4 535.0 541.2C537.7 540.0 541.4 538.0 545.1 536.4C548.8 534.8 553.4 532.5 557.0 531.4C560.6 530.3 562.8 530.5 566.5 529.9C570.2 529.3 573.9 528.3 579.1 527.8C584.4 527.2 591.9 527.0 598.0 526.6C604.1 526.2 612.8 525.9 615.8 525.7" stroke="#0000ff" stroke-width="2.1" fill="none" stroke-linejoin="round"/>
<path d="M421.1 533.8L421.3 535.8M422.6 547.3L422.8 549.3M424.4 560.8L424.6 562.8M425.8 574.1L426.0 576.1M427.4 587.5L427.6 589.5M428.8 601.2L429.0 603.2M430.1 614.7L430.3 616.7M432.3 628.1L432.7 630.1M434.4 641.0L434.8 643.0M437.3 654.3L437.7 656.3M440.9 667.2L441.5 669.2" stroke="#0000ff" stroke-width="2.4" stroke-linecap="round" fill="none"/>
<text x="516.70" y="611.90" style="font-family:'Liberation Sans',Arial,sans-serif;font-size:16.00px;font-style:italic;letter-spacing:0.433px">α-Ca<tspan dy="5.5" style="font-size:10.5px">2</tspan><tspan dy="-5.5">ND</tspan></text>
<path d="M548.4 591.6L526 569.8" stroke="#000" stroke-width="1.2" fill="none"/><path d="M522.3 566.3l6.5 2.8l-3.2 3.3z" fill="#000"/>
</svg></body></html>
